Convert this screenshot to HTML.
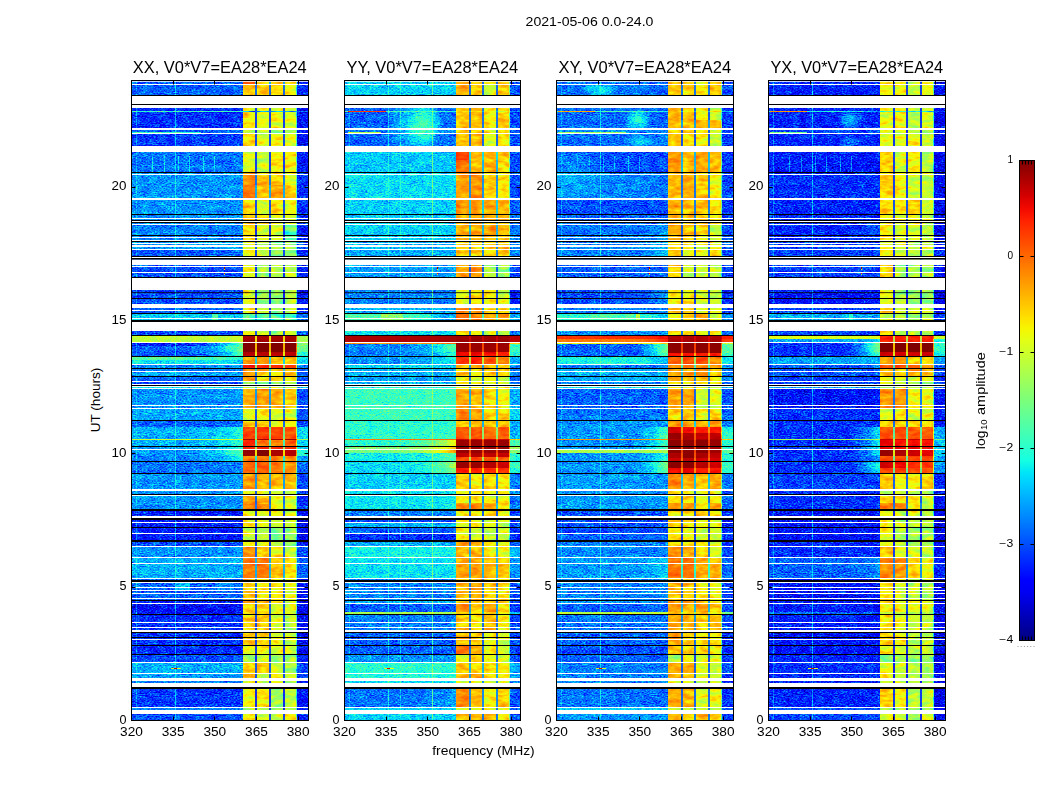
<!DOCTYPE html><html><head><meta charset="utf-8"><title>waterfall</title><style>html,body{margin:0;padding:0;background:#fff}svg{display:block}text{font-family:"Liberation Sans",sans-serif;fill:#000}</style></head><body><svg width="1050" height="800" viewBox="0 0 1050 800"><defs><mask id="mnear2" maskContentUnits="objectBoundingBox"><rect x="0" y="0" width="1" height="1" fill="url(#hg2)"/></mask><linearGradient id="hg2" x1="0" y1="0" x2="1" y2="0"><stop offset="0.72" stop-color="#000"/><stop offset="0.86" stop-color="#606060"/><stop offset="0.95" stop-color="#d0d0d0"/><stop offset="1" stop-color="#fff"/></linearGradient><mask id="mnear" maskContentUnits="objectBoundingBox"><rect x="0" y="0" width="1" height="1" fill="url(#hg)"/></mask><linearGradient id="hg" x1="0" y1="0" x2="1" y2="0"><stop offset="0.5" stop-color="#000"/><stop offset="0.75" stop-color="#404040"/><stop offset="0.9" stop-color="#a0a0a0"/><stop offset="1" stop-color="#fff"/></linearGradient><filter id="nz" x="0" y="0" width="1" height="1" color-interpolation-filters="sRGB"><feTurbulence type="fractalNoise" baseFrequency="0.5 0.9" numOctaves="2" seed="7"/><feColorMatrix type="matrix" values="1 0 0 0 0  1 0 0 0 0  1 0 0 0 0  0 0 0 0 1" result="n"/><feTurbulence type="fractalNoise" baseFrequency="0.12 0.2" numOctaves="2" seed="12"/><feColorMatrix type="matrix" values="1 0 0 0 0  1 0 0 0 0  1 0 0 0 0  0 0 0 0 1" result="m"/><feComposite in="n" in2="m" operator="arithmetic" k1="0" k2="0.72" k3="0.28" k4="0" result="n"/><feComposite in="SourceGraphic" in2="n" operator="arithmetic" k1="-0.620" k2="1.310" k3="0.620" k4="-0.3100"/><feComponentTransfer><feFuncR type="table" tableValues="0 0 0 0 0 0 0 0 0 0 0 0 0 0 0 0 0 0 0 0 0 0 0 0 0 0 0 0 0 0 0 0 0 0 0 0 0.031 0.063 0.098 0.129 0.161 0.192 0.227 0.259 0.29 0.322 0.353 0.388 0.42 0.451 0.482 0.518 0.549 0.58 0.612 0.647 0.678 0.71 0.741 0.773 0.808 0.839 0.871 0.902 0.937 0.969 1 1 1 1 1 1 1 1 1 1 1 1 1 1 1 1 1 1 1 1 1 1 1 1 0.953 0.91 0.863 0.82 0.773 0.725 0.682 0.635 0.592 0.545 0.502"/><feFuncG type="table" tableValues="0 0 0 0 0 0 0 0 0 0 0 0 0 0.02 0.059 0.098 0.141 0.18 0.22 0.259 0.302 0.341 0.38 0.42 0.459 0.502 0.541 0.58 0.62 0.659 0.698 0.741 0.78 0.82 0.859 0.898 0.941 0.98 1 1 1 1 1 1 1 1 1 1 1 1 1 1 1 1 1 1 1 1 1 1 1 1 1 1 1 0.965 0.925 0.89 0.851 0.816 0.776 0.741 0.702 0.667 0.631 0.592 0.557 0.518 0.482 0.443 0.408 0.369 0.333 0.298 0.259 0.224 0.184 0.149 0.11 0.075 0.035 0 0 0 0 0 0 0 0 0 0"/><feFuncB type="table" tableValues="0.502 0.545 0.592 0.635 0.682 0.725 0.773 0.82 0.863 0.91 0.953 1 1 1 1 1 1 1 1 1 1 1 1 1 1 1 1 1 1 1 1 1 1 1 1 0.969 0.937 0.902 0.871 0.839 0.808 0.773 0.741 0.71 0.678 0.647 0.612 0.58 0.549 0.518 0.482 0.451 0.42 0.388 0.353 0.322 0.29 0.259 0.227 0.192 0.161 0.129 0.098 0.063 0.031 0 0 0 0 0 0 0 0 0 0 0 0 0 0 0 0 0 0 0 0 0 0 0 0 0 0 0 0 0 0 0 0 0 0 0 0"/><feFuncA type="table" tableValues="1 1"/></feComponentTransfer></filter><filter id="nb" x="0" y="0" width="1" height="1" color-interpolation-filters="sRGB"><feTurbulence type="fractalNoise" baseFrequency="0.1 0.22" numOctaves="3" seed="11"/><feColorMatrix type="matrix" values="1 0 0 0 0  1 0 0 0 0  1 0 0 0 0  0 0 0 0 1" result="n"/><feComposite in="SourceGraphic" in2="n" operator="arithmetic" k1="-0.700" k2="1.350" k3="0.700" k4="-0.3500"/><feComponentTransfer><feFuncR type="table" tableValues="0 0 0 0 0 0 0 0 0 0 0 0 0 0 0 0 0 0 0 0 0 0 0 0 0 0 0 0 0 0 0 0 0 0 0 0 0.031 0.063 0.098 0.129 0.161 0.192 0.227 0.259 0.29 0.322 0.353 0.388 0.42 0.451 0.482 0.518 0.549 0.58 0.612 0.647 0.678 0.71 0.741 0.773 0.808 0.839 0.871 0.902 0.937 0.969 1 1 1 1 1 1 1 1 1 1 1 1 1 1 1 1 1 1 1 1 1 1 1 1 0.953 0.91 0.863 0.82 0.773 0.725 0.682 0.635 0.592 0.545 0.502"/><feFuncG type="table" tableValues="0 0 0 0 0 0 0 0 0 0 0 0 0 0.02 0.059 0.098 0.141 0.18 0.22 0.259 0.302 0.341 0.38 0.42 0.459 0.502 0.541 0.58 0.62 0.659 0.698 0.741 0.78 0.82 0.859 0.898 0.941 0.98 1 1 1 1 1 1 1 1 1 1 1 1 1 1 1 1 1 1 1 1 1 1 1 1 1 1 1 0.965 0.925 0.89 0.851 0.816 0.776 0.741 0.702 0.667 0.631 0.592 0.557 0.518 0.482 0.443 0.408 0.369 0.333 0.298 0.259 0.224 0.184 0.149 0.11 0.075 0.035 0 0 0 0 0 0 0 0 0 0"/><feFuncB type="table" tableValues="0.502 0.545 0.592 0.635 0.682 0.725 0.773 0.82 0.863 0.91 0.953 1 1 1 1 1 1 1 1 1 1 1 1 1 1 1 1 1 1 1 1 1 1 1 1 0.969 0.937 0.902 0.871 0.839 0.808 0.773 0.741 0.71 0.678 0.647 0.612 0.58 0.549 0.518 0.482 0.451 0.42 0.388 0.353 0.322 0.29 0.259 0.227 0.192 0.161 0.129 0.098 0.063 0.031 0 0 0 0 0 0 0 0 0 0 0 0 0 0 0 0 0 0 0 0 0 0 0 0 0 0 0 0 0 0 0 0 0 0 0 0"/><feFuncA type="table" tableValues="1 1"/></feComponentTransfer></filter><radialGradient id="bl5e"><stop offset="0" stop-color="#5e5e5e"/><stop offset=".5" stop-color="#5e5e5e" stop-opacity=".6"/><stop offset="1" stop-color="#5e5e5e" stop-opacity="0"/></radialGradient><radialGradient id="bl78"><stop offset="0" stop-color="#787878"/><stop offset=".5" stop-color="#787878" stop-opacity=".6"/><stop offset="1" stop-color="#787878" stop-opacity="0"/></radialGradient><radialGradient id="bl33"><stop offset="0" stop-color="#333333"/><stop offset=".5" stop-color="#333333" stop-opacity=".6"/><stop offset="1" stop-color="#333333" stop-opacity="0"/></radialGradient><radialGradient id="bl4f"><stop offset="0" stop-color="#4f4f4f"/><stop offset=".5" stop-color="#4f4f4f" stop-opacity=".6"/><stop offset="1" stop-color="#4f4f4f" stop-opacity="0"/></radialGradient><radialGradient id="bl6b"><stop offset="0" stop-color="#6b6b6b"/><stop offset=".5" stop-color="#6b6b6b" stop-opacity=".6"/><stop offset="1" stop-color="#6b6b6b" stop-opacity="0"/></radialGradient><radialGradient id="bl5c"><stop offset="0" stop-color="#5c5c5c"/><stop offset=".5" stop-color="#5c5c5c" stop-opacity=".6"/><stop offset="1" stop-color="#5c5c5c" stop-opacity="0"/></radialGradient><radialGradient id="bl61"><stop offset="0" stop-color="#616161"/><stop offset=".5" stop-color="#616161" stop-opacity=".6"/><stop offset="1" stop-color="#616161" stop-opacity="0"/></radialGradient><radialGradient id="bl52"><stop offset="0" stop-color="#525252"/><stop offset=".5" stop-color="#525252" stop-opacity=".6"/><stop offset="1" stop-color="#525252" stop-opacity="0"/></radialGradient><radialGradient id="bl47"><stop offset="0" stop-color="#474747"/><stop offset=".5" stop-color="#474747" stop-opacity=".6"/><stop offset="1" stop-color="#474747" stop-opacity="0"/></radialGradient><linearGradient id="p0L" x2="0" y2="1"><stop offset=".0008" stop-color="#383838"/><stop offset=".0242" stop-color="#383838"/><stop offset=".0242" stop-color="#2b2b2b"/><stop offset=".0477" stop-color="#2b2b2b"/><stop offset=".0477" stop-color="#4c4c4c"/><stop offset=".0492" stop-color="#4c4c4c"/><stop offset=".0492" stop-color="#2b2b2b"/><stop offset=".0773" stop-color="#2b2b2b"/><stop offset=".0773" stop-color="#383838"/><stop offset=".0836" stop-color="#383838"/><stop offset=".0836" stop-color="#2e2e2e"/><stop offset=".1023" stop-color="#2e2e2e"/><stop offset=".1023" stop-color="#3d3d3d"/><stop offset=".1445" stop-color="#3d3d3d"/><stop offset=".1445" stop-color="#454545"/><stop offset=".2258" stop-color="#454545"/><stop offset=".2258" stop-color="#404040"/><stop offset=".2523" stop-color="#404040"/><stop offset=".2523" stop-color="#474747"/><stop offset=".2648" stop-color="#474747"/><stop offset=".2648" stop-color="#363636"/><stop offset=".2773" stop-color="#363636"/><stop offset=".2773" stop-color="#333333"/><stop offset=".3508" stop-color="#333333"/><stop offset=".3508" stop-color="#383838"/><stop offset=".3648" stop-color="#383838"/><stop offset=".3648" stop-color="#545454"/><stop offset=".3758" stop-color="#545454"/><stop offset=".3758" stop-color="#333333"/><stop offset=".3992" stop-color="#333333"/><stop offset=".3992" stop-color="#949494"/><stop offset=".4102" stop-color="#949494"/><stop offset=".4102" stop-color="#262626"/><stop offset=".4148" stop-color="#262626"/><stop offset=".4148" stop-color="#383838"/><stop offset=".4242" stop-color="#383838"/><stop offset=".4242" stop-color="#333333"/><stop offset=".432" stop-color="#333333"/><stop offset=".432" stop-color="#737373"/><stop offset=".4367" stop-color="#737373"/><stop offset=".4367" stop-color="#5c5c5c"/><stop offset=".4445" stop-color="#5c5c5c"/><stop offset=".4445" stop-color="#404040"/><stop offset=".4555" stop-color="#404040"/><stop offset=".4555" stop-color="#4c4c4c"/><stop offset=".4633" stop-color="#4c4c4c"/><stop offset=".4633" stop-color="#383838"/><stop offset=".4711" stop-color="#383838"/><stop offset=".4711" stop-color="#333333"/><stop offset=".4773" stop-color="#333333"/><stop offset=".4773" stop-color="#595959"/><stop offset=".482" stop-color="#595959"/><stop offset=".482" stop-color="#454545"/><stop offset=".5133" stop-color="#454545"/><stop offset=".5133" stop-color="#4a4a4a"/><stop offset=".532" stop-color="#4a4a4a"/><stop offset=".532" stop-color="#383838"/><stop offset=".5414" stop-color="#383838"/><stop offset=".5414" stop-color="#4c4c4c"/><stop offset=".5602" stop-color="#4c4c4c"/><stop offset=".5602" stop-color="#999999"/><stop offset=".5617" stop-color="#999999"/><stop offset=".5617" stop-color="#4c4c4c"/><stop offset=".5727" stop-color="#4c4c4c"/><stop offset=".5727" stop-color="#474747"/><stop offset=".5773" stop-color="#474747"/><stop offset=".5773" stop-color="#454545"/><stop offset=".5867" stop-color="#454545"/><stop offset=".5867" stop-color="#404040"/><stop offset=".5961" stop-color="#404040"/><stop offset=".5961" stop-color="#3d3d3d"/><stop offset=".6148" stop-color="#3d3d3d"/><stop offset=".6148" stop-color="#454545"/><stop offset=".6414" stop-color="#454545"/><stop offset=".6414" stop-color="#474747"/><stop offset=".6492" stop-color="#474747"/><stop offset=".6492" stop-color="#454545"/><stop offset=".6711" stop-color="#454545"/><stop offset=".6711" stop-color="#262626"/><stop offset=".7195" stop-color="#262626"/><stop offset=".7195" stop-color="#333333"/><stop offset=".7289" stop-color="#333333"/><stop offset=".7289" stop-color="#454545"/><stop offset=".7461" stop-color="#454545"/><stop offset=".7461" stop-color="#4c4c4c"/><stop offset=".7789" stop-color="#4c4c4c"/><stop offset=".7789" stop-color="#383838"/><stop offset=".8117" stop-color="#383838"/><stop offset=".8117" stop-color="#262626"/><stop offset=".818" stop-color="#262626"/><stop offset=".818" stop-color="#212121"/><stop offset=".8352" stop-color="#212121"/><stop offset=".8352" stop-color="#2b2b2b"/><stop offset=".8836" stop-color="#2b2b2b"/><stop offset=".8836" stop-color="#292929"/><stop offset=".8977" stop-color="#292929"/><stop offset=".8977" stop-color="#333333"/><stop offset=".9102" stop-color="#333333"/><stop offset=".9102" stop-color="#4c4c4c"/><stop offset=".9273" stop-color="#4c4c4c"/><stop offset=".9273" stop-color="#474747"/><stop offset=".9383" stop-color="#474747"/><stop offset=".9383" stop-color="#404040"/><stop offset=".9508" stop-color="#404040"/><stop offset=".9508" stop-color="#2e2e2e"/><stop offset=".9805" stop-color="#2e2e2e"/><stop offset=".9805" stop-color="#404040"/><stop offset=".9898" stop-color="#404040"/><stop offset=".9898" stop-color="#333333"/><stop offset="1" stop-color="#333333"/></linearGradient><linearGradient id="p0b0" x2="0" y2="1"><stop offset=".0008" stop-color="#d1d1d1"/><stop offset=".0055" stop-color="#d1d1d1"/><stop offset=".0055" stop-color="#b3b3b3"/><stop offset=".0242" stop-color="#b3b3b3"/><stop offset=".0242" stop-color="#a3a3a3"/><stop offset=".0477" stop-color="#a3a3a3"/><stop offset=".0477" stop-color="#525252"/><stop offset=".0492" stop-color="#525252"/><stop offset=".0492" stop-color="#a8a8a8"/><stop offset=".0773" stop-color="#a8a8a8"/><stop offset=".0773" stop-color="#919191"/><stop offset=".0836" stop-color="#919191"/><stop offset=".0836" stop-color="#adadad"/><stop offset=".1023" stop-color="#adadad"/><stop offset=".1023" stop-color="#9e9e9e"/><stop offset=".1445" stop-color="#9e9e9e"/><stop offset=".1445" stop-color="#c2c2c2"/><stop offset=".1633" stop-color="#c2c2c2"/><stop offset=".1633" stop-color="#c7c7c7"/><stop offset=".1836" stop-color="#c7c7c7"/><stop offset=".1836" stop-color="#adadad"/><stop offset=".2102" stop-color="#adadad"/><stop offset=".2102" stop-color="#b3b3b3"/><stop offset=".2258" stop-color="#b3b3b3"/><stop offset=".2258" stop-color="#adadad"/><stop offset=".2523" stop-color="#adadad"/><stop offset=".2523" stop-color="#9e9e9e"/><stop offset=".2648" stop-color="#9e9e9e"/><stop offset=".2648" stop-color="#a3a3a3"/><stop offset=".3086" stop-color="#a3a3a3"/><stop offset=".3086" stop-color="#9e9e9e"/><stop offset=".3508" stop-color="#9e9e9e"/><stop offset=".3508" stop-color="#adadad"/><stop offset=".3648" stop-color="#adadad"/><stop offset=".3648" stop-color="#787878"/><stop offset=".3758" stop-color="#787878"/><stop offset=".3758" stop-color="#999999"/><stop offset=".3992" stop-color="#999999"/><stop offset=".3992" stop-color="#f7f7f7"/><stop offset=".4102" stop-color="#f7f7f7"/><stop offset=".4102" stop-color="#ffffff"/><stop offset=".4242" stop-color="#ffffff"/><stop offset=".4242" stop-color="#f2f2f2"/><stop offset=".432" stop-color="#f2f2f2"/><stop offset=".432" stop-color="#b8b8b8"/><stop offset=".4367" stop-color="#b8b8b8"/><stop offset=".4367" stop-color="#c2c2c2"/><stop offset=".4445" stop-color="#c2c2c2"/><stop offset=".4445" stop-color="#e0e0e0"/><stop offset=".4508" stop-color="#e0e0e0"/><stop offset=".4508" stop-color="#c4c4c4"/><stop offset=".4555" stop-color="#c4c4c4"/><stop offset=".4555" stop-color="#bdbdbd"/><stop offset=".4633" stop-color="#bdbdbd"/><stop offset=".4633" stop-color="#b8b8b8"/><stop offset=".4711" stop-color="#b8b8b8"/><stop offset=".4711" stop-color="#919191"/><stop offset=".482" stop-color="#919191"/><stop offset=".482" stop-color="#b8b8b8"/><stop offset=".5133" stop-color="#b8b8b8"/><stop offset=".5133" stop-color="#9e9e9e"/><stop offset=".532" stop-color="#9e9e9e"/><stop offset=".532" stop-color="#adadad"/><stop offset=".5414" stop-color="#adadad"/><stop offset=".5414" stop-color="#d6d6d6"/><stop offset=".5602" stop-color="#d6d6d6"/><stop offset=".5602" stop-color="#f7f7f7"/><stop offset=".5617" stop-color="#f7f7f7"/><stop offset=".5617" stop-color="#dedede"/><stop offset=".5727" stop-color="#dedede"/><stop offset=".5727" stop-color="#e0e0e0"/><stop offset=".5773" stop-color="#e0e0e0"/><stop offset=".5773" stop-color="#fafafa"/><stop offset=".5867" stop-color="#fafafa"/><stop offset=".5867" stop-color="#c7c7c7"/><stop offset=".5961" stop-color="#c7c7c7"/><stop offset=".5961" stop-color="#cccccc"/><stop offset=".6148" stop-color="#cccccc"/><stop offset=".6148" stop-color="#bdbdbd"/><stop offset=".6414" stop-color="#bdbdbd"/><stop offset=".6414" stop-color="#9e9e9e"/><stop offset=".6492" stop-color="#9e9e9e"/><stop offset=".6492" stop-color="#bdbdbd"/><stop offset=".6617" stop-color="#bdbdbd"/><stop offset=".6617" stop-color="#c7c7c7"/><stop offset=".6711" stop-color="#c7c7c7"/><stop offset=".6711" stop-color="#999999"/><stop offset=".6836" stop-color="#999999"/><stop offset=".6836" stop-color="#a8a8a8"/><stop offset=".6992" stop-color="#a8a8a8"/><stop offset=".6992" stop-color="#999999"/><stop offset=".7195" stop-color="#999999"/><stop offset=".7195" stop-color="#a3a3a3"/><stop offset=".7289" stop-color="#a3a3a3"/><stop offset=".7289" stop-color="#c2c2c2"/><stop offset=".7461" stop-color="#c2c2c2"/><stop offset=".7461" stop-color="#c7c7c7"/><stop offset=".7789" stop-color="#c7c7c7"/><stop offset=".7789" stop-color="#b3b3b3"/><stop offset=".8117" stop-color="#b3b3b3"/><stop offset=".8117" stop-color="#b8b8b8"/><stop offset=".818" stop-color="#b8b8b8"/><stop offset=".818" stop-color="#adadad"/><stop offset=".8617" stop-color="#adadad"/><stop offset=".8617" stop-color="#b3b3b3"/><stop offset=".8836" stop-color="#b3b3b3"/><stop offset=".8836" stop-color="#a3a3a3"/><stop offset=".8977" stop-color="#a3a3a3"/><stop offset=".8977" stop-color="#858585"/><stop offset=".9102" stop-color="#858585"/><stop offset=".9102" stop-color="#adadad"/><stop offset=".9273" stop-color="#adadad"/><stop offset=".9273" stop-color="#b8b8b8"/><stop offset=".9383" stop-color="#b8b8b8"/><stop offset=".9383" stop-color="#9e9e9e"/><stop offset=".9508" stop-color="#9e9e9e"/><stop offset=".9508" stop-color="#a3a3a3"/><stop offset=".9805" stop-color="#a3a3a3"/><stop offset=".9805" stop-color="#919191"/><stop offset=".9898" stop-color="#919191"/><stop offset=".9898" stop-color="#a8a8a8"/><stop offset="1" stop-color="#a8a8a8"/></linearGradient><linearGradient id="p0b1" x2="0" y2="1"><stop offset=".0008" stop-color="#b3b3b3"/><stop offset=".0055" stop-color="#b3b3b3"/><stop offset=".0055" stop-color="#adadad"/><stop offset=".0242" stop-color="#adadad"/><stop offset=".0242" stop-color="#a3a3a3"/><stop offset=".0477" stop-color="#a3a3a3"/><stop offset=".0477" stop-color="#525252"/><stop offset=".0492" stop-color="#525252"/><stop offset=".0492" stop-color="#9e9e9e"/><stop offset=".0773" stop-color="#9e9e9e"/><stop offset=".0773" stop-color="#919191"/><stop offset=".0836" stop-color="#919191"/><stop offset=".0836" stop-color="#9e9e9e"/><stop offset=".1023" stop-color="#9e9e9e"/><stop offset=".1023" stop-color="#949494"/><stop offset=".1445" stop-color="#949494"/><stop offset=".1445" stop-color="#b3b3b3"/><stop offset=".1836" stop-color="#b3b3b3"/><stop offset=".1836" stop-color="#9e9e9e"/><stop offset=".2102" stop-color="#9e9e9e"/><stop offset=".2102" stop-color="#adadad"/><stop offset=".2258" stop-color="#adadad"/><stop offset=".2258" stop-color="#9e9e9e"/><stop offset=".2523" stop-color="#9e9e9e"/><stop offset=".2523" stop-color="#949494"/><stop offset=".2648" stop-color="#949494"/><stop offset=".2648" stop-color="#9e9e9e"/><stop offset=".2773" stop-color="#9e9e9e"/><stop offset=".2773" stop-color="#858585"/><stop offset=".3508" stop-color="#858585"/><stop offset=".3508" stop-color="#949494"/><stop offset=".3648" stop-color="#949494"/><stop offset=".3648" stop-color="#707070"/><stop offset=".3758" stop-color="#707070"/><stop offset=".3758" stop-color="#919191"/><stop offset=".3992" stop-color="#919191"/><stop offset=".3992" stop-color="#f7f7f7"/><stop offset=".4102" stop-color="#f7f7f7"/><stop offset=".4102" stop-color="#ffffff"/><stop offset=".4242" stop-color="#ffffff"/><stop offset=".4242" stop-color="#f2f2f2"/><stop offset=".432" stop-color="#f2f2f2"/><stop offset=".432" stop-color="#bdbdbd"/><stop offset=".4445" stop-color="#bdbdbd"/><stop offset=".4445" stop-color="#e0e0e0"/><stop offset=".4508" stop-color="#e0e0e0"/><stop offset=".4508" stop-color="#c4c4c4"/><stop offset=".4555" stop-color="#c4c4c4"/><stop offset=".4555" stop-color="#adadad"/><stop offset=".4633" stop-color="#adadad"/><stop offset=".4633" stop-color="#9e9e9e"/><stop offset=".4711" stop-color="#9e9e9e"/><stop offset=".4711" stop-color="#858585"/><stop offset=".4773" stop-color="#858585"/><stop offset=".4773" stop-color="#919191"/><stop offset=".482" stop-color="#919191"/><stop offset=".482" stop-color="#bdbdbd"/><stop offset=".5133" stop-color="#bdbdbd"/><stop offset=".5133" stop-color="#a3a3a3"/><stop offset=".532" stop-color="#a3a3a3"/><stop offset=".532" stop-color="#adadad"/><stop offset=".5414" stop-color="#adadad"/><stop offset=".5414" stop-color="#d9d9d9"/><stop offset=".5602" stop-color="#d9d9d9"/><stop offset=".5602" stop-color="#f7f7f7"/><stop offset=".5617" stop-color="#f7f7f7"/><stop offset=".5617" stop-color="#c4c4c4"/><stop offset=".5727" stop-color="#c4c4c4"/><stop offset=".5727" stop-color="#e0e0e0"/><stop offset=".5773" stop-color="#e0e0e0"/><stop offset=".5773" stop-color="#ffffff"/><stop offset=".5867" stop-color="#ffffff"/><stop offset=".5867" stop-color="#c7c7c7"/><stop offset=".5961" stop-color="#c7c7c7"/><stop offset=".5961" stop-color="#d1d1d1"/><stop offset=".6148" stop-color="#d1d1d1"/><stop offset=".6148" stop-color="#b8b8b8"/><stop offset=".6414" stop-color="#b8b8b8"/><stop offset=".6414" stop-color="#9e9e9e"/><stop offset=".6492" stop-color="#9e9e9e"/><stop offset=".6492" stop-color="#b8b8b8"/><stop offset=".6617" stop-color="#b8b8b8"/><stop offset=".6617" stop-color="#c7c7c7"/><stop offset=".6711" stop-color="#c7c7c7"/><stop offset=".6711" stop-color="#a3a3a3"/><stop offset=".6836" stop-color="#a3a3a3"/><stop offset=".6836" stop-color="#9e9e9e"/><stop offset=".6992" stop-color="#9e9e9e"/><stop offset=".6992" stop-color="#919191"/><stop offset=".7195" stop-color="#919191"/><stop offset=".7195" stop-color="#999999"/><stop offset=".7289" stop-color="#999999"/><stop offset=".7289" stop-color="#adadad"/><stop offset=".7461" stop-color="#adadad"/><stop offset=".7461" stop-color="#c7c7c7"/><stop offset=".7789" stop-color="#c7c7c7"/><stop offset=".7789" stop-color="#a8a8a8"/><stop offset=".8117" stop-color="#a8a8a8"/><stop offset=".8117" stop-color="#b3b3b3"/><stop offset=".818" stop-color="#b3b3b3"/><stop offset=".818" stop-color="#adadad"/><stop offset=".8352" stop-color="#adadad"/><stop offset=".8352" stop-color="#b3b3b3"/><stop offset=".8617" stop-color="#b3b3b3"/><stop offset=".8617" stop-color="#adadad"/><stop offset=".8836" stop-color="#adadad"/><stop offset=".8836" stop-color="#a3a3a3"/><stop offset=".8977" stop-color="#a3a3a3"/><stop offset=".8977" stop-color="#969696"/><stop offset=".9102" stop-color="#969696"/><stop offset=".9102" stop-color="#b3b3b3"/><stop offset=".9273" stop-color="#b3b3b3"/><stop offset=".9273" stop-color="#9e9e9e"/><stop offset=".9508" stop-color="#9e9e9e"/><stop offset=".9508" stop-color="#a8a8a8"/><stop offset=".9805" stop-color="#a8a8a8"/><stop offset=".9805" stop-color="#919191"/><stop offset=".9898" stop-color="#919191"/><stop offset=".9898" stop-color="#9e9e9e"/><stop offset="1" stop-color="#9e9e9e"/></linearGradient><linearGradient id="p0b2" x2="0" y2="1"><stop offset=".0008" stop-color="#b3b3b3"/><stop offset=".0055" stop-color="#b3b3b3"/><stop offset=".0055" stop-color="#adadad"/><stop offset=".0242" stop-color="#adadad"/><stop offset=".0242" stop-color="#9e9e9e"/><stop offset=".0477" stop-color="#9e9e9e"/><stop offset=".0477" stop-color="#4d4d4d"/><stop offset=".0492" stop-color="#4d4d4d"/><stop offset=".0492" stop-color="#9e9e9e"/><stop offset=".0773" stop-color="#9e9e9e"/><stop offset=".0773" stop-color="#8a8a8a"/><stop offset=".0836" stop-color="#8a8a8a"/><stop offset=".0836" stop-color="#a3a3a3"/><stop offset=".1023" stop-color="#a3a3a3"/><stop offset=".1023" stop-color="#a8a8a8"/><stop offset=".1445" stop-color="#a8a8a8"/><stop offset=".1445" stop-color="#adadad"/><stop offset=".1633" stop-color="#adadad"/><stop offset=".1633" stop-color="#bdbdbd"/><stop offset=".1836" stop-color="#bdbdbd"/><stop offset=".1836" stop-color="#a8a8a8"/><stop offset=".2102" stop-color="#a8a8a8"/><stop offset=".2102" stop-color="#9e9e9e"/><stop offset=".2258" stop-color="#9e9e9e"/><stop offset=".2258" stop-color="#999999"/><stop offset=".2523" stop-color="#999999"/><stop offset=".2523" stop-color="#858585"/><stop offset=".2773" stop-color="#858585"/><stop offset=".2773" stop-color="#919191"/><stop offset=".3086" stop-color="#919191"/><stop offset=".3086" stop-color="#858585"/><stop offset=".3508" stop-color="#858585"/><stop offset=".3508" stop-color="#8a8a8a"/><stop offset=".3648" stop-color="#8a8a8a"/><stop offset=".3648" stop-color="#707070"/><stop offset=".3758" stop-color="#707070"/><stop offset=".3758" stop-color="#858585"/><stop offset=".3992" stop-color="#858585"/><stop offset=".3992" stop-color="#f7f7f7"/><stop offset=".4102" stop-color="#f7f7f7"/><stop offset=".4102" stop-color="#ffffff"/><stop offset=".4242" stop-color="#ffffff"/><stop offset=".4242" stop-color="#f2f2f2"/><stop offset=".432" stop-color="#f2f2f2"/><stop offset=".432" stop-color="#b8b8b8"/><stop offset=".4367" stop-color="#b8b8b8"/><stop offset=".4367" stop-color="#b3b3b3"/><stop offset=".4445" stop-color="#b3b3b3"/><stop offset=".4445" stop-color="#dedede"/><stop offset=".4508" stop-color="#dedede"/><stop offset=".4508" stop-color="#bdbdbd"/><stop offset=".4555" stop-color="#bdbdbd"/><stop offset=".4555" stop-color="#a8a8a8"/><stop offset=".4633" stop-color="#a8a8a8"/><stop offset=".4633" stop-color="#adadad"/><stop offset=".4711" stop-color="#adadad"/><stop offset=".4711" stop-color="#858585"/><stop offset=".4773" stop-color="#858585"/><stop offset=".4773" stop-color="#919191"/><stop offset=".482" stop-color="#919191"/><stop offset=".482" stop-color="#b8b8b8"/><stop offset=".5133" stop-color="#b8b8b8"/><stop offset=".5133" stop-color="#9e9e9e"/><stop offset=".532" stop-color="#9e9e9e"/><stop offset=".532" stop-color="#a8a8a8"/><stop offset=".5414" stop-color="#a8a8a8"/><stop offset=".5414" stop-color="#d6d6d6"/><stop offset=".5602" stop-color="#d6d6d6"/><stop offset=".5602" stop-color="#f7f7f7"/><stop offset=".5617" stop-color="#f7f7f7"/><stop offset=".5617" stop-color="#c4c4c4"/><stop offset=".5727" stop-color="#c4c4c4"/><stop offset=".5727" stop-color="#dedede"/><stop offset=".5773" stop-color="#dedede"/><stop offset=".5773" stop-color="#f5f5f5"/><stop offset=".5867" stop-color="#f5f5f5"/><stop offset=".5867" stop-color="#c2c2c2"/><stop offset=".5961" stop-color="#c2c2c2"/><stop offset=".5961" stop-color="#c7c7c7"/><stop offset=".6148" stop-color="#c7c7c7"/><stop offset=".6148" stop-color="#b3b3b3"/><stop offset=".6414" stop-color="#b3b3b3"/><stop offset=".6414" stop-color="#999999"/><stop offset=".6492" stop-color="#999999"/><stop offset=".6492" stop-color="#9e9e9e"/><stop offset=".6711" stop-color="#9e9e9e"/><stop offset=".6711" stop-color="#a3a3a3"/><stop offset=".6836" stop-color="#a3a3a3"/><stop offset=".6836" stop-color="#999999"/><stop offset=".6992" stop-color="#999999"/><stop offset=".6992" stop-color="#858585"/><stop offset=".7195" stop-color="#858585"/><stop offset=".7195" stop-color="#919191"/><stop offset=".7289" stop-color="#919191"/><stop offset=".7289" stop-color="#a8a8a8"/><stop offset=".7461" stop-color="#a8a8a8"/><stop offset=".7461" stop-color="#b3b3b3"/><stop offset=".7789" stop-color="#b3b3b3"/><stop offset=".7789" stop-color="#a8a8a8"/><stop offset=".818" stop-color="#a8a8a8"/><stop offset=".818" stop-color="#a3a3a3"/><stop offset=".8352" stop-color="#a3a3a3"/><stop offset=".8352" stop-color="#9e9e9e"/><stop offset=".8977" stop-color="#9e9e9e"/><stop offset=".8977" stop-color="#919191"/><stop offset=".9102" stop-color="#919191"/><stop offset=".9102" stop-color="#969696"/><stop offset=".9273" stop-color="#969696"/><stop offset=".9273" stop-color="#a3a3a3"/><stop offset=".9383" stop-color="#a3a3a3"/><stop offset=".9383" stop-color="#999999"/><stop offset=".9508" stop-color="#999999"/><stop offset=".9508" stop-color="#8a8a8a"/><stop offset=".9898" stop-color="#8a8a8a"/><stop offset=".9898" stop-color="#999999"/><stop offset="1" stop-color="#999999"/></linearGradient><linearGradient id="p0b3" x2="0" y2="1"><stop offset=".0008" stop-color="#adadad"/><stop offset=".0055" stop-color="#adadad"/><stop offset=".0055" stop-color="#a3a3a3"/><stop offset=".0242" stop-color="#a3a3a3"/><stop offset=".0242" stop-color="#9e9e9e"/><stop offset=".0477" stop-color="#9e9e9e"/><stop offset=".0477" stop-color="#4d4d4d"/><stop offset=".0492" stop-color="#4d4d4d"/><stop offset=".0492" stop-color="#9e9e9e"/><stop offset=".0773" stop-color="#9e9e9e"/><stop offset=".0773" stop-color="#8a8a8a"/><stop offset=".0836" stop-color="#8a8a8a"/><stop offset=".0836" stop-color="#9e9e9e"/><stop offset=".1023" stop-color="#9e9e9e"/><stop offset=".1023" stop-color="#a8a8a8"/><stop offset=".1445" stop-color="#a8a8a8"/><stop offset=".1445" stop-color="#9e9e9e"/><stop offset=".1633" stop-color="#9e9e9e"/><stop offset=".1633" stop-color="#b3b3b3"/><stop offset=".1836" stop-color="#b3b3b3"/><stop offset=".1836" stop-color="#a3a3a3"/><stop offset=".2102" stop-color="#a3a3a3"/><stop offset=".2102" stop-color="#9e9e9e"/><stop offset=".2258" stop-color="#9e9e9e"/><stop offset=".2258" stop-color="#757575"/><stop offset=".2523" stop-color="#757575"/><stop offset=".2523" stop-color="#8a8a8a"/><stop offset=".2773" stop-color="#8a8a8a"/><stop offset=".2773" stop-color="#969696"/><stop offset=".3086" stop-color="#969696"/><stop offset=".3086" stop-color="#919191"/><stop offset=".3648" stop-color="#919191"/><stop offset=".3648" stop-color="#787878"/><stop offset=".3758" stop-color="#787878"/><stop offset=".3758" stop-color="#999999"/><stop offset=".3992" stop-color="#999999"/><stop offset=".3992" stop-color="#f7f7f7"/><stop offset=".4102" stop-color="#f7f7f7"/><stop offset=".4102" stop-color="#ffffff"/><stop offset=".4242" stop-color="#ffffff"/><stop offset=".4242" stop-color="#f2f2f2"/><stop offset=".432" stop-color="#f2f2f2"/><stop offset=".432" stop-color="#b3b3b3"/><stop offset=".4445" stop-color="#b3b3b3"/><stop offset=".4445" stop-color="#d6d6d6"/><stop offset=".4508" stop-color="#d6d6d6"/><stop offset=".4508" stop-color="#bdbdbd"/><stop offset=".4555" stop-color="#bdbdbd"/><stop offset=".4555" stop-color="#b3b3b3"/><stop offset=".4633" stop-color="#b3b3b3"/><stop offset=".4633" stop-color="#adadad"/><stop offset=".4711" stop-color="#adadad"/><stop offset=".4711" stop-color="#858585"/><stop offset=".4773" stop-color="#858585"/><stop offset=".4773" stop-color="#919191"/><stop offset=".482" stop-color="#919191"/><stop offset=".482" stop-color="#b3b3b3"/><stop offset=".5133" stop-color="#b3b3b3"/><stop offset=".5133" stop-color="#9e9e9e"/><stop offset=".532" stop-color="#9e9e9e"/><stop offset=".532" stop-color="#a8a8a8"/><stop offset=".5414" stop-color="#a8a8a8"/><stop offset=".5414" stop-color="#d1d1d1"/><stop offset=".5602" stop-color="#d1d1d1"/><stop offset=".5602" stop-color="#f7f7f7"/><stop offset=".5617" stop-color="#f7f7f7"/><stop offset=".5617" stop-color="#cccccc"/><stop offset=".5727" stop-color="#cccccc"/><stop offset=".5727" stop-color="#dedede"/><stop offset=".5773" stop-color="#dedede"/><stop offset=".5773" stop-color="#f2f2f2"/><stop offset=".5867" stop-color="#f2f2f2"/><stop offset=".5867" stop-color="#c2c2c2"/><stop offset=".6148" stop-color="#c2c2c2"/><stop offset=".6148" stop-color="#b8b8b8"/><stop offset=".6414" stop-color="#b8b8b8"/><stop offset=".6414" stop-color="#999999"/><stop offset=".6492" stop-color="#999999"/><stop offset=".6492" stop-color="#9e9e9e"/><stop offset=".6711" stop-color="#9e9e9e"/><stop offset=".6711" stop-color="#999999"/><stop offset=".6836" stop-color="#999999"/><stop offset=".6836" stop-color="#969696"/><stop offset=".6992" stop-color="#969696"/><stop offset=".6992" stop-color="#858585"/><stop offset=".7289" stop-color="#858585"/><stop offset=".7289" stop-color="#969696"/><stop offset=".7461" stop-color="#969696"/><stop offset=".7461" stop-color="#adadad"/><stop offset=".7789" stop-color="#adadad"/><stop offset=".7789" stop-color="#9e9e9e"/><stop offset=".8352" stop-color="#9e9e9e"/><stop offset=".8352" stop-color="#919191"/><stop offset=".8617" stop-color="#919191"/><stop offset=".8617" stop-color="#999999"/><stop offset=".8977" stop-color="#999999"/><stop offset=".8977" stop-color="#8a8a8a"/><stop offset=".9102" stop-color="#8a8a8a"/><stop offset=".9102" stop-color="#919191"/><stop offset=".9273" stop-color="#919191"/><stop offset=".9273" stop-color="#999999"/><stop offset=".9383" stop-color="#999999"/><stop offset=".9383" stop-color="#919191"/><stop offset=".9508" stop-color="#919191"/><stop offset=".9508" stop-color="#969696"/><stop offset=".9805" stop-color="#969696"/><stop offset=".9805" stop-color="#8a8a8a"/><stop offset=".9898" stop-color="#8a8a8a"/><stop offset=".9898" stop-color="#a8a8a8"/><stop offset="1" stop-color="#a8a8a8"/></linearGradient><linearGradient id="p0s" x2="0" y2="1"><stop offset=".0008" stop-color="#00a1ff"/><stop offset=".0055" stop-color="#00a1ff"/><stop offset=".0055" stop-color="#005cff"/><stop offset=".0242" stop-color="#005cff"/><stop offset=".0242" stop-color="#002eff"/><stop offset=".0477" stop-color="#002eff"/><stop offset=".0477" stop-color="#0080ff"/><stop offset=".0492" stop-color="#0080ff"/><stop offset=".0492" stop-color="#002eff"/><stop offset=".0773" stop-color="#002eff"/><stop offset=".0773" stop-color="#0019ff"/><stop offset=".0836" stop-color="#0019ff"/><stop offset=".0836" stop-color="#0038ff"/><stop offset=".1023" stop-color="#0038ff"/><stop offset=".1023" stop-color="#002eff"/><stop offset=".1445" stop-color="#002eff"/><stop offset=".1445" stop-color="#006bff"/><stop offset=".1633" stop-color="#006bff"/><stop offset=".1633" stop-color="#00a9ff"/><stop offset=".1836" stop-color="#00a9ff"/><stop offset=".1836" stop-color="#0042ff"/><stop offset=".2102" stop-color="#0042ff"/><stop offset=".2102" stop-color="#0047ff"/><stop offset=".2258" stop-color="#0047ff"/><stop offset=".2258" stop-color="#0019ff"/><stop offset=".2523" stop-color="#0019ff"/><stop offset=".2523" stop-color="#004dff"/><stop offset=".2648" stop-color="#004dff"/><stop offset=".2648" stop-color="#0038ff"/><stop offset=".2773" stop-color="#0038ff"/><stop offset=".2773" stop-color="#0019ff"/><stop offset=".3086" stop-color="#0019ff"/><stop offset=".3086" stop-color="#0005ff"/><stop offset=".3508" stop-color="#0005ff"/><stop offset=".3508" stop-color="#0019ff"/><stop offset=".3648" stop-color="#0019ff"/><stop offset=".3648" stop-color="#0080ff"/><stop offset=".3758" stop-color="#0080ff"/><stop offset=".3758" stop-color="#004dff"/><stop offset=".3992" stop-color="#004dff"/><stop offset=".3992" stop-color="#f7f600"/><stop offset=".4102" stop-color="#f7f600"/><stop offset=".4102" stop-color="#ffc600"/><stop offset=".4242" stop-color="#ffc600"/><stop offset=".4242" stop-color="#e6ff10"/><stop offset=".432" stop-color="#e6ff10"/><stop offset=".432" stop-color="#00e5f7"/><stop offset=".4367" stop-color="#00e5f7"/><stop offset=".4367" stop-color="#00d1ff"/><stop offset=".4445" stop-color="#00d1ff"/><stop offset=".4445" stop-color="#90ff67"/><stop offset=".4508" stop-color="#90ff67"/><stop offset=".4508" stop-color="#00d5ff"/><stop offset=".4555" stop-color="#00d5ff"/><stop offset=".4555" stop-color="#0070ff"/><stop offset=".4633" stop-color="#0070ff"/><stop offset=".4633" stop-color="#005cff"/><stop offset=".4711" stop-color="#005cff"/><stop offset=".4711" stop-color="#004dff"/><stop offset=".4773" stop-color="#004dff"/><stop offset=".4773" stop-color="#00b2ff"/><stop offset=".482" stop-color="#00b2ff"/><stop offset=".482" stop-color="#0098ff"/><stop offset=".5133" stop-color="#0098ff"/><stop offset=".5133" stop-color="#004dff"/><stop offset=".532" stop-color="#004dff"/><stop offset=".532" stop-color="#0057ff"/><stop offset=".5414" stop-color="#0057ff"/><stop offset=".5414" stop-color="#66ff91"/><stop offset=".5602" stop-color="#66ff91"/><stop offset=".5602" stop-color="#f7f600"/><stop offset=".5617" stop-color="#f7f600"/><stop offset=".5617" stop-color="#35ffc2"/><stop offset=".5727" stop-color="#35ffc2"/><stop offset=".5727" stop-color="#9aff5d"/><stop offset=".5773" stop-color="#9aff5d"/><stop offset=".5773" stop-color="#f9f300"/><stop offset=".5867" stop-color="#f9f300"/><stop offset=".5867" stop-color="#07efef"/><stop offset=".5961" stop-color="#07efef"/><stop offset=".5961" stop-color="#23ffd3"/><stop offset=".6148" stop-color="#23ffd3"/><stop offset=".6148" stop-color="#0098ff"/><stop offset=".6414" stop-color="#0098ff"/><stop offset=".6414" stop-color="#004dff"/><stop offset=".6492" stop-color="#004dff"/><stop offset=".6492" stop-color="#005cff"/><stop offset=".6617" stop-color="#005cff"/><stop offset=".6617" stop-color="#0075ff"/><stop offset=".6711" stop-color="#0075ff"/><stop offset=".6711" stop-color="#0024ff"/><stop offset=".6836" stop-color="#0024ff"/><stop offset=".6836" stop-color="#0021ff"/><stop offset=".6992" stop-color="#0021ff"/><stop offset=".6992" stop-color="#0000ff"/><stop offset=".7195" stop-color="#0000ff"/><stop offset=".7195" stop-color="#0019ff"/><stop offset=".7289" stop-color="#0019ff"/><stop offset=".7289" stop-color="#0059ff"/><stop offset=".7461" stop-color="#0059ff"/><stop offset=".7461" stop-color="#00b2ff"/><stop offset=".7789" stop-color="#00b2ff"/><stop offset=".7789" stop-color="#004dff"/><stop offset=".8117" stop-color="#004dff"/><stop offset=".8117" stop-color="#005cff"/><stop offset=".818" stop-color="#005cff"/><stop offset=".818" stop-color="#0047ff"/><stop offset=".8352" stop-color="#0047ff"/><stop offset=".8352" stop-color="#003bff"/><stop offset=".8617" stop-color="#003bff"/><stop offset=".8617" stop-color="#0042ff"/><stop offset=".8836" stop-color="#0042ff"/><stop offset=".8836" stop-color="#0029ff"/><stop offset=".8977" stop-color="#0029ff"/><stop offset=".8977" stop-color="#0019ff"/><stop offset=".9102" stop-color="#0019ff"/><stop offset=".9102" stop-color="#004dff"/><stop offset=".9273" stop-color="#004dff"/><stop offset=".9273" stop-color="#003dff"/><stop offset=".9383" stop-color="#003dff"/><stop offset=".9383" stop-color="#0019ff"/><stop offset=".9508" stop-color="#0019ff"/><stop offset=".9508" stop-color="#0017ff"/><stop offset=".9805" stop-color="#0017ff"/><stop offset=".9805" stop-color="#0019ff"/><stop offset=".9898" stop-color="#0019ff"/><stop offset=".9898" stop-color="#0033ff"/><stop offset="1" stop-color="#0033ff"/></linearGradient><linearGradient id="p0R" x2="0" y2="1"><stop offset=".0008" stop-color="#2e2e2e"/><stop offset=".0055" stop-color="#2e2e2e"/><stop offset=".0055" stop-color="#262626"/><stop offset=".0242" stop-color="#262626"/><stop offset=".0242" stop-color="#1f1f1f"/><stop offset=".0477" stop-color="#1f1f1f"/><stop offset=".0477" stop-color="#404040"/><stop offset=".0492" stop-color="#404040"/><stop offset=".0492" stop-color="#1f1f1f"/><stop offset=".0773" stop-color="#1f1f1f"/><stop offset=".0773" stop-color="#262626"/><stop offset=".0836" stop-color="#262626"/><stop offset=".0836" stop-color="#1f1f1f"/><stop offset=".1023" stop-color="#1f1f1f"/><stop offset=".1023" stop-color="#262626"/><stop offset=".1445" stop-color="#262626"/><stop offset=".1445" stop-color="#2b2b2b"/><stop offset=".2258" stop-color="#2b2b2b"/><stop offset=".2258" stop-color="#262626"/><stop offset=".2523" stop-color="#262626"/><stop offset=".2523" stop-color="#333333"/><stop offset=".2648" stop-color="#333333"/><stop offset=".2648" stop-color="#2e2e2e"/><stop offset=".2773" stop-color="#2e2e2e"/><stop offset=".2773" stop-color="#262626"/><stop offset=".3086" stop-color="#262626"/><stop offset=".3086" stop-color="#212121"/><stop offset=".3508" stop-color="#212121"/><stop offset=".3508" stop-color="#262626"/><stop offset=".3648" stop-color="#262626"/><stop offset=".3648" stop-color="#404040"/><stop offset=".3758" stop-color="#404040"/><stop offset=".3758" stop-color="#333333"/><stop offset=".3992" stop-color="#333333"/><stop offset=".3992" stop-color="#8c8c8c"/><stop offset=".4102" stop-color="#8c8c8c"/><stop offset=".4102" stop-color="#808080"/><stop offset=".4148" stop-color="#808080"/><stop offset=".4148" stop-color="#7a7a7a"/><stop offset=".4242" stop-color="#7a7a7a"/><stop offset=".4242" stop-color="#666666"/><stop offset=".432" stop-color="#666666"/><stop offset=".432" stop-color="#595959"/><stop offset=".4367" stop-color="#595959"/><stop offset=".4367" stop-color="#545454"/><stop offset=".4445" stop-color="#545454"/><stop offset=".4445" stop-color="#404040"/><stop offset=".4508" stop-color="#404040"/><stop offset=".4508" stop-color="#383838"/><stop offset=".4633" stop-color="#383838"/><stop offset=".4633" stop-color="#333333"/><stop offset=".4773" stop-color="#333333"/><stop offset=".4773" stop-color="#4c4c4c"/><stop offset=".482" stop-color="#4c4c4c"/><stop offset=".482" stop-color="#333333"/><stop offset=".5414" stop-color="#333333"/><stop offset=".5414" stop-color="#545454"/><stop offset=".5602" stop-color="#545454"/><stop offset=".5602" stop-color="#8c8c8c"/><stop offset=".5617" stop-color="#8c8c8c"/><stop offset=".5617" stop-color="#595959"/><stop offset=".5773" stop-color="#595959"/><stop offset=".5773" stop-color="#666666"/><stop offset=".5867" stop-color="#666666"/><stop offset=".5867" stop-color="#4c4c4c"/><stop offset=".5961" stop-color="#4c4c4c"/><stop offset=".5961" stop-color="#383838"/><stop offset=".6148" stop-color="#383838"/><stop offset=".6148" stop-color="#333333"/><stop offset=".6492" stop-color="#333333"/><stop offset=".6492" stop-color="#2b2b2b"/><stop offset=".6711" stop-color="#2b2b2b"/><stop offset=".6711" stop-color="#212121"/><stop offset=".6836" stop-color="#212121"/><stop offset=".6836" stop-color="#1a1a1a"/><stop offset=".6992" stop-color="#1a1a1a"/><stop offset=".6992" stop-color="#1f1f1f"/><stop offset=".7195" stop-color="#1f1f1f"/><stop offset=".7195" stop-color="#262626"/><stop offset=".7289" stop-color="#262626"/><stop offset=".7289" stop-color="#333333"/><stop offset=".7461" stop-color="#333333"/><stop offset=".7461" stop-color="#383838"/><stop offset=".7789" stop-color="#383838"/><stop offset=".7789" stop-color="#212121"/><stop offset=".8117" stop-color="#212121"/><stop offset=".8117" stop-color="#1f1f1f"/><stop offset=".818" stop-color="#1f1f1f"/><stop offset=".818" stop-color="#1a1a1a"/><stop offset=".8352" stop-color="#1a1a1a"/><stop offset=".8352" stop-color="#1f1f1f"/><stop offset=".8977" stop-color="#1f1f1f"/><stop offset=".8977" stop-color="#262626"/><stop offset=".9102" stop-color="#262626"/><stop offset=".9102" stop-color="#333333"/><stop offset=".9273" stop-color="#333333"/><stop offset=".9273" stop-color="#2e2e2e"/><stop offset=".9383" stop-color="#2e2e2e"/><stop offset=".9383" stop-color="#262626"/><stop offset=".9508" stop-color="#262626"/><stop offset=".9508" stop-color="#212121"/><stop offset=".9805" stop-color="#212121"/><stop offset=".9805" stop-color="#262626"/><stop offset="1" stop-color="#262626"/></linearGradient><linearGradient id="p0e" x2="0" y2="1"><stop offset=".0008" stop-color="#7a7a7a"/><stop offset=".0055" stop-color="#7a7a7a"/><stop offset=".0055" stop-color="#717171"/><stop offset=".0242" stop-color="#717171"/><stop offset=".0242" stop-color="#6b6b6b"/><stop offset=".0477" stop-color="#6b6b6b"/><stop offset=".0477" stop-color="#474747"/><stop offset=".0492" stop-color="#474747"/><stop offset=".0492" stop-color="#6b6b6b"/><stop offset=".0773" stop-color="#6b6b6b"/><stop offset=".0773" stop-color="#626262"/><stop offset=".0836" stop-color="#626262"/><stop offset=".0836" stop-color="#6b6b6b"/><stop offset=".1023" stop-color="#6b6b6b"/><stop offset=".1023" stop-color="#747474"/><stop offset=".1445" stop-color="#747474"/><stop offset=".1445" stop-color="#707070"/><stop offset=".1633" stop-color="#707070"/><stop offset=".1633" stop-color="#7c7c7c"/><stop offset=".1836" stop-color="#7c7c7c"/><stop offset=".1836" stop-color="#737373"/><stop offset=".2102" stop-color="#737373"/><stop offset=".2102" stop-color="#707070"/><stop offset=".2258" stop-color="#707070"/><stop offset=".2258" stop-color="#565656"/><stop offset=".2523" stop-color="#565656"/><stop offset=".2523" stop-color="#676767"/><stop offset=".2648" stop-color="#676767"/><stop offset=".2648" stop-color="#656565"/><stop offset=".2773" stop-color="#656565"/><stop offset=".2773" stop-color="#6a6a6a"/><stop offset=".3086" stop-color="#6a6a6a"/><stop offset=".3086" stop-color="#646464"/><stop offset=".3508" stop-color="#646464"/><stop offset=".3508" stop-color="#676767"/><stop offset=".3648" stop-color="#676767"/><stop offset=".3648" stop-color="#616161"/><stop offset=".3758" stop-color="#616161"/><stop offset=".3758" stop-color="#707070"/><stop offset=".3992" stop-color="#707070"/><stop offset=".3992" stop-color="#cdcdcd"/><stop offset=".4102" stop-color="#cdcdcd"/><stop offset=".4102" stop-color="#cfcfcf"/><stop offset=".4148" stop-color="#cfcfcf"/><stop offset=".4148" stop-color="#cdcdcd"/><stop offset=".4242" stop-color="#cdcdcd"/><stop offset=".4242" stop-color="#bababa"/><stop offset=".432" stop-color="#bababa"/><stop offset=".432" stop-color="#8f8f8f"/><stop offset=".4367" stop-color="#8f8f8f"/><stop offset=".4367" stop-color="#8d8d8d"/><stop offset=".4445" stop-color="#8d8d8d"/><stop offset=".4445" stop-color="#9a9a9a"/><stop offset=".4508" stop-color="#9a9a9a"/><stop offset=".4508" stop-color="#888888"/><stop offset=".4555" stop-color="#888888"/><stop offset=".4555" stop-color="#828282"/><stop offset=".4633" stop-color="#828282"/><stop offset=".4633" stop-color="#7c7c7c"/><stop offset=".4711" stop-color="#7c7c7c"/><stop offset=".4711" stop-color="#646464"/><stop offset=".4773" stop-color="#646464"/><stop offset=".4773" stop-color="#767676"/><stop offset=".482" stop-color="#767676"/><stop offset=".482" stop-color="#808080"/><stop offset=".5133" stop-color="#808080"/><stop offset=".5133" stop-color="#737373"/><stop offset=".532" stop-color="#737373"/><stop offset=".532" stop-color="#797979"/><stop offset=".5414" stop-color="#797979"/><stop offset=".5414" stop-color="#9f9f9f"/><stop offset=".5602" stop-color="#9f9f9f"/><stop offset=".5602" stop-color="#cdcdcd"/><stop offset=".5617" stop-color="#cdcdcd"/><stop offset=".5617" stop-color="#9e9e9e"/><stop offset=".5727" stop-color="#9e9e9e"/><stop offset=".5727" stop-color="#a9a9a9"/><stop offset=".5773" stop-color="#a9a9a9"/><stop offset=".5773" stop-color="#bababa"/><stop offset=".5867" stop-color="#bababa"/><stop offset=".5867" stop-color="#939393"/><stop offset=".5961" stop-color="#939393"/><stop offset=".5961" stop-color="#8b8b8b"/><stop offset=".6148" stop-color="#8b8b8b"/><stop offset=".6148" stop-color="#838383"/><stop offset=".6414" stop-color="#838383"/><stop offset=".6414" stop-color="#707070"/><stop offset=".6711" stop-color="#707070"/><stop offset=".6711" stop-color="#696969"/><stop offset=".6836" stop-color="#696969"/><stop offset=".6836" stop-color="#646464"/><stop offset=".6992" stop-color="#646464"/><stop offset=".6992" stop-color="#5c5c5c"/><stop offset=".7195" stop-color="#5c5c5c"/><stop offset=".7195" stop-color="#5f5f5f"/><stop offset=".7289" stop-color="#5f5f5f"/><stop offset=".7289" stop-color="#6f6f6f"/><stop offset=".7461" stop-color="#6f6f6f"/><stop offset=".7461" stop-color="#7e7e7e"/><stop offset=".7789" stop-color="#7e7e7e"/><stop offset=".7789" stop-color="#6c6c6c"/><stop offset=".8117" stop-color="#6c6c6c"/><stop offset=".8117" stop-color="#6b6b6b"/><stop offset=".818" stop-color="#6b6b6b"/><stop offset=".818" stop-color="#696969"/><stop offset=".8352" stop-color="#696969"/><stop offset=".8352" stop-color="#636363"/><stop offset=".8617" stop-color="#636363"/><stop offset=".8617" stop-color="#686868"/><stop offset=".8977" stop-color="#686868"/><stop offset=".8977" stop-color="#626262"/><stop offset=".9102" stop-color="#626262"/><stop offset=".9102" stop-color="#6c6c6c"/><stop offset=".9273" stop-color="#6c6c6c"/><stop offset=".9273" stop-color="#6e6e6e"/><stop offset=".9383" stop-color="#6e6e6e"/><stop offset=".9383" stop-color="#676767"/><stop offset=".9508" stop-color="#676767"/><stop offset=".9508" stop-color="#686868"/><stop offset=".9805" stop-color="#686868"/><stop offset=".9805" stop-color="#626262"/><stop offset=".9898" stop-color="#626262"/><stop offset=".9898" stop-color="#747474"/><stop offset="1" stop-color="#747474"/></linearGradient><clipPath id="cp0"><rect x="131.5" y="80.5" width="177" height="640"/></clipPath><linearGradient id="p1L" x2="0" y2="1"><stop offset=".0008" stop-color="#545454"/><stop offset=".0242" stop-color="#545454"/><stop offset=".0242" stop-color="#383838"/><stop offset=".0477" stop-color="#383838"/><stop offset=".0477" stop-color="#737373"/><stop offset=".0492" stop-color="#737373"/><stop offset=".0492" stop-color="#383838"/><stop offset=".0773" stop-color="#383838"/><stop offset=".0773" stop-color="#404040"/><stop offset=".0836" stop-color="#404040"/><stop offset=".0836" stop-color="#383838"/><stop offset=".1023" stop-color="#383838"/><stop offset=".1023" stop-color="#525252"/><stop offset=".1445" stop-color="#525252"/><stop offset=".1445" stop-color="#575757"/><stop offset=".1836" stop-color="#575757"/><stop offset=".1836" stop-color="#545454"/><stop offset=".2523" stop-color="#545454"/><stop offset=".2523" stop-color="#4c4c4c"/><stop offset=".2773" stop-color="#4c4c4c"/><stop offset=".2773" stop-color="#474747"/><stop offset=".3086" stop-color="#474747"/><stop offset=".3086" stop-color="#404040"/><stop offset=".3508" stop-color="#404040"/><stop offset=".3508" stop-color="#4c4c4c"/><stop offset=".3648" stop-color="#4c4c4c"/><stop offset=".3648" stop-color="#707070"/><stop offset=".3758" stop-color="#707070"/><stop offset=".3758" stop-color="#595959"/><stop offset=".3992" stop-color="#595959"/><stop offset=".3992" stop-color="#f5f5f5"/><stop offset=".4086" stop-color="#f5f5f5"/><stop offset=".4086" stop-color="#bfbfbf"/><stop offset=".4117" stop-color="#bfbfbf"/><stop offset=".4117" stop-color="#404040"/><stop offset=".432" stop-color="#404040"/><stop offset=".432" stop-color="#454545"/><stop offset=".4445" stop-color="#454545"/><stop offset=".4445" stop-color="#545454"/><stop offset=".4508" stop-color="#545454"/><stop offset=".4508" stop-color="#4c4c4c"/><stop offset=".4633" stop-color="#4c4c4c"/><stop offset=".4633" stop-color="#474747"/><stop offset=".4711" stop-color="#474747"/><stop offset=".4711" stop-color="#4c4c4c"/><stop offset=".4773" stop-color="#4c4c4c"/><stop offset=".4773" stop-color="#616161"/><stop offset=".482" stop-color="#616161"/><stop offset=".482" stop-color="#6b6b6b"/><stop offset=".532" stop-color="#6b6b6b"/><stop offset=".532" stop-color="#666666"/><stop offset=".5602" stop-color="#666666"/><stop offset=".5602" stop-color="#c7c7c7"/><stop offset=".5617" stop-color="#c7c7c7"/><stop offset=".5617" stop-color="#666666"/><stop offset=".5727" stop-color="#666666"/><stop offset=".5727" stop-color="#808080"/><stop offset=".582" stop-color="#808080"/><stop offset=".582" stop-color="#5c5c5c"/><stop offset=".5961" stop-color="#5c5c5c"/><stop offset=".5961" stop-color="#575757"/><stop offset=".6148" stop-color="#575757"/><stop offset=".6148" stop-color="#545454"/><stop offset=".6414" stop-color="#545454"/><stop offset=".6414" stop-color="#595959"/><stop offset=".6711" stop-color="#595959"/><stop offset=".6711" stop-color="#404040"/><stop offset=".6836" stop-color="#404040"/><stop offset=".6836" stop-color="#333333"/><stop offset=".6914" stop-color="#333333"/><stop offset=".6914" stop-color="#4c4c4c"/><stop offset=".6992" stop-color="#4c4c4c"/><stop offset=".6992" stop-color="#383838"/><stop offset=".7086" stop-color="#383838"/><stop offset=".7086" stop-color="#2b2b2b"/><stop offset=".7195" stop-color="#2b2b2b"/><stop offset=".7195" stop-color="#4c4c4c"/><stop offset=".7289" stop-color="#4c4c4c"/><stop offset=".7289" stop-color="#5e5e5e"/><stop offset=".7461" stop-color="#5e5e5e"/><stop offset=".7461" stop-color="#595959"/><stop offset=".7789" stop-color="#595959"/><stop offset=".7789" stop-color="#404040"/><stop offset=".8117" stop-color="#404040"/><stop offset=".8117" stop-color="#4c4c4c"/><stop offset=".818" stop-color="#4c4c4c"/><stop offset=".818" stop-color="#383838"/><stop offset=".8305" stop-color="#383838"/><stop offset=".8305" stop-color="#8c8c8c"/><stop offset=".8336" stop-color="#8c8c8c"/><stop offset=".8336" stop-color="#404040"/><stop offset=".8617" stop-color="#404040"/><stop offset=".8617" stop-color="#383838"/><stop offset=".8977" stop-color="#383838"/><stop offset=".8977" stop-color="#454545"/><stop offset=".9102" stop-color="#454545"/><stop offset=".9102" stop-color="#666666"/><stop offset=".9273" stop-color="#666666"/><stop offset=".9273" stop-color="#616161"/><stop offset=".9383" stop-color="#616161"/><stop offset=".9383" stop-color="#595959"/><stop offset=".9508" stop-color="#595959"/><stop offset=".9508" stop-color="#3d3d3d"/><stop offset=".9805" stop-color="#3d3d3d"/><stop offset=".9805" stop-color="#545454"/><stop offset="1" stop-color="#545454"/></linearGradient><linearGradient id="p1b0" x2="0" y2="1"><stop offset=".0008" stop-color="#b6b6b6"/><stop offset=".0242" stop-color="#b6b6b6"/><stop offset=".0242" stop-color="#b1b1b1"/><stop offset=".0477" stop-color="#b1b1b1"/><stop offset=".0477" stop-color="#acacac"/><stop offset=".0492" stop-color="#acacac"/><stop offset=".0492" stop-color="#b1b1b1"/><stop offset=".0773" stop-color="#b1b1b1"/><stop offset=".0773" stop-color="#acacac"/><stop offset=".0836" stop-color="#acacac"/><stop offset=".0836" stop-color="#b1b1b1"/><stop offset=".1023" stop-color="#b1b1b1"/><stop offset=".1023" stop-color="#d7d7d7"/><stop offset=".1242" stop-color="#d7d7d7"/><stop offset=".1242" stop-color="#cbcbcb"/><stop offset=".1445" stop-color="#cbcbcb"/><stop offset=".1445" stop-color="#bbbbbb"/><stop offset=".1836" stop-color="#bbbbbb"/><stop offset=".1836" stop-color="#c1c1c1"/><stop offset=".2102" stop-color="#c1c1c1"/><stop offset=".2102" stop-color="#bbbbbb"/><stop offset=".2258" stop-color="#bbbbbb"/><stop offset=".2258" stop-color="#b6b6b6"/><stop offset=".2523" stop-color="#b6b6b6"/><stop offset=".2523" stop-color="#b1b1b1"/><stop offset=".2773" stop-color="#b1b1b1"/><stop offset=".2773" stop-color="#bbbbbb"/><stop offset=".3086" stop-color="#bbbbbb"/><stop offset=".3086" stop-color="#9d9d9d"/><stop offset=".3508" stop-color="#9d9d9d"/><stop offset=".3508" stop-color="#c1c1c1"/><stop offset=".3648" stop-color="#c1c1c1"/><stop offset=".3648" stop-color="#cbcbcb"/><stop offset=".3758" stop-color="#cbcbcb"/><stop offset=".3758" stop-color="#b1b1b1"/><stop offset=".3992" stop-color="#b1b1b1"/><stop offset=".3992" stop-color="#f9f9f9"/><stop offset=".4242" stop-color="#f9f9f9"/><stop offset=".4242" stop-color="#e7e7e7"/><stop offset=".432" stop-color="#e7e7e7"/><stop offset=".432" stop-color="#dadada"/><stop offset=".4445" stop-color="#dadada"/><stop offset=".4445" stop-color="#b9b9b9"/><stop offset=".4508" stop-color="#b9b9b9"/><stop offset=".4508" stop-color="#b1b1b1"/><stop offset=".4633" stop-color="#b1b1b1"/><stop offset=".4633" stop-color="#a2a2a2"/><stop offset=".4711" stop-color="#a2a2a2"/><stop offset=".4711" stop-color="#acacac"/><stop offset=".4773" stop-color="#acacac"/><stop offset=".4773" stop-color="#a2a2a2"/><stop offset=".482" stop-color="#a2a2a2"/><stop offset=".482" stop-color="#bbbbbb"/><stop offset=".5133" stop-color="#bbbbbb"/><stop offset=".5133" stop-color="#c6c6c6"/><stop offset=".532" stop-color="#c6c6c6"/><stop offset=".532" stop-color="#b1b1b1"/><stop offset=".5414" stop-color="#b1b1b1"/><stop offset=".5414" stop-color="#d0d0d0"/><stop offset=".5602" stop-color="#d0d0d0"/><stop offset=".5602" stop-color="#ececec"/><stop offset=".5617" stop-color="#ececec"/><stop offset=".5617" stop-color="#f9f9f9"/><stop offset=".582" stop-color="#f9f9f9"/><stop offset=".582" stop-color="#f1f1f1"/><stop offset=".5883" stop-color="#f1f1f1"/><stop offset=".5883" stop-color="#d5d5d5"/><stop offset=".5961" stop-color="#d5d5d5"/><stop offset=".5961" stop-color="#f9f9f9"/><stop offset=".6055" stop-color="#f9f9f9"/><stop offset=".6055" stop-color="#dfdfdf"/><stop offset=".6148" stop-color="#dfdfdf"/><stop offset=".6148" stop-color="#b1b1b1"/><stop offset=".6414" stop-color="#b1b1b1"/><stop offset=".6414" stop-color="#a7a7a7"/><stop offset=".6602" stop-color="#a7a7a7"/><stop offset=".6602" stop-color="#c1c1c1"/><stop offset=".6711" stop-color="#c1c1c1"/><stop offset=".6711" stop-color="#a2a2a2"/><stop offset=".6992" stop-color="#a2a2a2"/><stop offset=".6992" stop-color="#a7a7a7"/><stop offset=".7195" stop-color="#a7a7a7"/><stop offset=".7195" stop-color="#bbbbbb"/><stop offset=".7289" stop-color="#bbbbbb"/><stop offset=".7289" stop-color="#b6b6b6"/><stop offset=".7461" stop-color="#b6b6b6"/><stop offset=".7461" stop-color="#bbbbbb"/><stop offset=".7789" stop-color="#bbbbbb"/><stop offset=".7789" stop-color="#b6b6b6"/><stop offset=".8117" stop-color="#b6b6b6"/><stop offset=".8117" stop-color="#b1b1b1"/><stop offset=".818" stop-color="#b1b1b1"/><stop offset=".818" stop-color="#c1c1c1"/><stop offset=".8305" stop-color="#c1c1c1"/><stop offset=".8305" stop-color="#b1b1b1"/><stop offset=".8617" stop-color="#b1b1b1"/><stop offset=".8617" stop-color="#b6b6b6"/><stop offset=".8836" stop-color="#b6b6b6"/><stop offset=".8836" stop-color="#c6c6c6"/><stop offset=".8977" stop-color="#c6c6c6"/><stop offset=".8977" stop-color="#a7a7a7"/><stop offset=".9102" stop-color="#a7a7a7"/><stop offset=".9102" stop-color="#b1b1b1"/><stop offset=".9273" stop-color="#b1b1b1"/><stop offset=".9273" stop-color="#b6b6b6"/><stop offset=".9383" stop-color="#b6b6b6"/><stop offset=".9383" stop-color="#9d9d9d"/><stop offset=".9508" stop-color="#9d9d9d"/><stop offset=".9508" stop-color="#c1c1c1"/><stop offset=".9805" stop-color="#c1c1c1"/><stop offset=".9805" stop-color="#a2a2a2"/><stop offset=".9898" stop-color="#a2a2a2"/><stop offset=".9898" stop-color="#b1b1b1"/><stop offset="1" stop-color="#b1b1b1"/></linearGradient><linearGradient id="p1b1" x2="0" y2="1"><stop offset=".0008" stop-color="#b1b1b1"/><stop offset=".0242" stop-color="#b1b1b1"/><stop offset=".0242" stop-color="#b6b6b6"/><stop offset=".0477" stop-color="#b6b6b6"/><stop offset=".0477" stop-color="#acacac"/><stop offset=".0492" stop-color="#acacac"/><stop offset=".0492" stop-color="#b6b6b6"/><stop offset=".0773" stop-color="#b6b6b6"/><stop offset=".0773" stop-color="#b1b1b1"/><stop offset=".0836" stop-color="#b1b1b1"/><stop offset=".0836" stop-color="#b9b9b9"/><stop offset=".1023" stop-color="#b9b9b9"/><stop offset=".1023" stop-color="#b6b6b6"/><stop offset=".1445" stop-color="#b6b6b6"/><stop offset=".1445" stop-color="#c1c1c1"/><stop offset=".1836" stop-color="#c1c1c1"/><stop offset=".1836" stop-color="#bbbbbb"/><stop offset=".2523" stop-color="#bbbbbb"/><stop offset=".2523" stop-color="#acacac"/><stop offset=".2773" stop-color="#acacac"/><stop offset=".2773" stop-color="#bbbbbb"/><stop offset=".3086" stop-color="#bbbbbb"/><stop offset=".3086" stop-color="#acacac"/><stop offset=".3508" stop-color="#acacac"/><stop offset=".3508" stop-color="#c1c1c1"/><stop offset=".3648" stop-color="#c1c1c1"/><stop offset=".3648" stop-color="#c6c6c6"/><stop offset=".3758" stop-color="#c6c6c6"/><stop offset=".3758" stop-color="#a2a2a2"/><stop offset=".3992" stop-color="#a2a2a2"/><stop offset=".3992" stop-color="#f9f9f9"/><stop offset=".4242" stop-color="#f9f9f9"/><stop offset=".4242" stop-color="#e7e7e7"/><stop offset=".432" stop-color="#e7e7e7"/><stop offset=".432" stop-color="#dfdfdf"/><stop offset=".4445" stop-color="#dfdfdf"/><stop offset=".4445" stop-color="#b9b9b9"/><stop offset=".4508" stop-color="#b9b9b9"/><stop offset=".4508" stop-color="#acacac"/><stop offset=".4633" stop-color="#acacac"/><stop offset=".4633" stop-color="#989898"/><stop offset=".4711" stop-color="#989898"/><stop offset=".4711" stop-color="#acacac"/><stop offset=".4773" stop-color="#acacac"/><stop offset=".4773" stop-color="#a2a2a2"/><stop offset=".482" stop-color="#a2a2a2"/><stop offset=".482" stop-color="#b6b6b6"/><stop offset=".5133" stop-color="#b6b6b6"/><stop offset=".5133" stop-color="#bbbbbb"/><stop offset=".532" stop-color="#bbbbbb"/><stop offset=".532" stop-color="#b6b6b6"/><stop offset=".5414" stop-color="#b6b6b6"/><stop offset=".5414" stop-color="#d0d0d0"/><stop offset=".5602" stop-color="#d0d0d0"/><stop offset=".5602" stop-color="#ececec"/><stop offset=".5617" stop-color="#ececec"/><stop offset=".5617" stop-color="#f9f9f9"/><stop offset=".582" stop-color="#f9f9f9"/><stop offset=".582" stop-color="#f4f4f4"/><stop offset=".5883" stop-color="#f4f4f4"/><stop offset=".5883" stop-color="#d5d5d5"/><stop offset=".5961" stop-color="#d5d5d5"/><stop offset=".5961" stop-color="#f9f9f9"/><stop offset=".6055" stop-color="#f9f9f9"/><stop offset=".6055" stop-color="#dfdfdf"/><stop offset=".6148" stop-color="#dfdfdf"/><stop offset=".6148" stop-color="#a7a7a7"/><stop offset=".6602" stop-color="#a7a7a7"/><stop offset=".6602" stop-color="#c1c1c1"/><stop offset=".6711" stop-color="#c1c1c1"/><stop offset=".6711" stop-color="#a2a2a2"/><stop offset=".6992" stop-color="#a2a2a2"/><stop offset=".6992" stop-color="#989898"/><stop offset=".7195" stop-color="#989898"/><stop offset=".7195" stop-color="#b6b6b6"/><stop offset=".7461" stop-color="#b6b6b6"/><stop offset=".7461" stop-color="#bbbbbb"/><stop offset=".8117" stop-color="#bbbbbb"/><stop offset=".8117" stop-color="#b1b1b1"/><stop offset=".8305" stop-color="#b1b1b1"/><stop offset=".8305" stop-color="#acacac"/><stop offset=".8336" stop-color="#acacac"/><stop offset=".8336" stop-color="#a7a7a7"/><stop offset=".8617" stop-color="#a7a7a7"/><stop offset=".8617" stop-color="#b1b1b1"/><stop offset=".8836" stop-color="#b1b1b1"/><stop offset=".8836" stop-color="#b6b6b6"/><stop offset=".8977" stop-color="#b6b6b6"/><stop offset=".8977" stop-color="#acacac"/><stop offset=".9273" stop-color="#acacac"/><stop offset=".9273" stop-color="#c1c1c1"/><stop offset=".9383" stop-color="#c1c1c1"/><stop offset=".9383" stop-color="#9d9d9d"/><stop offset=".9508" stop-color="#9d9d9d"/><stop offset=".9508" stop-color="#b6b6b6"/><stop offset=".9805" stop-color="#b6b6b6"/><stop offset=".9805" stop-color="#a2a2a2"/><stop offset=".9898" stop-color="#a2a2a2"/><stop offset=".9898" stop-color="#b6b6b6"/><stop offset="1" stop-color="#b6b6b6"/></linearGradient><linearGradient id="p1b2" x2="0" y2="1"><stop offset=".0008" stop-color="#989898"/><stop offset=".0242" stop-color="#989898"/><stop offset=".0242" stop-color="#a7a7a7"/><stop offset=".0477" stop-color="#a7a7a7"/><stop offset=".0477" stop-color="#a2a2a2"/><stop offset=".0492" stop-color="#a2a2a2"/><stop offset=".0492" stop-color="#a7a7a7"/><stop offset=".0773" stop-color="#a7a7a7"/><stop offset=".0773" stop-color="#a2a2a2"/><stop offset=".0836" stop-color="#a2a2a2"/><stop offset=".0836" stop-color="#9d9d9d"/><stop offset=".1023" stop-color="#9d9d9d"/><stop offset=".1023" stop-color="#b6b6b6"/><stop offset=".1445" stop-color="#b6b6b6"/><stop offset=".1445" stop-color="#b1b1b1"/><stop offset=".1836" stop-color="#b1b1b1"/><stop offset=".1836" stop-color="#bbbbbb"/><stop offset=".2102" stop-color="#bbbbbb"/><stop offset=".2102" stop-color="#b6b6b6"/><stop offset=".2258" stop-color="#b6b6b6"/><stop offset=".2258" stop-color="#bbbbbb"/><stop offset=".2523" stop-color="#bbbbbb"/><stop offset=".2523" stop-color="#acacac"/><stop offset=".2773" stop-color="#acacac"/><stop offset=".2773" stop-color="#939393"/><stop offset=".3086" stop-color="#939393"/><stop offset=".3086" stop-color="#a7a7a7"/><stop offset=".3508" stop-color="#a7a7a7"/><stop offset=".3508" stop-color="#acacac"/><stop offset=".3648" stop-color="#acacac"/><stop offset=".3648" stop-color="#bbbbbb"/><stop offset=".3758" stop-color="#bbbbbb"/><stop offset=".3758" stop-color="#989898"/><stop offset=".3992" stop-color="#989898"/><stop offset=".3992" stop-color="#f9f9f9"/><stop offset=".4242" stop-color="#f9f9f9"/><stop offset=".4242" stop-color="#e4e4e4"/><stop offset=".432" stop-color="#e4e4e4"/><stop offset=".432" stop-color="#d2d2d2"/><stop offset=".4445" stop-color="#d2d2d2"/><stop offset=".4445" stop-color="#b6b6b6"/><stop offset=".4508" stop-color="#b6b6b6"/><stop offset=".4508" stop-color="#b1b1b1"/><stop offset=".4633" stop-color="#b1b1b1"/><stop offset=".4633" stop-color="#a2a2a2"/><stop offset=".4711" stop-color="#a2a2a2"/><stop offset=".4711" stop-color="#a7a7a7"/><stop offset=".4773" stop-color="#a7a7a7"/><stop offset=".4773" stop-color="#9d9d9d"/><stop offset=".482" stop-color="#9d9d9d"/><stop offset=".482" stop-color="#acacac"/><stop offset=".532" stop-color="#acacac"/><stop offset=".532" stop-color="#b1b1b1"/><stop offset=".5414" stop-color="#b1b1b1"/><stop offset=".5414" stop-color="#cbcbcb"/><stop offset=".5602" stop-color="#cbcbcb"/><stop offset=".5602" stop-color="#ececec"/><stop offset=".5617" stop-color="#ececec"/><stop offset=".5617" stop-color="#f9f9f9"/><stop offset=".582" stop-color="#f9f9f9"/><stop offset=".582" stop-color="#f1f1f1"/><stop offset=".5883" stop-color="#f1f1f1"/><stop offset=".5883" stop-color="#d2d2d2"/><stop offset=".5961" stop-color="#d2d2d2"/><stop offset=".5961" stop-color="#f4f4f4"/><stop offset=".6055" stop-color="#f4f4f4"/><stop offset=".6055" stop-color="#dadada"/><stop offset=".6148" stop-color="#dadada"/><stop offset=".6148" stop-color="#acacac"/><stop offset=".6414" stop-color="#acacac"/><stop offset=".6414" stop-color="#a2a2a2"/><stop offset=".6492" stop-color="#a2a2a2"/><stop offset=".6492" stop-color="#a7a7a7"/><stop offset=".6602" stop-color="#a7a7a7"/><stop offset=".6602" stop-color="#bbbbbb"/><stop offset=".6711" stop-color="#bbbbbb"/><stop offset=".6711" stop-color="#acacac"/><stop offset=".6836" stop-color="#acacac"/><stop offset=".6836" stop-color="#9d9d9d"/><stop offset=".6992" stop-color="#9d9d9d"/><stop offset=".6992" stop-color="#939393"/><stop offset=".7195" stop-color="#939393"/><stop offset=".7195" stop-color="#a7a7a7"/><stop offset=".7461" stop-color="#a7a7a7"/><stop offset=".7461" stop-color="#b6b6b6"/><stop offset=".7789" stop-color="#b6b6b6"/><stop offset=".7789" stop-color="#acacac"/><stop offset=".818" stop-color="#acacac"/><stop offset=".818" stop-color="#bbbbbb"/><stop offset=".8305" stop-color="#bbbbbb"/><stop offset=".8305" stop-color="#acacac"/><stop offset=".8336" stop-color="#acacac"/><stop offset=".8336" stop-color="#b6b6b6"/><stop offset=".8617" stop-color="#b6b6b6"/><stop offset=".8617" stop-color="#a2a2a2"/><stop offset=".9102" stop-color="#a2a2a2"/><stop offset=".9102" stop-color="#a7a7a7"/><stop offset=".9273" stop-color="#a7a7a7"/><stop offset=".9273" stop-color="#acacac"/><stop offset=".9383" stop-color="#acacac"/><stop offset=".9383" stop-color="#989898"/><stop offset=".9508" stop-color="#989898"/><stop offset=".9508" stop-color="#a7a7a7"/><stop offset=".9805" stop-color="#a7a7a7"/><stop offset=".9805" stop-color="#9d9d9d"/><stop offset=".9898" stop-color="#9d9d9d"/><stop offset=".9898" stop-color="#b6b6b6"/><stop offset="1" stop-color="#b6b6b6"/></linearGradient><linearGradient id="p1b3" x2="0" y2="1"><stop offset=".0008" stop-color="#b1b1b1"/><stop offset=".0477" stop-color="#b1b1b1"/><stop offset=".0477" stop-color="#a2a2a2"/><stop offset=".0492" stop-color="#a2a2a2"/><stop offset=".0492" stop-color="#b1b1b1"/><stop offset=".0773" stop-color="#b1b1b1"/><stop offset=".0773" stop-color="#acacac"/><stop offset=".1023" stop-color="#acacac"/><stop offset=".1023" stop-color="#b1b1b1"/><stop offset=".1242" stop-color="#b1b1b1"/><stop offset=".1242" stop-color="#acacac"/><stop offset=".1445" stop-color="#acacac"/><stop offset=".1445" stop-color="#a7a7a7"/><stop offset=".1836" stop-color="#a7a7a7"/><stop offset=".1836" stop-color="#b6b6b6"/><stop offset=".2523" stop-color="#b6b6b6"/><stop offset=".2523" stop-color="#b1b1b1"/><stop offset=".2773" stop-color="#b1b1b1"/><stop offset=".2773" stop-color="#868686"/><stop offset=".3086" stop-color="#868686"/><stop offset=".3086" stop-color="#989898"/><stop offset=".3508" stop-color="#989898"/><stop offset=".3508" stop-color="#acacac"/><stop offset=".3648" stop-color="#acacac"/><stop offset=".3648" stop-color="#bbbbbb"/><stop offset=".3758" stop-color="#bbbbbb"/><stop offset=".3758" stop-color="#989898"/><stop offset=".3992" stop-color="#989898"/><stop offset=".3992" stop-color="#f9f9f9"/><stop offset=".4242" stop-color="#f9f9f9"/><stop offset=".4242" stop-color="#dfdfdf"/><stop offset=".432" stop-color="#dfdfdf"/><stop offset=".432" stop-color="#c6c6c6"/><stop offset=".4445" stop-color="#c6c6c6"/><stop offset=".4445" stop-color="#b1b1b1"/><stop offset=".4633" stop-color="#b1b1b1"/><stop offset=".4633" stop-color="#939393"/><stop offset=".4711" stop-color="#939393"/><stop offset=".4711" stop-color="#a2a2a2"/><stop offset=".4773" stop-color="#a2a2a2"/><stop offset=".4773" stop-color="#9d9d9d"/><stop offset=".482" stop-color="#9d9d9d"/><stop offset=".482" stop-color="#a7a7a7"/><stop offset=".5133" stop-color="#a7a7a7"/><stop offset=".5133" stop-color="#b1b1b1"/><stop offset=".5414" stop-color="#b1b1b1"/><stop offset=".5414" stop-color="#cbcbcb"/><stop offset=".5602" stop-color="#cbcbcb"/><stop offset=".5602" stop-color="#ececec"/><stop offset=".5617" stop-color="#ececec"/><stop offset=".5617" stop-color="#f9f9f9"/><stop offset=".582" stop-color="#f9f9f9"/><stop offset=".582" stop-color="#eeeeee"/><stop offset=".5883" stop-color="#eeeeee"/><stop offset=".5883" stop-color="#d0d0d0"/><stop offset=".5961" stop-color="#d0d0d0"/><stop offset=".5961" stop-color="#eeeeee"/><stop offset=".6055" stop-color="#eeeeee"/><stop offset=".6055" stop-color="#dadada"/><stop offset=".6148" stop-color="#dadada"/><stop offset=".6148" stop-color="#a7a7a7"/><stop offset=".6414" stop-color="#a7a7a7"/><stop offset=".6414" stop-color="#a2a2a2"/><stop offset=".6602" stop-color="#a2a2a2"/><stop offset=".6602" stop-color="#acacac"/><stop offset=".6711" stop-color="#acacac"/><stop offset=".6711" stop-color="#a2a2a2"/><stop offset=".6836" stop-color="#a2a2a2"/><stop offset=".6836" stop-color="#9d9d9d"/><stop offset=".6992" stop-color="#9d9d9d"/><stop offset=".6992" stop-color="#989898"/><stop offset=".7086" stop-color="#989898"/><stop offset=".7086" stop-color="#939393"/><stop offset=".7195" stop-color="#939393"/><stop offset=".7195" stop-color="#a2a2a2"/><stop offset=".7461" stop-color="#a2a2a2"/><stop offset=".7461" stop-color="#b6b6b6"/><stop offset=".7789" stop-color="#b6b6b6"/><stop offset=".7789" stop-color="#acacac"/><stop offset=".8305" stop-color="#acacac"/><stop offset=".8305" stop-color="#a7a7a7"/><stop offset=".8617" stop-color="#a7a7a7"/><stop offset=".8617" stop-color="#9d9d9d"/><stop offset=".9102" stop-color="#9d9d9d"/><stop offset=".9102" stop-color="#acacac"/><stop offset=".9273" stop-color="#acacac"/><stop offset=".9273" stop-color="#a7a7a7"/><stop offset=".9383" stop-color="#a7a7a7"/><stop offset=".9383" stop-color="#989898"/><stop offset=".9508" stop-color="#989898"/><stop offset=".9508" stop-color="#b1b1b1"/><stop offset=".9805" stop-color="#b1b1b1"/><stop offset=".9805" stop-color="#9d9d9d"/><stop offset=".9898" stop-color="#9d9d9d"/><stop offset=".9898" stop-color="#a7a7a7"/><stop offset="1" stop-color="#a7a7a7"/></linearGradient><linearGradient id="p1s" x2="0" y2="1"><stop offset=".0008" stop-color="#005cff"/><stop offset=".0242" stop-color="#005cff"/><stop offset=".0242" stop-color="#006bff"/><stop offset=".0477" stop-color="#006bff"/><stop offset=".0477" stop-color="#00b2ff"/><stop offset=".0492" stop-color="#00b2ff"/><stop offset=".0492" stop-color="#006bff"/><stop offset=".0773" stop-color="#006bff"/><stop offset=".0773" stop-color="#0061ff"/><stop offset=".0836" stop-color="#0061ff"/><stop offset=".0836" stop-color="#005eff"/><stop offset=".1023" stop-color="#005eff"/><stop offset=".1023" stop-color="#00e4f8"/><stop offset=".1242" stop-color="#00e4f8"/><stop offset=".1242" stop-color="#00b6ff"/><stop offset=".1445" stop-color="#00b6ff"/><stop offset=".1445" stop-color="#008fff"/><stop offset=".1836" stop-color="#008fff"/><stop offset=".1836" stop-color="#00d0ff"/><stop offset=".2102" stop-color="#00d0ff"/><stop offset=".2102" stop-color="#00b6ff"/><stop offset=".2523" stop-color="#00b6ff"/><stop offset=".2523" stop-color="#0080ff"/><stop offset=".2773" stop-color="#0080ff"/><stop offset=".2773" stop-color="#004dff"/><stop offset=".3086" stop-color="#004dff"/><stop offset=".3086" stop-color="#0033ff"/><stop offset=".3508" stop-color="#0033ff"/><stop offset=".3508" stop-color="#009cff"/><stop offset=".3648" stop-color="#009cff"/><stop offset=".3648" stop-color="#23ffd3"/><stop offset=".3758" stop-color="#23ffd3"/><stop offset=".3758" stop-color="#0080ff"/><stop offset=".3992" stop-color="#0080ff"/><stop offset=".3992" stop-color="#cb0000"/><stop offset=".4086" stop-color="#cb0000"/><stop offset=".4086" stop-color="#ff5000"/><stop offset=".4242" stop-color="#ff5000"/><stop offset=".4242" stop-color="#ffa300"/><stop offset=".432" stop-color="#ffa300"/><stop offset=".432" stop-color="#bbff3b"/><stop offset=".4445" stop-color="#bbff3b"/><stop offset=".4445" stop-color="#009eff"/><stop offset=".4508" stop-color="#009eff"/><stop offset=".4508" stop-color="#0080ff"/><stop offset=".4633" stop-color="#0080ff"/><stop offset=".4633" stop-color="#0061ff"/><stop offset=".4711" stop-color="#0061ff"/><stop offset=".4711" stop-color="#0080ff"/><stop offset=".4773" stop-color="#0080ff"/><stop offset=".4773" stop-color="#00b2ff"/><stop offset=".5133" stop-color="#00b2ff"/><stop offset=".5133" stop-color="#00d1ff"/><stop offset=".532" stop-color="#00d1ff"/><stop offset=".532" stop-color="#00b2ff"/><stop offset=".5414" stop-color="#00b2ff"/><stop offset=".5414" stop-color="#82ff75"/><stop offset=".5602" stop-color="#82ff75"/><stop offset=".5602" stop-color="#ff8000"/><stop offset=".5617" stop-color="#ff8000"/><stop offset=".5617" stop-color="#ff5000"/><stop offset=".582" stop-color="#ff5000"/><stop offset=".582" stop-color="#ff6d00"/><stop offset=".5883" stop-color="#ff6d00"/><stop offset=".5883" stop-color="#b1ff46"/><stop offset=".5961" stop-color="#b1ff46"/><stop offset=".5961" stop-color="#ff5e00"/><stop offset=".6055" stop-color="#ff5e00"/><stop offset=".6055" stop-color="#ffeb00"/><stop offset=".6148" stop-color="#ffeb00"/><stop offset=".6148" stop-color="#0080ff"/><stop offset=".6602" stop-color="#0080ff"/><stop offset=".6602" stop-color="#00c3ff"/><stop offset=".6711" stop-color="#00c3ff"/><stop offset=".6711" stop-color="#004dff"/><stop offset=".6992" stop-color="#004dff"/><stop offset=".6992" stop-color="#002eff"/><stop offset=".7086" stop-color="#002eff"/><stop offset=".7086" stop-color="#0019ff"/><stop offset=".7195" stop-color="#0019ff"/><stop offset=".7195" stop-color="#0066ff"/><stop offset=".7289" stop-color="#0066ff"/><stop offset=".7289" stop-color="#00b2ff"/><stop offset=".7461" stop-color="#00b2ff"/><stop offset=".7461" stop-color="#00b6ff"/><stop offset=".7789" stop-color="#00b6ff"/><stop offset=".7789" stop-color="#0075ff"/><stop offset=".8117" stop-color="#0075ff"/><stop offset=".8117" stop-color="#0066ff"/><stop offset=".818" stop-color="#0066ff"/><stop offset=".818" stop-color="#009cff"/><stop offset=".8305" stop-color="#009cff"/><stop offset=".8305" stop-color="#00b2ff"/><stop offset=".8336" stop-color="#00b2ff"/><stop offset=".8336" stop-color="#0061ff"/><stop offset=".8617" stop-color="#0061ff"/><stop offset=".8617" stop-color="#0052ff"/><stop offset=".8836" stop-color="#0052ff"/><stop offset=".8836" stop-color="#0066ff"/><stop offset=".8977" stop-color="#0066ff"/><stop offset=".8977" stop-color="#004dff"/><stop offset=".9102" stop-color="#004dff"/><stop offset=".9102" stop-color="#00b2ff"/><stop offset=".9273" stop-color="#00b2ff"/><stop offset=".9273" stop-color="#009eff"/><stop offset=".9383" stop-color="#009eff"/><stop offset=".9383" stop-color="#0080ff"/><stop offset=".9508" stop-color="#0080ff"/><stop offset=".9508" stop-color="#0082ff"/><stop offset=".9805" stop-color="#0082ff"/><stop offset=".9805" stop-color="#0061ff"/><stop offset=".9898" stop-color="#0061ff"/><stop offset=".9898" stop-color="#0070ff"/><stop offset="1" stop-color="#0070ff"/></linearGradient><linearGradient id="p1R" x2="0" y2="1"><stop offset=".0008" stop-color="#333333"/><stop offset=".0477" stop-color="#333333"/><stop offset=".0477" stop-color="#4c4c4c"/><stop offset=".0492" stop-color="#4c4c4c"/><stop offset=".0492" stop-color="#333333"/><stop offset=".0773" stop-color="#333333"/><stop offset=".0773" stop-color="#383838"/><stop offset=".0836" stop-color="#383838"/><stop offset=".0836" stop-color="#333333"/><stop offset=".1836" stop-color="#333333"/><stop offset=".1836" stop-color="#383838"/><stop offset=".2258" stop-color="#383838"/><stop offset=".2258" stop-color="#404040"/><stop offset=".2773" stop-color="#404040"/><stop offset=".2773" stop-color="#333333"/><stop offset=".3086" stop-color="#333333"/><stop offset=".3086" stop-color="#262626"/><stop offset=".3508" stop-color="#262626"/><stop offset=".3508" stop-color="#404040"/><stop offset=".3648" stop-color="#404040"/><stop offset=".3648" stop-color="#4c4c4c"/><stop offset=".3758" stop-color="#4c4c4c"/><stop offset=".3758" stop-color="#404040"/><stop offset=".3992" stop-color="#404040"/><stop offset=".3992" stop-color="#f2f2f2"/><stop offset=".4086" stop-color="#f2f2f2"/><stop offset=".4086" stop-color="#b2b2b2"/><stop offset=".4117" stop-color="#b2b2b2"/><stop offset=".4117" stop-color="#6b6b6b"/><stop offset=".4242" stop-color="#6b6b6b"/><stop offset=".4242" stop-color="#616161"/><stop offset=".432" stop-color="#616161"/><stop offset=".432" stop-color="#4c4c4c"/><stop offset=".4445" stop-color="#4c4c4c"/><stop offset=".4445" stop-color="#474747"/><stop offset=".4508" stop-color="#474747"/><stop offset=".4508" stop-color="#404040"/><stop offset=".4633" stop-color="#404040"/><stop offset=".4633" stop-color="#383838"/><stop offset=".4711" stop-color="#383838"/><stop offset=".4711" stop-color="#404040"/><stop offset=".4773" stop-color="#404040"/><stop offset=".4773" stop-color="#4c4c4c"/><stop offset=".5133" stop-color="#4c4c4c"/><stop offset=".5133" stop-color="#545454"/><stop offset=".532" stop-color="#545454"/><stop offset=".532" stop-color="#4c4c4c"/><stop offset=".5602" stop-color="#4c4c4c"/><stop offset=".5602" stop-color="#b2b2b2"/><stop offset=".5617" stop-color="#b2b2b2"/><stop offset=".5617" stop-color="#737373"/><stop offset=".5727" stop-color="#737373"/><stop offset=".5727" stop-color="#8c8c8c"/><stop offset=".5758" stop-color="#8c8c8c"/><stop offset=".5758" stop-color="#808080"/><stop offset=".582" stop-color="#808080"/><stop offset=".582" stop-color="#666666"/><stop offset=".5883" stop-color="#666666"/><stop offset=".5883" stop-color="#616161"/><stop offset=".5961" stop-color="#616161"/><stop offset=".5961" stop-color="#6b6b6b"/><stop offset=".6055" stop-color="#6b6b6b"/><stop offset=".6055" stop-color="#616161"/><stop offset=".6148" stop-color="#616161"/><stop offset=".6148" stop-color="#404040"/><stop offset=".6711" stop-color="#404040"/><stop offset=".6711" stop-color="#333333"/><stop offset=".6992" stop-color="#333333"/><stop offset=".6992" stop-color="#2b2b2b"/><stop offset=".7086" stop-color="#2b2b2b"/><stop offset=".7086" stop-color="#262626"/><stop offset=".7195" stop-color="#262626"/><stop offset=".7195" stop-color="#383838"/><stop offset=".7289" stop-color="#383838"/><stop offset=".7289" stop-color="#4c4c4c"/><stop offset=".7461" stop-color="#4c4c4c"/><stop offset=".7461" stop-color="#474747"/><stop offset=".7789" stop-color="#474747"/><stop offset=".7789" stop-color="#333333"/><stop offset=".818" stop-color="#333333"/><stop offset=".818" stop-color="#2b2b2b"/><stop offset=".8305" stop-color="#2b2b2b"/><stop offset=".8305" stop-color="#4c4c4c"/><stop offset=".8336" stop-color="#4c4c4c"/><stop offset=".8336" stop-color="#333333"/><stop offset=".8836" stop-color="#333333"/><stop offset=".8836" stop-color="#2e2e2e"/><stop offset=".8977" stop-color="#2e2e2e"/><stop offset=".8977" stop-color="#333333"/><stop offset=".9102" stop-color="#333333"/><stop offset=".9102" stop-color="#4c4c4c"/><stop offset=".9273" stop-color="#4c4c4c"/><stop offset=".9273" stop-color="#474747"/><stop offset=".9383" stop-color="#474747"/><stop offset=".9383" stop-color="#404040"/><stop offset=".9508" stop-color="#404040"/><stop offset=".9508" stop-color="#333333"/><stop offset=".9805" stop-color="#333333"/><stop offset=".9805" stop-color="#383838"/><stop offset=".9898" stop-color="#383838"/><stop offset=".9898" stop-color="#333333"/><stop offset="1" stop-color="#333333"/></linearGradient><linearGradient id="p1e" x2="0" y2="1"><stop offset=".0008" stop-color="#7f7f7f"/><stop offset=".0477" stop-color="#7f7f7f"/><stop offset=".0477" stop-color="#808080"/><stop offset=".0492" stop-color="#808080"/><stop offset=".0492" stop-color="#7f7f7f"/><stop offset=".0773" stop-color="#7f7f7f"/><stop offset=".0773" stop-color="#7e7e7e"/><stop offset=".0836" stop-color="#7e7e7e"/><stop offset=".0836" stop-color="#7c7c7c"/><stop offset=".1023" stop-color="#7c7c7c"/><stop offset=".1023" stop-color="#7f7f7f"/><stop offset=".1242" stop-color="#7f7f7f"/><stop offset=".1242" stop-color="#7c7c7c"/><stop offset=".1445" stop-color="#7c7c7c"/><stop offset=".1445" stop-color="#797979"/><stop offset=".1836" stop-color="#797979"/><stop offset=".1836" stop-color="#848484"/><stop offset=".2258" stop-color="#848484"/><stop offset=".2258" stop-color="#878787"/><stop offset=".2523" stop-color="#878787"/><stop offset=".2523" stop-color="#848484"/><stop offset=".2773" stop-color="#848484"/><stop offset=".2773" stop-color="#656565"/><stop offset=".3086" stop-color="#656565"/><stop offset=".3086" stop-color="#6a6a6a"/><stop offset=".3508" stop-color="#6a6a6a"/><stop offset=".3508" stop-color="#818181"/><stop offset=".3648" stop-color="#818181"/><stop offset=".3648" stop-color="#8f8f8f"/><stop offset=".3758" stop-color="#8f8f8f"/><stop offset=".3758" stop-color="#757575"/><stop offset=".3992" stop-color="#757575"/><stop offset=".3992" stop-color="#f6f6f6"/><stop offset=".4086" stop-color="#f6f6f6"/><stop offset=".4086" stop-color="#dddddd"/><stop offset=".4117" stop-color="#dddddd"/><stop offset=".4117" stop-color="#c0c0c0"/><stop offset=".4242" stop-color="#c0c0c0"/><stop offset=".4242" stop-color="#adadad"/><stop offset=".432" stop-color="#adadad"/><stop offset=".432" stop-color="#959595"/><stop offset=".4445" stop-color="#959595"/><stop offset=".4445" stop-color="#878787"/><stop offset=".4508" stop-color="#878787"/><stop offset=".4508" stop-color="#848484"/><stop offset=".4633" stop-color="#848484"/><stop offset=".4633" stop-color="#6e6e6e"/><stop offset=".4711" stop-color="#6e6e6e"/><stop offset=".4711" stop-color="#7b7b7b"/><stop offset=".4773" stop-color="#7b7b7b"/><stop offset=".4773" stop-color="#7d7d7d"/><stop offset=".482" stop-color="#7d7d7d"/><stop offset=".482" stop-color="#838383"/><stop offset=".5133" stop-color="#838383"/><stop offset=".5133" stop-color="#8c8c8c"/><stop offset=".532" stop-color="#8c8c8c"/><stop offset=".532" stop-color="#898989"/><stop offset=".5414" stop-color="#898989"/><stop offset=".5414" stop-color="#989898"/><stop offset=".5602" stop-color="#989898"/><stop offset=".5602" stop-color="#d5d5d5"/><stop offset=".5617" stop-color="#d5d5d5"/><stop offset=".5617" stop-color="#c3c3c3"/><stop offset=".5727" stop-color="#c3c3c3"/><stop offset=".5727" stop-color="#cdcdcd"/><stop offset=".5758" stop-color="#cdcdcd"/><stop offset=".5758" stop-color="#c8c8c8"/><stop offset=".582" stop-color="#c8c8c8"/><stop offset=".582" stop-color="#b8b8b8"/><stop offset=".5883" stop-color="#b8b8b8"/><stop offset=".5883" stop-color="#a3a3a3"/><stop offset=".5961" stop-color="#a3a3a3"/><stop offset=".5961" stop-color="#bababa"/><stop offset=".6055" stop-color="#bababa"/><stop offset=".6055" stop-color="#aaaaaa"/><stop offset=".6148" stop-color="#aaaaaa"/><stop offset=".6148" stop-color="#7e7e7e"/><stop offset=".6414" stop-color="#7e7e7e"/><stop offset=".6414" stop-color="#7b7b7b"/><stop offset=".6602" stop-color="#7b7b7b"/><stop offset=".6602" stop-color="#818181"/><stop offset=".6711" stop-color="#818181"/><stop offset=".6711" stop-color="#767676"/><stop offset=".6836" stop-color="#767676"/><stop offset=".6836" stop-color="#727272"/><stop offset=".6992" stop-color="#727272"/><stop offset=".6992" stop-color="#6c6c6c"/><stop offset=".7086" stop-color="#6c6c6c"/><stop offset=".7086" stop-color="#676767"/><stop offset=".7195" stop-color="#676767"/><stop offset=".7195" stop-color="#787878"/><stop offset=".7289" stop-color="#787878"/><stop offset=".7289" stop-color="#808080"/><stop offset=".7461" stop-color="#808080"/><stop offset=".7461" stop-color="#8a8a8a"/><stop offset=".7789" stop-color="#8a8a8a"/><stop offset=".7789" stop-color="#7c7c7c"/><stop offset=".818" stop-color="#7c7c7c"/><stop offset=".818" stop-color="#797979"/><stop offset=".8305" stop-color="#797979"/><stop offset=".8305" stop-color="#838383"/><stop offset=".8336" stop-color="#838383"/><stop offset=".8336" stop-color="#797979"/><stop offset=".8617" stop-color="#797979"/><stop offset=".8617" stop-color="#727272"/><stop offset=".8836" stop-color="#727272"/><stop offset=".8836" stop-color="#707070"/><stop offset=".8977" stop-color="#707070"/><stop offset=".8977" stop-color="#727272"/><stop offset=".9102" stop-color="#727272"/><stop offset=".9102" stop-color="#868686"/><stop offset=".9273" stop-color="#868686"/><stop offset=".9273" stop-color="#818181"/><stop offset=".9383" stop-color="#818181"/><stop offset=".9383" stop-color="#757575"/><stop offset=".9508" stop-color="#757575"/><stop offset=".9508" stop-color="#7f7f7f"/><stop offset=".9805" stop-color="#7f7f7f"/><stop offset=".9805" stop-color="#757575"/><stop offset=".9898" stop-color="#757575"/><stop offset=".9898" stop-color="#797979"/><stop offset="1" stop-color="#797979"/></linearGradient><clipPath id="cp1"><rect x="344.5" y="80.5" width="176" height="640"/></clipPath><linearGradient id="p2L" x2="0" y2="1"><stop offset=".0008" stop-color="#3d3d3d"/><stop offset=".0242" stop-color="#3d3d3d"/><stop offset=".0242" stop-color="#3b3b3b"/><stop offset=".0477" stop-color="#3b3b3b"/><stop offset=".0477" stop-color="#737373"/><stop offset=".0492" stop-color="#737373"/><stop offset=".0492" stop-color="#3b3b3b"/><stop offset=".0773" stop-color="#3b3b3b"/><stop offset=".0773" stop-color="#454545"/><stop offset=".0836" stop-color="#454545"/><stop offset=".0836" stop-color="#3b3b3b"/><stop offset=".1023" stop-color="#3b3b3b"/><stop offset=".1023" stop-color="#333333"/><stop offset=".1445" stop-color="#333333"/><stop offset=".1445" stop-color="#424242"/><stop offset=".1836" stop-color="#424242"/><stop offset=".1836" stop-color="#333333"/><stop offset=".2102" stop-color="#333333"/><stop offset=".2102" stop-color="#383838"/><stop offset=".2258" stop-color="#383838"/><stop offset=".2258" stop-color="#3d3d3d"/><stop offset=".2523" stop-color="#3d3d3d"/><stop offset=".2523" stop-color="#404040"/><stop offset=".2773" stop-color="#404040"/><stop offset=".2773" stop-color="#383838"/><stop offset=".3086" stop-color="#383838"/><stop offset=".3086" stop-color="#333333"/><stop offset=".3508" stop-color="#333333"/><stop offset=".3508" stop-color="#404040"/><stop offset=".3648" stop-color="#404040"/><stop offset=".3648" stop-color="#666666"/><stop offset=".3758" stop-color="#666666"/><stop offset=".3758" stop-color="#454545"/><stop offset=".3992" stop-color="#454545"/><stop offset=".3992" stop-color="#dbdbdb"/><stop offset=".4039" stop-color="#dbdbdb"/><stop offset=".4039" stop-color="#c7c7c7"/><stop offset=".4086" stop-color="#c7c7c7"/><stop offset=".4086" stop-color="#a6a6a6"/><stop offset=".4117" stop-color="#a6a6a6"/><stop offset=".4117" stop-color="#383838"/><stop offset=".432" stop-color="#383838"/><stop offset=".432" stop-color="#616161"/><stop offset=".4445" stop-color="#616161"/><stop offset=".4445" stop-color="#404040"/><stop offset=".4508" stop-color="#404040"/><stop offset=".4508" stop-color="#4c4c4c"/><stop offset=".4711" stop-color="#4c4c4c"/><stop offset=".4711" stop-color="#404040"/><stop offset=".4773" stop-color="#404040"/><stop offset=".4773" stop-color="#595959"/><stop offset=".482" stop-color="#595959"/><stop offset=".482" stop-color="#383838"/><stop offset=".5133" stop-color="#383838"/><stop offset=".5133" stop-color="#3d3d3d"/><stop offset=".532" stop-color="#3d3d3d"/><stop offset=".532" stop-color="#454545"/><stop offset=".5602" stop-color="#454545"/><stop offset=".5602" stop-color="#bfbfbf"/><stop offset=".5617" stop-color="#bfbfbf"/><stop offset=".5617" stop-color="#454545"/><stop offset=".5773" stop-color="#454545"/><stop offset=".5773" stop-color="#8f8f8f"/><stop offset=".582" stop-color="#8f8f8f"/><stop offset=".582" stop-color="#454545"/><stop offset=".6148" stop-color="#454545"/><stop offset=".6148" stop-color="#474747"/><stop offset=".6414" stop-color="#474747"/><stop offset=".6414" stop-color="#454545"/><stop offset=".6492" stop-color="#454545"/><stop offset=".6492" stop-color="#474747"/><stop offset=".6711" stop-color="#474747"/><stop offset=".6711" stop-color="#333333"/><stop offset=".7086" stop-color="#333333"/><stop offset=".7086" stop-color="#383838"/><stop offset=".7195" stop-color="#383838"/><stop offset=".7195" stop-color="#404040"/><stop offset=".7289" stop-color="#404040"/><stop offset=".7289" stop-color="#424242"/><stop offset=".7461" stop-color="#424242"/><stop offset=".7461" stop-color="#474747"/><stop offset=".7789" stop-color="#474747"/><stop offset=".7789" stop-color="#404040"/><stop offset=".8117" stop-color="#404040"/><stop offset=".8117" stop-color="#454545"/><stop offset=".818" stop-color="#454545"/><stop offset=".818" stop-color="#383838"/><stop offset=".8305" stop-color="#383838"/><stop offset=".8305" stop-color="#949494"/><stop offset=".8336" stop-color="#949494"/><stop offset=".8336" stop-color="#3d3d3d"/><stop offset=".8617" stop-color="#3d3d3d"/><stop offset=".8617" stop-color="#383838"/><stop offset=".8836" stop-color="#383838"/><stop offset=".8836" stop-color="#333333"/><stop offset=".8977" stop-color="#333333"/><stop offset=".8977" stop-color="#383838"/><stop offset=".9102" stop-color="#383838"/><stop offset=".9102" stop-color="#404040"/><stop offset=".9508" stop-color="#404040"/><stop offset=".9508" stop-color="#3d3d3d"/><stop offset=".9805" stop-color="#3d3d3d"/><stop offset=".9805" stop-color="#545454"/><stop offset=".9898" stop-color="#545454"/><stop offset=".9898" stop-color="#454545"/><stop offset="1" stop-color="#454545"/></linearGradient><linearGradient id="p2b0" x2="0" y2="1"><stop offset=".0008" stop-color="#b5b5b5"/><stop offset=".0477" stop-color="#b5b5b5"/><stop offset=".0477" stop-color="#b0b0b0"/><stop offset=".0492" stop-color="#b0b0b0"/><stop offset=".0492" stop-color="#b5b5b5"/><stop offset=".0773" stop-color="#b5b5b5"/><stop offset=".0773" stop-color="#b0b0b0"/><stop offset=".0836" stop-color="#b0b0b0"/><stop offset=".0836" stop-color="#b5b5b5"/><stop offset=".1023" stop-color="#b5b5b5"/><stop offset=".1023" stop-color="#bfbfbf"/><stop offset=".1445" stop-color="#bfbfbf"/><stop offset=".1445" stop-color="#b5b5b5"/><stop offset=".2258" stop-color="#b5b5b5"/><stop offset=".2258" stop-color="#bababa"/><stop offset=".2523" stop-color="#bababa"/><stop offset=".2523" stop-color="#b0b0b0"/><stop offset=".3086" stop-color="#b0b0b0"/><stop offset=".3086" stop-color="#a6a6a6"/><stop offset=".3508" stop-color="#a6a6a6"/><stop offset=".3508" stop-color="#b5b5b5"/><stop offset=".3648" stop-color="#b5b5b5"/><stop offset=".3648" stop-color="#a6a6a6"/><stop offset=".3758" stop-color="#a6a6a6"/><stop offset=".3758" stop-color="#b0b0b0"/><stop offset=".3992" stop-color="#b0b0b0"/><stop offset=".3992" stop-color="#f5f5f5"/><stop offset=".4086" stop-color="#f5f5f5"/><stop offset=".4086" stop-color="#fcfcfc"/><stop offset=".4258" stop-color="#fcfcfc"/><stop offset=".4258" stop-color="#e3e3e3"/><stop offset=".432" stop-color="#e3e3e3"/><stop offset=".432" stop-color="#cfcfcf"/><stop offset=".4445" stop-color="#cfcfcf"/><stop offset=".4445" stop-color="#c4c4c4"/><stop offset=".4508" stop-color="#c4c4c4"/><stop offset=".4508" stop-color="#bfbfbf"/><stop offset=".4633" stop-color="#bfbfbf"/><stop offset=".4633" stop-color="#bababa"/><stop offset=".4711" stop-color="#bababa"/><stop offset=".4711" stop-color="#ababab"/><stop offset=".4773" stop-color="#ababab"/><stop offset=".4773" stop-color="#a6a6a6"/><stop offset=".482" stop-color="#a6a6a6"/><stop offset=".482" stop-color="#bababa"/><stop offset=".5133" stop-color="#bababa"/><stop offset=".5133" stop-color="#ababab"/><stop offset=".532" stop-color="#ababab"/><stop offset=".532" stop-color="#bfbfbf"/><stop offset=".5414" stop-color="#bfbfbf"/><stop offset=".5414" stop-color="#ebebeb"/><stop offset=".5508" stop-color="#ebebeb"/><stop offset=".5508" stop-color="#fafafa"/><stop offset=".5602" stop-color="#fafafa"/><stop offset=".5602" stop-color="#f5f5f5"/><stop offset=".5617" stop-color="#f5f5f5"/><stop offset=".5617" stop-color="#fcfcfc"/><stop offset=".582" stop-color="#fcfcfc"/><stop offset=".582" stop-color="#f5f5f5"/><stop offset=".5898" stop-color="#f5f5f5"/><stop offset=".5898" stop-color="#ededed"/><stop offset=".5961" stop-color="#ededed"/><stop offset=".5961" stop-color="#fcfcfc"/><stop offset=".6055" stop-color="#fcfcfc"/><stop offset=".6055" stop-color="#e6e6e6"/><stop offset=".6148" stop-color="#e6e6e6"/><stop offset=".6148" stop-color="#c4c4c4"/><stop offset=".6414" stop-color="#c4c4c4"/><stop offset=".6414" stop-color="#a6a6a6"/><stop offset=".6492" stop-color="#a6a6a6"/><stop offset=".6492" stop-color="#ababab"/><stop offset=".6602" stop-color="#ababab"/><stop offset=".6602" stop-color="#bfbfbf"/><stop offset=".6711" stop-color="#bfbfbf"/><stop offset=".6711" stop-color="#a6a6a6"/><stop offset=".6836" stop-color="#a6a6a6"/><stop offset=".6836" stop-color="#b0b0b0"/><stop offset=".6992" stop-color="#b0b0b0"/><stop offset=".6992" stop-color="#a6a6a6"/><stop offset=".7086" stop-color="#a6a6a6"/><stop offset=".7086" stop-color="#ababab"/><stop offset=".7195" stop-color="#ababab"/><stop offset=".7195" stop-color="#b0b0b0"/><stop offset=".7289" stop-color="#b0b0b0"/><stop offset=".7289" stop-color="#bfbfbf"/><stop offset=".7461" stop-color="#bfbfbf"/><stop offset=".7461" stop-color="#c9c9c9"/><stop offset=".7789" stop-color="#c9c9c9"/><stop offset=".7789" stop-color="#b5b5b5"/><stop offset=".8117" stop-color="#b5b5b5"/><stop offset=".8117" stop-color="#bababa"/><stop offset=".818" stop-color="#bababa"/><stop offset=".818" stop-color="#bfbfbf"/><stop offset=".8305" stop-color="#bfbfbf"/><stop offset=".8305" stop-color="#b5b5b5"/><stop offset=".8336" stop-color="#b5b5b5"/><stop offset=".8336" stop-color="#bababa"/><stop offset=".8836" stop-color="#bababa"/><stop offset=".8836" stop-color="#b5b5b5"/><stop offset=".8977" stop-color="#b5b5b5"/><stop offset=".8977" stop-color="#8a8a8a"/><stop offset=".9102" stop-color="#8a8a8a"/><stop offset=".9102" stop-color="#bababa"/><stop offset=".9383" stop-color="#bababa"/><stop offset=".9383" stop-color="#9c9c9c"/><stop offset=".9508" stop-color="#9c9c9c"/><stop offset=".9508" stop-color="#bababa"/><stop offset=".9805" stop-color="#bababa"/><stop offset=".9805" stop-color="#969696"/><stop offset=".9898" stop-color="#969696"/><stop offset=".9898" stop-color="#b5b5b5"/><stop offset="1" stop-color="#b5b5b5"/></linearGradient><linearGradient id="p2b1" x2="0" y2="1"><stop offset=".0008" stop-color="#b0b0b0"/><stop offset=".0242" stop-color="#b0b0b0"/><stop offset=".0242" stop-color="#b5b5b5"/><stop offset=".0477" stop-color="#b5b5b5"/><stop offset=".0477" stop-color="#b0b0b0"/><stop offset=".0492" stop-color="#b0b0b0"/><stop offset=".0492" stop-color="#b5b5b5"/><stop offset=".0773" stop-color="#b5b5b5"/><stop offset=".0773" stop-color="#b0b0b0"/><stop offset=".0836" stop-color="#b0b0b0"/><stop offset=".0836" stop-color="#ababab"/><stop offset=".1023" stop-color="#ababab"/><stop offset=".1023" stop-color="#b5b5b5"/><stop offset=".1445" stop-color="#b5b5b5"/><stop offset=".1445" stop-color="#bababa"/><stop offset=".1836" stop-color="#bababa"/><stop offset=".1836" stop-color="#b5b5b5"/><stop offset=".2258" stop-color="#b5b5b5"/><stop offset=".2258" stop-color="#b0b0b0"/><stop offset=".2523" stop-color="#b0b0b0"/><stop offset=".2523" stop-color="#a1a1a1"/><stop offset=".2773" stop-color="#a1a1a1"/><stop offset=".2773" stop-color="#969696"/><stop offset=".3086" stop-color="#969696"/><stop offset=".3086" stop-color="#a6a6a6"/><stop offset=".3508" stop-color="#a6a6a6"/><stop offset=".3508" stop-color="#b0b0b0"/><stop offset=".3648" stop-color="#b0b0b0"/><stop offset=".3648" stop-color="#ababab"/><stop offset=".3758" stop-color="#ababab"/><stop offset=".3758" stop-color="#a6a6a6"/><stop offset=".3992" stop-color="#a6a6a6"/><stop offset=".3992" stop-color="#f5f5f5"/><stop offset=".4086" stop-color="#f5f5f5"/><stop offset=".4086" stop-color="#fcfcfc"/><stop offset=".4258" stop-color="#fcfcfc"/><stop offset=".4258" stop-color="#e3e3e3"/><stop offset=".432" stop-color="#e3e3e3"/><stop offset=".432" stop-color="#d4d4d4"/><stop offset=".4445" stop-color="#d4d4d4"/><stop offset=".4445" stop-color="#c4c4c4"/><stop offset=".4508" stop-color="#c4c4c4"/><stop offset=".4508" stop-color="#bababa"/><stop offset=".4633" stop-color="#bababa"/><stop offset=".4633" stop-color="#b5b5b5"/><stop offset=".4711" stop-color="#b5b5b5"/><stop offset=".4711" stop-color="#ababab"/><stop offset=".4773" stop-color="#ababab"/><stop offset=".4773" stop-color="#a6a6a6"/><stop offset=".482" stop-color="#a6a6a6"/><stop offset=".482" stop-color="#bababa"/><stop offset=".5133" stop-color="#bababa"/><stop offset=".5133" stop-color="#b0b0b0"/><stop offset=".532" stop-color="#b0b0b0"/><stop offset=".532" stop-color="#b5b5b5"/><stop offset=".5414" stop-color="#b5b5b5"/><stop offset=".5414" stop-color="#e6e6e6"/><stop offset=".5508" stop-color="#e6e6e6"/><stop offset=".5508" stop-color="#f5f5f5"/><stop offset=".5617" stop-color="#f5f5f5"/><stop offset=".5617" stop-color="#fcfcfc"/><stop offset=".5898" stop-color="#fcfcfc"/><stop offset=".5898" stop-color="#f2f2f2"/><stop offset=".5961" stop-color="#f2f2f2"/><stop offset=".5961" stop-color="#fcfcfc"/><stop offset=".6055" stop-color="#fcfcfc"/><stop offset=".6055" stop-color="#e8e8e8"/><stop offset=".6148" stop-color="#e8e8e8"/><stop offset=".6148" stop-color="#bababa"/><stop offset=".6414" stop-color="#bababa"/><stop offset=".6414" stop-color="#a6a6a6"/><stop offset=".6492" stop-color="#a6a6a6"/><stop offset=".6492" stop-color="#ababab"/><stop offset=".6602" stop-color="#ababab"/><stop offset=".6602" stop-color="#bfbfbf"/><stop offset=".6711" stop-color="#bfbfbf"/><stop offset=".6711" stop-color="#ababab"/><stop offset=".6836" stop-color="#ababab"/><stop offset=".6836" stop-color="#a6a6a6"/><stop offset=".6992" stop-color="#a6a6a6"/><stop offset=".6992" stop-color="#a1a1a1"/><stop offset=".7086" stop-color="#a1a1a1"/><stop offset=".7086" stop-color="#9c9c9c"/><stop offset=".7195" stop-color="#9c9c9c"/><stop offset=".7195" stop-color="#b0b0b0"/><stop offset=".7289" stop-color="#b0b0b0"/><stop offset=".7289" stop-color="#bababa"/><stop offset=".7461" stop-color="#bababa"/><stop offset=".7461" stop-color="#c9c9c9"/><stop offset=".7789" stop-color="#c9c9c9"/><stop offset=".7789" stop-color="#b0b0b0"/><stop offset=".8117" stop-color="#b0b0b0"/><stop offset=".8117" stop-color="#bababa"/><stop offset=".818" stop-color="#bababa"/><stop offset=".818" stop-color="#b5b5b5"/><stop offset=".8305" stop-color="#b5b5b5"/><stop offset=".8305" stop-color="#b0b0b0"/><stop offset=".8336" stop-color="#b0b0b0"/><stop offset=".8336" stop-color="#b5b5b5"/><stop offset=".8617" stop-color="#b5b5b5"/><stop offset=".8617" stop-color="#b0b0b0"/><stop offset=".8977" stop-color="#b0b0b0"/><stop offset=".8977" stop-color="#a6a6a6"/><stop offset=".9102" stop-color="#a6a6a6"/><stop offset=".9102" stop-color="#bababa"/><stop offset=".9273" stop-color="#bababa"/><stop offset=".9273" stop-color="#b5b5b5"/><stop offset=".9383" stop-color="#b5b5b5"/><stop offset=".9383" stop-color="#9c9c9c"/><stop offset=".9508" stop-color="#9c9c9c"/><stop offset=".9508" stop-color="#b5b5b5"/><stop offset=".9805" stop-color="#b5b5b5"/><stop offset=".9805" stop-color="#969696"/><stop offset=".9898" stop-color="#969696"/><stop offset=".9898" stop-color="#b0b0b0"/><stop offset="1" stop-color="#b0b0b0"/></linearGradient><linearGradient id="p2b2" x2="0" y2="1"><stop offset=".0008" stop-color="#a6a6a6"/><stop offset=".0617" stop-color="#a6a6a6"/><stop offset=".0617" stop-color="#bababa"/><stop offset=".0773" stop-color="#bababa"/><stop offset=".0773" stop-color="#a6a6a6"/><stop offset=".1023" stop-color="#a6a6a6"/><stop offset=".1023" stop-color="#bababa"/><stop offset=".1445" stop-color="#bababa"/><stop offset=".1445" stop-color="#b0b0b0"/><stop offset=".1836" stop-color="#b0b0b0"/><stop offset=".1836" stop-color="#b5b5b5"/><stop offset=".2102" stop-color="#b5b5b5"/><stop offset=".2102" stop-color="#b0b0b0"/><stop offset=".2258" stop-color="#b0b0b0"/><stop offset=".2258" stop-color="#ababab"/><stop offset=".2523" stop-color="#ababab"/><stop offset=".2523" stop-color="#a1a1a1"/><stop offset=".2773" stop-color="#a1a1a1"/><stop offset=".2773" stop-color="#9c9c9c"/><stop offset=".3508" stop-color="#9c9c9c"/><stop offset=".3508" stop-color="#a1a1a1"/><stop offset=".3648" stop-color="#a1a1a1"/><stop offset=".3648" stop-color="#b5b5b5"/><stop offset=".3758" stop-color="#b5b5b5"/><stop offset=".3758" stop-color="#a1a1a1"/><stop offset=".3992" stop-color="#a1a1a1"/><stop offset=".3992" stop-color="#f5f5f5"/><stop offset=".4086" stop-color="#f5f5f5"/><stop offset=".4086" stop-color="#fcfcfc"/><stop offset=".4258" stop-color="#fcfcfc"/><stop offset=".4258" stop-color="#e3e3e3"/><stop offset=".432" stop-color="#e3e3e3"/><stop offset=".432" stop-color="#d4d4d4"/><stop offset=".4445" stop-color="#d4d4d4"/><stop offset=".4445" stop-color="#c4c4c4"/><stop offset=".4508" stop-color="#c4c4c4"/><stop offset=".4508" stop-color="#bfbfbf"/><stop offset=".4633" stop-color="#bfbfbf"/><stop offset=".4633" stop-color="#b5b5b5"/><stop offset=".4711" stop-color="#b5b5b5"/><stop offset=".4711" stop-color="#a6a6a6"/><stop offset=".4773" stop-color="#a6a6a6"/><stop offset=".4773" stop-color="#a1a1a1"/><stop offset=".482" stop-color="#a1a1a1"/><stop offset=".482" stop-color="#9c9c9c"/><stop offset=".5133" stop-color="#9c9c9c"/><stop offset=".5133" stop-color="#a6a6a6"/><stop offset=".532" stop-color="#a6a6a6"/><stop offset=".532" stop-color="#bababa"/><stop offset=".5414" stop-color="#bababa"/><stop offset=".5414" stop-color="#e0e0e0"/><stop offset=".5508" stop-color="#e0e0e0"/><stop offset=".5508" stop-color="#f0f0f0"/><stop offset=".5602" stop-color="#f0f0f0"/><stop offset=".5602" stop-color="#f5f5f5"/><stop offset=".5617" stop-color="#f5f5f5"/><stop offset=".5617" stop-color="#fcfcfc"/><stop offset=".582" stop-color="#fcfcfc"/><stop offset=".582" stop-color="#f5f5f5"/><stop offset=".5898" stop-color="#f5f5f5"/><stop offset=".5898" stop-color="#ededed"/><stop offset=".5961" stop-color="#ededed"/><stop offset=".5961" stop-color="#f2f2f2"/><stop offset=".6055" stop-color="#f2f2f2"/><stop offset=".6055" stop-color="#e3e3e3"/><stop offset=".6148" stop-color="#e3e3e3"/><stop offset=".6148" stop-color="#b0b0b0"/><stop offset=".6414" stop-color="#b0b0b0"/><stop offset=".6414" stop-color="#a1a1a1"/><stop offset=".6602" stop-color="#a1a1a1"/><stop offset=".6602" stop-color="#ababab"/><stop offset=".6711" stop-color="#ababab"/><stop offset=".6711" stop-color="#b0b0b0"/><stop offset=".6836" stop-color="#b0b0b0"/><stop offset=".6836" stop-color="#a6a6a6"/><stop offset=".6992" stop-color="#a6a6a6"/><stop offset=".6992" stop-color="#969696"/><stop offset=".7086" stop-color="#969696"/><stop offset=".7086" stop-color="#9c9c9c"/><stop offset=".7195" stop-color="#9c9c9c"/><stop offset=".7195" stop-color="#a6a6a6"/><stop offset=".7289" stop-color="#a6a6a6"/><stop offset=".7289" stop-color="#ababab"/><stop offset=".7461" stop-color="#ababab"/><stop offset=".7461" stop-color="#bababa"/><stop offset=".7789" stop-color="#bababa"/><stop offset=".7789" stop-color="#ababab"/><stop offset=".8117" stop-color="#ababab"/><stop offset=".8117" stop-color="#b5b5b5"/><stop offset=".818" stop-color="#b5b5b5"/><stop offset=".818" stop-color="#bfbfbf"/><stop offset=".8305" stop-color="#bfbfbf"/><stop offset=".8305" stop-color="#b0b0b0"/><stop offset=".8617" stop-color="#b0b0b0"/><stop offset=".8617" stop-color="#a6a6a6"/><stop offset=".8977" stop-color="#a6a6a6"/><stop offset=".8977" stop-color="#9c9c9c"/><stop offset=".9273" stop-color="#9c9c9c"/><stop offset=".9273" stop-color="#a1a1a1"/><stop offset=".9383" stop-color="#a1a1a1"/><stop offset=".9383" stop-color="#969696"/><stop offset=".9508" stop-color="#969696"/><stop offset=".9508" stop-color="#9c9c9c"/><stop offset=".9805" stop-color="#9c9c9c"/><stop offset=".9805" stop-color="#919191"/><stop offset=".9898" stop-color="#919191"/><stop offset=".9898" stop-color="#b5b5b5"/><stop offset="1" stop-color="#b5b5b5"/></linearGradient><linearGradient id="p2b3" x2="0" y2="1"><stop offset=".0008" stop-color="#b5b5b5"/><stop offset=".0242" stop-color="#b5b5b5"/><stop offset=".0242" stop-color="#8c8c8c"/><stop offset=".0477" stop-color="#8c8c8c"/><stop offset=".0477" stop-color="#a6a6a6"/><stop offset=".0492" stop-color="#a6a6a6"/><stop offset=".0492" stop-color="#919191"/><stop offset=".0617" stop-color="#919191"/><stop offset=".0617" stop-color="#b5b5b5"/><stop offset=".0773" stop-color="#b5b5b5"/><stop offset=".0773" stop-color="#9c9c9c"/><stop offset=".0836" stop-color="#9c9c9c"/><stop offset=".0836" stop-color="#969696"/><stop offset=".1023" stop-color="#969696"/><stop offset=".1023" stop-color="#b5b5b5"/><stop offset=".1445" stop-color="#b5b5b5"/><stop offset=".1445" stop-color="#a1a1a1"/><stop offset=".1836" stop-color="#a1a1a1"/><stop offset=".1836" stop-color="#ababab"/><stop offset=".2258" stop-color="#ababab"/><stop offset=".2258" stop-color="#969696"/><stop offset=".2523" stop-color="#969696"/><stop offset=".2523" stop-color="#a6a6a6"/><stop offset=".2773" stop-color="#a6a6a6"/><stop offset=".2773" stop-color="#919191"/><stop offset=".3086" stop-color="#919191"/><stop offset=".3086" stop-color="#969696"/><stop offset=".3508" stop-color="#969696"/><stop offset=".3508" stop-color="#a1a1a1"/><stop offset=".3758" stop-color="#a1a1a1"/><stop offset=".3758" stop-color="#ababab"/><stop offset=".3992" stop-color="#ababab"/><stop offset=".3992" stop-color="#f5f5f5"/><stop offset=".4086" stop-color="#f5f5f5"/><stop offset=".4086" stop-color="#fcfcfc"/><stop offset=".4258" stop-color="#fcfcfc"/><stop offset=".4258" stop-color="#dedede"/><stop offset=".432" stop-color="#dedede"/><stop offset=".432" stop-color="#c4c4c4"/><stop offset=".4445" stop-color="#c4c4c4"/><stop offset=".4445" stop-color="#bfbfbf"/><stop offset=".4508" stop-color="#bfbfbf"/><stop offset=".4508" stop-color="#b5b5b5"/><stop offset=".4633" stop-color="#b5b5b5"/><stop offset=".4633" stop-color="#ababab"/><stop offset=".4711" stop-color="#ababab"/><stop offset=".4711" stop-color="#a6a6a6"/><stop offset=".4773" stop-color="#a6a6a6"/><stop offset=".4773" stop-color="#a1a1a1"/><stop offset=".482" stop-color="#a1a1a1"/><stop offset=".482" stop-color="#9c9c9c"/><stop offset=".5133" stop-color="#9c9c9c"/><stop offset=".5133" stop-color="#ababab"/><stop offset=".532" stop-color="#ababab"/><stop offset=".532" stop-color="#bfbfbf"/><stop offset=".5414" stop-color="#bfbfbf"/><stop offset=".5414" stop-color="#e0e0e0"/><stop offset=".5508" stop-color="#e0e0e0"/><stop offset=".5508" stop-color="#f0f0f0"/><stop offset=".5602" stop-color="#f0f0f0"/><stop offset=".5602" stop-color="#f5f5f5"/><stop offset=".5617" stop-color="#f5f5f5"/><stop offset=".5617" stop-color="#fafafa"/><stop offset=".5727" stop-color="#fafafa"/><stop offset=".5727" stop-color="#f7f7f7"/><stop offset=".582" stop-color="#f7f7f7"/><stop offset=".582" stop-color="#f2f2f2"/><stop offset=".5898" stop-color="#f2f2f2"/><stop offset=".5898" stop-color="#ebebeb"/><stop offset=".5961" stop-color="#ebebeb"/><stop offset=".5961" stop-color="#ededed"/><stop offset=".6055" stop-color="#ededed"/><stop offset=".6055" stop-color="#e3e3e3"/><stop offset=".6148" stop-color="#e3e3e3"/><stop offset=".6148" stop-color="#bababa"/><stop offset=".6414" stop-color="#bababa"/><stop offset=".6414" stop-color="#a1a1a1"/><stop offset=".6492" stop-color="#a1a1a1"/><stop offset=".6492" stop-color="#a6a6a6"/><stop offset=".6602" stop-color="#a6a6a6"/><stop offset=".6602" stop-color="#bababa"/><stop offset=".6711" stop-color="#bababa"/><stop offset=".6711" stop-color="#a6a6a6"/><stop offset=".6836" stop-color="#a6a6a6"/><stop offset=".6836" stop-color="#a1a1a1"/><stop offset=".6992" stop-color="#a1a1a1"/><stop offset=".6992" stop-color="#9c9c9c"/><stop offset=".7195" stop-color="#9c9c9c"/><stop offset=".7195" stop-color="#a1a1a1"/><stop offset=".7289" stop-color="#a1a1a1"/><stop offset=".7289" stop-color="#9c9c9c"/><stop offset=".7461" stop-color="#9c9c9c"/><stop offset=".7461" stop-color="#b5b5b5"/><stop offset=".7789" stop-color="#b5b5b5"/><stop offset=".7789" stop-color="#a1a1a1"/><stop offset=".8117" stop-color="#a1a1a1"/><stop offset=".8117" stop-color="#b0b0b0"/><stop offset=".8305" stop-color="#b0b0b0"/><stop offset=".8305" stop-color="#ababab"/><stop offset=".8336" stop-color="#ababab"/><stop offset=".8336" stop-color="#b5b5b5"/><stop offset=".8617" stop-color="#b5b5b5"/><stop offset=".8617" stop-color="#ababab"/><stop offset=".8836" stop-color="#ababab"/><stop offset=".8836" stop-color="#a6a6a6"/><stop offset=".8977" stop-color="#a6a6a6"/><stop offset=".8977" stop-color="#969696"/><stop offset=".9102" stop-color="#969696"/><stop offset=".9102" stop-color="#9c9c9c"/><stop offset=".9383" stop-color="#9c9c9c"/><stop offset=".9383" stop-color="#969696"/><stop offset=".9508" stop-color="#969696"/><stop offset=".9508" stop-color="#a6a6a6"/><stop offset=".9805" stop-color="#a6a6a6"/><stop offset=".9805" stop-color="#919191"/><stop offset=".9898" stop-color="#919191"/><stop offset=".9898" stop-color="#ababab"/><stop offset="1" stop-color="#ababab"/></linearGradient><linearGradient id="p2s" x2="0" y2="1"><stop offset=".0008" stop-color="#006bff"/><stop offset=".0242" stop-color="#006bff"/><stop offset=".0242" stop-color="#0047ff"/><stop offset=".0477" stop-color="#0047ff"/><stop offset=".0477" stop-color="#00b2ff"/><stop offset=".0492" stop-color="#00b2ff"/><stop offset=".0492" stop-color="#004dff"/><stop offset=".0617" stop-color="#004dff"/><stop offset=".0617" stop-color="#009cff"/><stop offset=".0773" stop-color="#009cff"/><stop offset=".0773" stop-color="#004dff"/><stop offset=".0836" stop-color="#004dff"/><stop offset=".0836" stop-color="#0047ff"/><stop offset=".1023" stop-color="#0047ff"/><stop offset=".1023" stop-color="#00b6ff"/><stop offset=".1445" stop-color="#00b6ff"/><stop offset=".1445" stop-color="#006bff"/><stop offset=".1836" stop-color="#006bff"/><stop offset=".1836" stop-color="#0075ff"/><stop offset=".2102" stop-color="#0075ff"/><stop offset=".2102" stop-color="#0070ff"/><stop offset=".2258" stop-color="#0070ff"/><stop offset=".2258" stop-color="#0057ff"/><stop offset=".2523" stop-color="#0057ff"/><stop offset=".2523" stop-color="#004dff"/><stop offset=".2773" stop-color="#004dff"/><stop offset=".2773" stop-color="#0038ff"/><stop offset=".3086" stop-color="#0038ff"/><stop offset=".3086" stop-color="#002eff"/><stop offset=".3508" stop-color="#002eff"/><stop offset=".3508" stop-color="#0052ff"/><stop offset=".3648" stop-color="#0052ff"/><stop offset=".3648" stop-color="#0080ff"/><stop offset=".3758" stop-color="#0080ff"/><stop offset=".3758" stop-color="#0061ff"/><stop offset=".3992" stop-color="#0061ff"/><stop offset=".3992" stop-color="#dc0000"/><stop offset=".4086" stop-color="#dc0000"/><stop offset=".4086" stop-color="#ff4200"/><stop offset=".4258" stop-color="#ff4200"/><stop offset=".4258" stop-color="#ffbb00"/><stop offset=".432" stop-color="#ffbb00"/><stop offset=".432" stop-color="#8cff6b"/><stop offset=".4445" stop-color="#8cff6b"/><stop offset=".4445" stop-color="#2effc9"/><stop offset=".4508" stop-color="#2effc9"/><stop offset=".4508" stop-color="#00d0ff"/><stop offset=".4633" stop-color="#00d0ff"/><stop offset=".4633" stop-color="#0082ff"/><stop offset=".4711" stop-color="#0082ff"/><stop offset=".4711" stop-color="#0061ff"/><stop offset=".4773" stop-color="#0061ff"/><stop offset=".4773" stop-color="#009eff"/><stop offset=".482" stop-color="#009eff"/><stop offset=".482" stop-color="#0057ff"/><stop offset=".5133" stop-color="#0057ff"/><stop offset=".5133" stop-color="#0061ff"/><stop offset=".532" stop-color="#0061ff"/><stop offset=".532" stop-color="#00d0ff"/><stop offset=".5414" stop-color="#00d0ff"/><stop offset=".5414" stop-color="#ffa300"/><stop offset=".5508" stop-color="#ffa300"/><stop offset=".5508" stop-color="#ff6300"/><stop offset=".5602" stop-color="#ff6300"/><stop offset=".5602" stop-color="#ff5e00"/><stop offset=".5617" stop-color="#ff5e00"/><stop offset=".5617" stop-color="#ff4400"/><stop offset=".5727" stop-color="#ff4400"/><stop offset=".5727" stop-color="#ff4700"/><stop offset=".582" stop-color="#ff4700"/><stop offset=".582" stop-color="#ff5a00"/><stop offset=".5898" stop-color="#ff5a00"/><stop offset=".5898" stop-color="#ff7800"/><stop offset=".5961" stop-color="#ff7800"/><stop offset=".5961" stop-color="#ff5a00"/><stop offset=".6055" stop-color="#ff5a00"/><stop offset=".6055" stop-color="#ff9d00"/><stop offset=".6148" stop-color="#ff9d00"/><stop offset=".6148" stop-color="#00c3ff"/><stop offset=".6414" stop-color="#00c3ff"/><stop offset=".6414" stop-color="#0061ff"/><stop offset=".6602" stop-color="#0061ff"/><stop offset=".6602" stop-color="#00b6ff"/><stop offset=".6711" stop-color="#00b6ff"/><stop offset=".6711" stop-color="#0052ff"/><stop offset=".6836" stop-color="#0052ff"/><stop offset=".6836" stop-color="#0047ff"/><stop offset=".6992" stop-color="#0047ff"/><stop offset=".6992" stop-color="#0024ff"/><stop offset=".7086" stop-color="#0024ff"/><stop offset=".7086" stop-color="#002eff"/><stop offset=".7195" stop-color="#002eff"/><stop offset=".7195" stop-color="#0052ff"/><stop offset=".7289" stop-color="#0052ff"/><stop offset=".7289" stop-color="#006bff"/><stop offset=".7461" stop-color="#006bff"/><stop offset=".7461" stop-color="#19ffde"/><stop offset=".7789" stop-color="#19ffde"/><stop offset=".7789" stop-color="#005cff"/><stop offset=".8117" stop-color="#005cff"/><stop offset=".8117" stop-color="#009cff"/><stop offset=".818" stop-color="#009cff"/><stop offset=".818" stop-color="#00b6ff"/><stop offset=".8305" stop-color="#00b6ff"/><stop offset=".8305" stop-color="#7bff7b"/><stop offset=".8336" stop-color="#7bff7b"/><stop offset=".8336" stop-color="#008fff"/><stop offset=".8617" stop-color="#008fff"/><stop offset=".8617" stop-color="#0066ff"/><stop offset=".8836" stop-color="#0066ff"/><stop offset=".8836" stop-color="#005cff"/><stop offset=".8977" stop-color="#005cff"/><stop offset=".8977" stop-color="#002eff"/><stop offset=".9102" stop-color="#002eff"/><stop offset=".9102" stop-color="#0057ff"/><stop offset=".9383" stop-color="#0057ff"/><stop offset=".9383" stop-color="#002eff"/><stop offset=".9508" stop-color="#002eff"/><stop offset=".9508" stop-color="#005cff"/><stop offset=".9805" stop-color="#005cff"/><stop offset=".9805" stop-color="#0061ff"/><stop offset=".9898" stop-color="#0061ff"/><stop offset=".9898" stop-color="#0070ff"/><stop offset="1" stop-color="#0070ff"/></linearGradient><linearGradient id="p2R" x2="0" y2="1"><stop offset=".0008" stop-color="#333333"/><stop offset=".0242" stop-color="#333333"/><stop offset=".0242" stop-color="#2e2e2e"/><stop offset=".0477" stop-color="#2e2e2e"/><stop offset=".0477" stop-color="#4c4c4c"/><stop offset=".0492" stop-color="#4c4c4c"/><stop offset=".0492" stop-color="#2e2e2e"/><stop offset=".0773" stop-color="#2e2e2e"/><stop offset=".0773" stop-color="#333333"/><stop offset=".0836" stop-color="#333333"/><stop offset=".0836" stop-color="#2e2e2e"/><stop offset=".1023" stop-color="#2e2e2e"/><stop offset=".1023" stop-color="#2b2b2b"/><stop offset=".1445" stop-color="#2b2b2b"/><stop offset=".1445" stop-color="#333333"/><stop offset=".1836" stop-color="#333333"/><stop offset=".1836" stop-color="#2b2b2b"/><stop offset=".2258" stop-color="#2b2b2b"/><stop offset=".2258" stop-color="#333333"/><stop offset=".2773" stop-color="#333333"/><stop offset=".2773" stop-color="#2e2e2e"/><stop offset=".3086" stop-color="#2e2e2e"/><stop offset=".3086" stop-color="#2b2b2b"/><stop offset=".3508" stop-color="#2b2b2b"/><stop offset=".3508" stop-color="#333333"/><stop offset=".3648" stop-color="#333333"/><stop offset=".3648" stop-color="#404040"/><stop offset=".3758" stop-color="#404040"/><stop offset=".3758" stop-color="#383838"/><stop offset=".3992" stop-color="#383838"/><stop offset=".3992" stop-color="#e0e0e0"/><stop offset=".4039" stop-color="#e0e0e0"/><stop offset=".4039" stop-color="#d9d9d9"/><stop offset=".4086" stop-color="#d9d9d9"/><stop offset=".4086" stop-color="#999999"/><stop offset=".4117" stop-color="#999999"/><stop offset=".4117" stop-color="#737373"/><stop offset=".4258" stop-color="#737373"/><stop offset=".4258" stop-color="#666666"/><stop offset=".432" stop-color="#666666"/><stop offset=".432" stop-color="#595959"/><stop offset=".4445" stop-color="#595959"/><stop offset=".4445" stop-color="#474747"/><stop offset=".4508" stop-color="#474747"/><stop offset=".4508" stop-color="#404040"/><stop offset=".4711" stop-color="#404040"/><stop offset=".4711" stop-color="#383838"/><stop offset=".4773" stop-color="#383838"/><stop offset=".4773" stop-color="#474747"/><stop offset=".482" stop-color="#474747"/><stop offset=".482" stop-color="#333333"/><stop offset=".5133" stop-color="#333333"/><stop offset=".5133" stop-color="#383838"/><stop offset=".532" stop-color="#383838"/><stop offset=".532" stop-color="#404040"/><stop offset=".5414" stop-color="#404040"/><stop offset=".5414" stop-color="#616161"/><stop offset=".5508" stop-color="#616161"/><stop offset=".5508" stop-color="#666666"/><stop offset=".5602" stop-color="#666666"/><stop offset=".5602" stop-color="#b2b2b2"/><stop offset=".5617" stop-color="#b2b2b2"/><stop offset=".5617" stop-color="#666666"/><stop offset=".5727" stop-color="#666666"/><stop offset=".5727" stop-color="#6b6b6b"/><stop offset=".5773" stop-color="#6b6b6b"/><stop offset=".5773" stop-color="#737373"/><stop offset=".582" stop-color="#737373"/><stop offset=".582" stop-color="#616161"/><stop offset=".5961" stop-color="#616161"/><stop offset=".5961" stop-color="#6b6b6b"/><stop offset=".6055" stop-color="#6b6b6b"/><stop offset=".6055" stop-color="#666666"/><stop offset=".6148" stop-color="#666666"/><stop offset=".6148" stop-color="#404040"/><stop offset=".6414" stop-color="#404040"/><stop offset=".6414" stop-color="#383838"/><stop offset=".6711" stop-color="#383838"/><stop offset=".6711" stop-color="#2b2b2b"/><stop offset=".6836" stop-color="#2b2b2b"/><stop offset=".6836" stop-color="#262626"/><stop offset=".7086" stop-color="#262626"/><stop offset=".7086" stop-color="#2b2b2b"/><stop offset=".7195" stop-color="#2b2b2b"/><stop offset=".7195" stop-color="#2e2e2e"/><stop offset=".7289" stop-color="#2e2e2e"/><stop offset=".7289" stop-color="#333333"/><stop offset=".7461" stop-color="#333333"/><stop offset=".7461" stop-color="#383838"/><stop offset=".7789" stop-color="#383838"/><stop offset=".7789" stop-color="#333333"/><stop offset=".8305" stop-color="#333333"/><stop offset=".8305" stop-color="#808080"/><stop offset=".8336" stop-color="#808080"/><stop offset=".8336" stop-color="#333333"/><stop offset=".8617" stop-color="#333333"/><stop offset=".8617" stop-color="#2b2b2b"/><stop offset=".9102" stop-color="#2b2b2b"/><stop offset=".9102" stop-color="#333333"/><stop offset=".9273" stop-color="#333333"/><stop offset=".9273" stop-color="#2e2e2e"/><stop offset=".9383" stop-color="#2e2e2e"/><stop offset=".9383" stop-color="#2b2b2b"/><stop offset=".9805" stop-color="#2b2b2b"/><stop offset=".9805" stop-color="#383838"/><stop offset=".9898" stop-color="#383838"/><stop offset=".9898" stop-color="#2b2b2b"/><stop offset="1" stop-color="#2b2b2b"/></linearGradient><linearGradient id="p2e" x2="0" y2="1"><stop offset=".0008" stop-color="#818181"/><stop offset=".0242" stop-color="#818181"/><stop offset=".0242" stop-color="#676767"/><stop offset=".0477" stop-color="#676767"/><stop offset=".0477" stop-color="#828282"/><stop offset=".0492" stop-color="#828282"/><stop offset=".0492" stop-color="#6a6a6a"/><stop offset=".0617" stop-color="#6a6a6a"/><stop offset=".0617" stop-color="#7f7f7f"/><stop offset=".0773" stop-color="#7f7f7f"/><stop offset=".0773" stop-color="#727272"/><stop offset=".0836" stop-color="#727272"/><stop offset=".0836" stop-color="#6d6d6d"/><stop offset=".1023" stop-color="#6d6d6d"/><stop offset=".1023" stop-color="#7e7e7e"/><stop offset=".1445" stop-color="#7e7e7e"/><stop offset=".1445" stop-color="#757575"/><stop offset=".1836" stop-color="#757575"/><stop offset=".1836" stop-color="#787878"/><stop offset=".2258" stop-color="#787878"/><stop offset=".2258" stop-color="#6f6f6f"/><stop offset=".2523" stop-color="#6f6f6f"/><stop offset=".2523" stop-color="#787878"/><stop offset=".2773" stop-color="#787878"/><stop offset=".2773" stop-color="#6a6a6a"/><stop offset=".3086" stop-color="#6a6a6a"/><stop offset=".3086" stop-color="#6c6c6c"/><stop offset=".3508" stop-color="#6c6c6c"/><stop offset=".3508" stop-color="#757575"/><stop offset=".3648" stop-color="#757575"/><stop offset=".3648" stop-color="#7a7a7a"/><stop offset=".3758" stop-color="#7a7a7a"/><stop offset=".3758" stop-color="#7d7d7d"/><stop offset=".3992" stop-color="#7d7d7d"/><stop offset=".3992" stop-color="#ededed"/><stop offset=".4039" stop-color="#ededed"/><stop offset=".4039" stop-color="#eaeaea"/><stop offset=".4086" stop-color="#eaeaea"/><stop offset=".4086" stop-color="#d5d5d5"/><stop offset=".4117" stop-color="#d5d5d5"/><stop offset=".4117" stop-color="#c5c5c5"/><stop offset=".4258" stop-color="#c5c5c5"/><stop offset=".4258" stop-color="#aeaeae"/><stop offset=".432" stop-color="#aeaeae"/><stop offset=".432" stop-color="#9a9a9a"/><stop offset=".4445" stop-color="#9a9a9a"/><stop offset=".4445" stop-color="#8f8f8f"/><stop offset=".4508" stop-color="#8f8f8f"/><stop offset=".4508" stop-color="#868686"/><stop offset=".4633" stop-color="#868686"/><stop offset=".4633" stop-color="#808080"/><stop offset=".4711" stop-color="#808080"/><stop offset=".4711" stop-color="#7a7a7a"/><stop offset=".4773" stop-color="#7a7a7a"/><stop offset=".4773" stop-color="#7d7d7d"/><stop offset=".482" stop-color="#7d7d7d"/><stop offset=".482" stop-color="#727272"/><stop offset=".5133" stop-color="#727272"/><stop offset=".5133" stop-color="#7d7d7d"/><stop offset=".532" stop-color="#7d7d7d"/><stop offset=".532" stop-color="#8c8c8c"/><stop offset=".5414" stop-color="#8c8c8c"/><stop offset=".5414" stop-color="#adadad"/><stop offset=".5508" stop-color="#adadad"/><stop offset=".5508" stop-color="#b9b9b9"/><stop offset=".5602" stop-color="#b9b9b9"/><stop offset=".5602" stop-color="#dadada"/><stop offset=".5617" stop-color="#dadada"/><stop offset=".5617" stop-color="#bfbfbf"/><stop offset=".5773" stop-color="#bfbfbf"/><stop offset=".5773" stop-color="#c2c2c2"/><stop offset=".582" stop-color="#c2c2c2"/><stop offset=".582" stop-color="#b8b8b8"/><stop offset=".5898" stop-color="#b8b8b8"/><stop offset=".5898" stop-color="#b4b4b4"/><stop offset=".5961" stop-color="#b4b4b4"/><stop offset=".5961" stop-color="#b9b9b9"/><stop offset=".6055" stop-color="#b9b9b9"/><stop offset=".6055" stop-color="#b1b1b1"/><stop offset=".6148" stop-color="#b1b1b1"/><stop offset=".6148" stop-color="#898989"/><stop offset=".6414" stop-color="#898989"/><stop offset=".6414" stop-color="#777777"/><stop offset=".6492" stop-color="#777777"/><stop offset=".6492" stop-color="#7a7a7a"/><stop offset=".6602" stop-color="#7a7a7a"/><stop offset=".6602" stop-color="#868686"/><stop offset=".6711" stop-color="#868686"/><stop offset=".6711" stop-color="#757575"/><stop offset=".6836" stop-color="#757575"/><stop offset=".6836" stop-color="#707070"/><stop offset=".6992" stop-color="#707070"/><stop offset=".6992" stop-color="#6d6d6d"/><stop offset=".7086" stop-color="#6d6d6d"/><stop offset=".7086" stop-color="#6f6f6f"/><stop offset=".7195" stop-color="#6f6f6f"/><stop offset=".7195" stop-color="#737373"/><stop offset=".7289" stop-color="#737373"/><stop offset=".7289" stop-color="#727272"/><stop offset=".7461" stop-color="#727272"/><stop offset=".7461" stop-color="#838383"/><stop offset=".7789" stop-color="#838383"/><stop offset=".7789" stop-color="#757575"/><stop offset=".8117" stop-color="#757575"/><stop offset=".8117" stop-color="#7e7e7e"/><stop offset=".8305" stop-color="#7e7e7e"/><stop offset=".8305" stop-color="#9a9a9a"/><stop offset=".8336" stop-color="#9a9a9a"/><stop offset=".8336" stop-color="#818181"/><stop offset=".8617" stop-color="#818181"/><stop offset=".8617" stop-color="#787878"/><stop offset=".8836" stop-color="#787878"/><stop offset=".8836" stop-color="#757575"/><stop offset=".8977" stop-color="#757575"/><stop offset=".8977" stop-color="#6c6c6c"/><stop offset=".9102" stop-color="#6c6c6c"/><stop offset=".9102" stop-color="#727272"/><stop offset=".9273" stop-color="#727272"/><stop offset=".9273" stop-color="#707070"/><stop offset=".9383" stop-color="#707070"/><stop offset=".9383" stop-color="#6c6c6c"/><stop offset=".9508" stop-color="#6c6c6c"/><stop offset=".9508" stop-color="#757575"/><stop offset=".9805" stop-color="#757575"/><stop offset=".9805" stop-color="#6e6e6e"/><stop offset=".9898" stop-color="#6e6e6e"/><stop offset=".9898" stop-color="#787878"/><stop offset="1" stop-color="#787878"/></linearGradient><clipPath id="cp2"><rect x="556.5" y="80.5" width="177" height="640"/></clipPath><linearGradient id="p3L" x2="0" y2="1"><stop offset=".0008" stop-color="#282828"/><stop offset=".0477" stop-color="#282828"/><stop offset=".0477" stop-color="#636363"/><stop offset=".0492" stop-color="#636363"/><stop offset=".0492" stop-color="#282828"/><stop offset=".0773" stop-color="#282828"/><stop offset=".0773" stop-color="#303030"/><stop offset=".0836" stop-color="#303030"/><stop offset=".0836" stop-color="#282828"/><stop offset=".1023" stop-color="#282828"/><stop offset=".1023" stop-color="#262626"/><stop offset=".1445" stop-color="#262626"/><stop offset=".1445" stop-color="#2b2b2b"/><stop offset=".1836" stop-color="#2b2b2b"/><stop offset=".1836" stop-color="#282828"/><stop offset=".2523" stop-color="#282828"/><stop offset=".2523" stop-color="#303030"/><stop offset=".3086" stop-color="#303030"/><stop offset=".3086" stop-color="#232323"/><stop offset=".3508" stop-color="#232323"/><stop offset=".3508" stop-color="#303030"/><stop offset=".3648" stop-color="#303030"/><stop offset=".3648" stop-color="#4c4c4c"/><stop offset=".3758" stop-color="#4c4c4c"/><stop offset=".3758" stop-color="#303030"/><stop offset=".3992" stop-color="#303030"/><stop offset=".3992" stop-color="#9e9e9e"/><stop offset=".4039" stop-color="#9e9e9e"/><stop offset=".4039" stop-color="#494949"/><stop offset=".4086" stop-color="#494949"/><stop offset=".4086" stop-color="#2b2b2b"/><stop offset=".432" stop-color="#2b2b2b"/><stop offset=".432" stop-color="#494949"/><stop offset=".4445" stop-color="#494949"/><stop offset=".4445" stop-color="#353535"/><stop offset=".4633" stop-color="#353535"/><stop offset=".4633" stop-color="#303030"/><stop offset=".4773" stop-color="#303030"/><stop offset=".4773" stop-color="#494949"/><stop offset=".482" stop-color="#494949"/><stop offset=".482" stop-color="#232323"/><stop offset=".5133" stop-color="#232323"/><stop offset=".5133" stop-color="#2b2b2b"/><stop offset=".5602" stop-color="#2b2b2b"/><stop offset=".5602" stop-color="#8c8c8c"/><stop offset=".5617" stop-color="#8c8c8c"/><stop offset=".5617" stop-color="#2b2b2b"/><stop offset=".6148" stop-color="#2b2b2b"/><stop offset=".6148" stop-color="#303030"/><stop offset=".6414" stop-color="#303030"/><stop offset=".6414" stop-color="#2b2b2b"/><stop offset=".6711" stop-color="#2b2b2b"/><stop offset=".6711" stop-color="#232323"/><stop offset=".7195" stop-color="#232323"/><stop offset=".7195" stop-color="#282828"/><stop offset=".7289" stop-color="#282828"/><stop offset=".7289" stop-color="#2b2b2b"/><stop offset=".7461" stop-color="#2b2b2b"/><stop offset=".7461" stop-color="#383838"/><stop offset=".7789" stop-color="#383838"/><stop offset=".7789" stop-color="#232323"/><stop offset=".818" stop-color="#232323"/><stop offset=".818" stop-color="#262626"/><stop offset=".8305" stop-color="#262626"/><stop offset=".8305" stop-color="#3d3d3d"/><stop offset=".8336" stop-color="#3d3d3d"/><stop offset=".8336" stop-color="#262626"/><stop offset=".8617" stop-color="#262626"/><stop offset=".8617" stop-color="#232323"/><stop offset=".8977" stop-color="#232323"/><stop offset=".8977" stop-color="#282828"/><stop offset=".9102" stop-color="#282828"/><stop offset=".9102" stop-color="#2b2b2b"/><stop offset=".9273" stop-color="#2b2b2b"/><stop offset=".9273" stop-color="#282828"/><stop offset=".9805" stop-color="#282828"/><stop offset=".9805" stop-color="#353535"/><stop offset=".9898" stop-color="#353535"/><stop offset=".9898" stop-color="#303030"/><stop offset="1" stop-color="#303030"/></linearGradient><linearGradient id="p3b0" x2="0" y2="1"><stop offset=".0008" stop-color="#a6a6a6"/><stop offset=".0242" stop-color="#a6a6a6"/><stop offset=".0242" stop-color="#a1a1a1"/><stop offset=".0477" stop-color="#a1a1a1"/><stop offset=".0477" stop-color="#616161"/><stop offset=".0492" stop-color="#616161"/><stop offset=".0492" stop-color="#a1a1a1"/><stop offset=".0773" stop-color="#a1a1a1"/><stop offset=".0773" stop-color="#9c9c9c"/><stop offset=".0836" stop-color="#9c9c9c"/><stop offset=".0836" stop-color="#a1a1a1"/><stop offset=".1023" stop-color="#a1a1a1"/><stop offset=".1023" stop-color="#b0b0b0"/><stop offset=".1836" stop-color="#b0b0b0"/><stop offset=".1836" stop-color="#ababab"/><stop offset=".2102" stop-color="#ababab"/><stop offset=".2102" stop-color="#a6a6a6"/><stop offset=".2773" stop-color="#a6a6a6"/><stop offset=".2773" stop-color="#b0b0b0"/><stop offset=".3086" stop-color="#b0b0b0"/><stop offset=".3086" stop-color="#a1a1a1"/><stop offset=".3508" stop-color="#a1a1a1"/><stop offset=".3508" stop-color="#b0b0b0"/><stop offset=".3648" stop-color="#b0b0b0"/><stop offset=".3648" stop-color="#999999"/><stop offset=".3758" stop-color="#999999"/><stop offset=".3758" stop-color="#b0b0b0"/><stop offset=".3992" stop-color="#b0b0b0"/><stop offset=".3992" stop-color="#e0e0e0"/><stop offset=".4086" stop-color="#e0e0e0"/><stop offset=".4086" stop-color="#ffffff"/><stop offset=".4242" stop-color="#ffffff"/><stop offset=".4242" stop-color="#ededed"/><stop offset=".432" stop-color="#ededed"/><stop offset=".432" stop-color="#bfbfbf"/><stop offset=".4445" stop-color="#bfbfbf"/><stop offset=".4445" stop-color="#d4d4d4"/><stop offset=".4508" stop-color="#d4d4d4"/><stop offset=".4508" stop-color="#b5b5b5"/><stop offset=".4633" stop-color="#b5b5b5"/><stop offset=".4633" stop-color="#a6a6a6"/><stop offset=".4711" stop-color="#a6a6a6"/><stop offset=".4711" stop-color="#949494"/><stop offset=".482" stop-color="#949494"/><stop offset=".482" stop-color="#bfbfbf"/><stop offset=".5133" stop-color="#bfbfbf"/><stop offset=".5133" stop-color="#a1a1a1"/><stop offset=".532" stop-color="#a1a1a1"/><stop offset=".532" stop-color="#b0b0b0"/><stop offset=".5414" stop-color="#b0b0b0"/><stop offset=".5414" stop-color="#d4d4d4"/><stop offset=".5602" stop-color="#d4d4d4"/><stop offset=".5602" stop-color="#ededed"/><stop offset=".5617" stop-color="#ededed"/><stop offset=".5617" stop-color="#e8e8e8"/><stop offset=".5773" stop-color="#e8e8e8"/><stop offset=".5773" stop-color="#fafafa"/><stop offset=".5867" stop-color="#fafafa"/><stop offset=".5867" stop-color="#d4d4d4"/><stop offset=".5961" stop-color="#d4d4d4"/><stop offset=".5961" stop-color="#ededed"/><stop offset=".6055" stop-color="#ededed"/><stop offset=".6055" stop-color="#d4d4d4"/><stop offset=".6148" stop-color="#d4d4d4"/><stop offset=".6148" stop-color="#b0b0b0"/><stop offset=".6414" stop-color="#b0b0b0"/><stop offset=".6414" stop-color="#949494"/><stop offset=".6492" stop-color="#949494"/><stop offset=".6492" stop-color="#b0b0b0"/><stop offset=".6602" stop-color="#b0b0b0"/><stop offset=".6602" stop-color="#c4c4c4"/><stop offset=".6711" stop-color="#c4c4c4"/><stop offset=".6711" stop-color="#a1a1a1"/><stop offset=".7289" stop-color="#a1a1a1"/><stop offset=".7289" stop-color="#b5b5b5"/><stop offset=".7461" stop-color="#b5b5b5"/><stop offset=".7461" stop-color="#c4c4c4"/><stop offset=".7789" stop-color="#c4c4c4"/><stop offset=".7789" stop-color="#ababab"/><stop offset=".8117" stop-color="#ababab"/><stop offset=".8117" stop-color="#a6a6a6"/><stop offset=".818" stop-color="#a6a6a6"/><stop offset=".818" stop-color="#ababab"/><stop offset=".8305" stop-color="#ababab"/><stop offset=".8305" stop-color="#949494"/><stop offset=".8336" stop-color="#949494"/><stop offset=".8336" stop-color="#ababab"/><stop offset=".8617" stop-color="#ababab"/><stop offset=".8617" stop-color="#b0b0b0"/><stop offset=".8836" stop-color="#b0b0b0"/><stop offset=".8836" stop-color="#a6a6a6"/><stop offset=".8977" stop-color="#a6a6a6"/><stop offset=".8977" stop-color="#878787"/><stop offset=".9102" stop-color="#878787"/><stop offset=".9102" stop-color="#a1a1a1"/><stop offset=".9273" stop-color="#a1a1a1"/><stop offset=".9273" stop-color="#a6a6a6"/><stop offset=".9383" stop-color="#a6a6a6"/><stop offset=".9383" stop-color="#949494"/><stop offset=".9508" stop-color="#949494"/><stop offset=".9508" stop-color="#b0b0b0"/><stop offset=".9805" stop-color="#b0b0b0"/><stop offset=".9805" stop-color="#8c8c8c"/><stop offset=".9898" stop-color="#8c8c8c"/><stop offset=".9898" stop-color="#a1a1a1"/><stop offset="1" stop-color="#a1a1a1"/></linearGradient><linearGradient id="p3b1" x2="0" y2="1"><stop offset=".0008" stop-color="#a6a6a6"/><stop offset=".0477" stop-color="#a6a6a6"/><stop offset=".0477" stop-color="#616161"/><stop offset=".0492" stop-color="#616161"/><stop offset=".0492" stop-color="#a6a6a6"/><stop offset=".0773" stop-color="#a6a6a6"/><stop offset=".0773" stop-color="#9c9c9c"/><stop offset=".1023" stop-color="#9c9c9c"/><stop offset=".1023" stop-color="#999999"/><stop offset=".1445" stop-color="#999999"/><stop offset=".1445" stop-color="#a6a6a6"/><stop offset=".2102" stop-color="#a6a6a6"/><stop offset=".2102" stop-color="#a1a1a1"/><stop offset=".2258" stop-color="#a1a1a1"/><stop offset=".2258" stop-color="#9c9c9c"/><stop offset=".2773" stop-color="#9c9c9c"/><stop offset=".2773" stop-color="#8c8c8c"/><stop offset=".3508" stop-color="#8c8c8c"/><stop offset=".3508" stop-color="#999999"/><stop offset=".3648" stop-color="#999999"/><stop offset=".3648" stop-color="#949494"/><stop offset=".3992" stop-color="#949494"/><stop offset=".3992" stop-color="#e0e0e0"/><stop offset=".4086" stop-color="#e0e0e0"/><stop offset=".4086" stop-color="#ffffff"/><stop offset=".4242" stop-color="#ffffff"/><stop offset=".4242" stop-color="#ededed"/><stop offset=".432" stop-color="#ededed"/><stop offset=".432" stop-color="#bfbfbf"/><stop offset=".4445" stop-color="#bfbfbf"/><stop offset=".4445" stop-color="#d4d4d4"/><stop offset=".4508" stop-color="#d4d4d4"/><stop offset=".4508" stop-color="#b0b0b0"/><stop offset=".4633" stop-color="#b0b0b0"/><stop offset=".4633" stop-color="#a1a1a1"/><stop offset=".4711" stop-color="#a1a1a1"/><stop offset=".4711" stop-color="#949494"/><stop offset=".482" stop-color="#949494"/><stop offset=".482" stop-color="#bfbfbf"/><stop offset=".5133" stop-color="#bfbfbf"/><stop offset=".5133" stop-color="#a6a6a6"/><stop offset=".532" stop-color="#a6a6a6"/><stop offset=".532" stop-color="#b0b0b0"/><stop offset=".5414" stop-color="#b0b0b0"/><stop offset=".5414" stop-color="#d4d4d4"/><stop offset=".5602" stop-color="#d4d4d4"/><stop offset=".5602" stop-color="#ededed"/><stop offset=".5617" stop-color="#ededed"/><stop offset=".5617" stop-color="#e3e3e3"/><stop offset=".5727" stop-color="#e3e3e3"/><stop offset=".5727" stop-color="#e8e8e8"/><stop offset=".5773" stop-color="#e8e8e8"/><stop offset=".5773" stop-color="#f5f5f5"/><stop offset=".5867" stop-color="#f5f5f5"/><stop offset=".5867" stop-color="#d4d4d4"/><stop offset=".5961" stop-color="#d4d4d4"/><stop offset=".5961" stop-color="#e8e8e8"/><stop offset=".6055" stop-color="#e8e8e8"/><stop offset=".6055" stop-color="#d4d4d4"/><stop offset=".6148" stop-color="#d4d4d4"/><stop offset=".6148" stop-color="#a6a6a6"/><stop offset=".6414" stop-color="#a6a6a6"/><stop offset=".6414" stop-color="#949494"/><stop offset=".6492" stop-color="#949494"/><stop offset=".6492" stop-color="#ababab"/><stop offset=".6602" stop-color="#ababab"/><stop offset=".6602" stop-color="#c4c4c4"/><stop offset=".6711" stop-color="#c4c4c4"/><stop offset=".6711" stop-color="#949494"/><stop offset=".6836" stop-color="#949494"/><stop offset=".6836" stop-color="#999999"/><stop offset=".6992" stop-color="#999999"/><stop offset=".6992" stop-color="#949494"/><stop offset=".7289" stop-color="#949494"/><stop offset=".7289" stop-color="#a1a1a1"/><stop offset=".7461" stop-color="#a1a1a1"/><stop offset=".7461" stop-color="#bfbfbf"/><stop offset=".7789" stop-color="#bfbfbf"/><stop offset=".7789" stop-color="#9c9c9c"/><stop offset=".8117" stop-color="#9c9c9c"/><stop offset=".8117" stop-color="#a6a6a6"/><stop offset=".8305" stop-color="#a6a6a6"/><stop offset=".8305" stop-color="#949494"/><stop offset=".8336" stop-color="#949494"/><stop offset=".8336" stop-color="#a1a1a1"/><stop offset=".8617" stop-color="#a1a1a1"/><stop offset=".8617" stop-color="#a6a6a6"/><stop offset=".8836" stop-color="#a6a6a6"/><stop offset=".8836" stop-color="#9c9c9c"/><stop offset=".8977" stop-color="#9c9c9c"/><stop offset=".8977" stop-color="#878787"/><stop offset=".9102" stop-color="#878787"/><stop offset=".9102" stop-color="#949494"/><stop offset=".9273" stop-color="#949494"/><stop offset=".9273" stop-color="#999999"/><stop offset=".9383" stop-color="#999999"/><stop offset=".9383" stop-color="#949494"/><stop offset=".9508" stop-color="#949494"/><stop offset=".9508" stop-color="#a6a6a6"/><stop offset=".9805" stop-color="#a6a6a6"/><stop offset=".9805" stop-color="#8c8c8c"/><stop offset=".9898" stop-color="#8c8c8c"/><stop offset=".9898" stop-color="#999999"/><stop offset="1" stop-color="#999999"/></linearGradient><linearGradient id="p3b2" x2="0" y2="1"><stop offset=".0008" stop-color="#949494"/><stop offset=".0477" stop-color="#949494"/><stop offset=".0477" stop-color="#595959"/><stop offset=".0492" stop-color="#595959"/><stop offset=".0492" stop-color="#949494"/><stop offset=".0836" stop-color="#949494"/><stop offset=".0836" stop-color="#a1a1a1"/><stop offset=".1023" stop-color="#a1a1a1"/><stop offset=".1023" stop-color="#a6a6a6"/><stop offset=".1445" stop-color="#a6a6a6"/><stop offset=".1445" stop-color="#9c9c9c"/><stop offset=".1836" stop-color="#9c9c9c"/><stop offset=".1836" stop-color="#b0b0b0"/><stop offset=".2102" stop-color="#b0b0b0"/><stop offset=".2102" stop-color="#a1a1a1"/><stop offset=".2258" stop-color="#a1a1a1"/><stop offset=".2258" stop-color="#999999"/><stop offset=".2523" stop-color="#999999"/><stop offset=".2523" stop-color="#949494"/><stop offset=".2773" stop-color="#949494"/><stop offset=".2773" stop-color="#8c8c8c"/><stop offset=".3086" stop-color="#8c8c8c"/><stop offset=".3086" stop-color="#878787"/><stop offset=".3508" stop-color="#878787"/><stop offset=".3508" stop-color="#949494"/><stop offset=".3648" stop-color="#949494"/><stop offset=".3648" stop-color="#8c8c8c"/><stop offset=".3992" stop-color="#8c8c8c"/><stop offset=".3992" stop-color="#e0e0e0"/><stop offset=".4086" stop-color="#e0e0e0"/><stop offset=".4086" stop-color="#ffffff"/><stop offset=".4242" stop-color="#ffffff"/><stop offset=".4242" stop-color="#ededed"/><stop offset=".432" stop-color="#ededed"/><stop offset=".432" stop-color="#b0b0b0"/><stop offset=".4445" stop-color="#b0b0b0"/><stop offset=".4445" stop-color="#cfcfcf"/><stop offset=".4508" stop-color="#cfcfcf"/><stop offset=".4508" stop-color="#bababa"/><stop offset=".4633" stop-color="#bababa"/><stop offset=".4633" stop-color="#9c9c9c"/><stop offset=".4711" stop-color="#9c9c9c"/><stop offset=".4711" stop-color="#8c8c8c"/><stop offset=".482" stop-color="#8c8c8c"/><stop offset=".482" stop-color="#a6a6a6"/><stop offset=".5133" stop-color="#a6a6a6"/><stop offset=".5133" stop-color="#999999"/><stop offset=".532" stop-color="#999999"/><stop offset=".532" stop-color="#ababab"/><stop offset=".5414" stop-color="#ababab"/><stop offset=".5414" stop-color="#cfcfcf"/><stop offset=".5602" stop-color="#cfcfcf"/><stop offset=".5602" stop-color="#ededed"/><stop offset=".5617" stop-color="#ededed"/><stop offset=".5617" stop-color="#e3e3e3"/><stop offset=".5727" stop-color="#e3e3e3"/><stop offset=".5727" stop-color="#e8e8e8"/><stop offset=".5773" stop-color="#e8e8e8"/><stop offset=".5773" stop-color="#ededed"/><stop offset=".5867" stop-color="#ededed"/><stop offset=".5867" stop-color="#d4d4d4"/><stop offset=".5961" stop-color="#d4d4d4"/><stop offset=".5961" stop-color="#dedede"/><stop offset=".6055" stop-color="#dedede"/><stop offset=".6055" stop-color="#d4d4d4"/><stop offset=".6148" stop-color="#d4d4d4"/><stop offset=".6148" stop-color="#a6a6a6"/><stop offset=".6414" stop-color="#a6a6a6"/><stop offset=".6414" stop-color="#949494"/><stop offset=".6492" stop-color="#949494"/><stop offset=".6492" stop-color="#a6a6a6"/><stop offset=".6711" stop-color="#a6a6a6"/><stop offset=".6711" stop-color="#9c9c9c"/><stop offset=".6836" stop-color="#9c9c9c"/><stop offset=".6836" stop-color="#949494"/><stop offset=".6992" stop-color="#949494"/><stop offset=".6992" stop-color="#878787"/><stop offset=".7195" stop-color="#878787"/><stop offset=".7195" stop-color="#8c8c8c"/><stop offset=".7289" stop-color="#8c8c8c"/><stop offset=".7289" stop-color="#9c9c9c"/><stop offset=".7461" stop-color="#9c9c9c"/><stop offset=".7461" stop-color="#ababab"/><stop offset=".7789" stop-color="#ababab"/><stop offset=".7789" stop-color="#949494"/><stop offset=".8117" stop-color="#949494"/><stop offset=".8117" stop-color="#a1a1a1"/><stop offset=".818" stop-color="#a1a1a1"/><stop offset=".818" stop-color="#a6a6a6"/><stop offset=".8305" stop-color="#a6a6a6"/><stop offset=".8305" stop-color="#8c8c8c"/><stop offset=".8336" stop-color="#8c8c8c"/><stop offset=".8336" stop-color="#999999"/><stop offset=".8617" stop-color="#999999"/><stop offset=".8617" stop-color="#949494"/><stop offset=".8977" stop-color="#949494"/><stop offset=".8977" stop-color="#878787"/><stop offset=".9102" stop-color="#878787"/><stop offset=".9102" stop-color="#999999"/><stop offset=".9273" stop-color="#999999"/><stop offset=".9273" stop-color="#8c8c8c"/><stop offset=".9805" stop-color="#8c8c8c"/><stop offset=".9805" stop-color="#878787"/><stop offset=".9898" stop-color="#878787"/><stop offset=".9898" stop-color="#8c8c8c"/><stop offset="1" stop-color="#8c8c8c"/></linearGradient><linearGradient id="p3b3" x2="0" y2="1"><stop offset=".0008" stop-color="#a1a1a1"/><stop offset=".0242" stop-color="#a1a1a1"/><stop offset=".0242" stop-color="#999999"/><stop offset=".0477" stop-color="#999999"/><stop offset=".0477" stop-color="#595959"/><stop offset=".0492" stop-color="#595959"/><stop offset=".0492" stop-color="#999999"/><stop offset=".0773" stop-color="#999999"/><stop offset=".0773" stop-color="#949494"/><stop offset=".0836" stop-color="#949494"/><stop offset=".0836" stop-color="#999999"/><stop offset=".1023" stop-color="#999999"/><stop offset=".1023" stop-color="#949494"/><stop offset=".1836" stop-color="#949494"/><stop offset=".1836" stop-color="#999999"/><stop offset=".2258" stop-color="#999999"/><stop offset=".2258" stop-color="#949494"/><stop offset=".2773" stop-color="#949494"/><stop offset=".2773" stop-color="#8c8c8c"/><stop offset=".3508" stop-color="#8c8c8c"/><stop offset=".3508" stop-color="#949494"/><stop offset=".3758" stop-color="#949494"/><stop offset=".3758" stop-color="#999999"/><stop offset=".3992" stop-color="#999999"/><stop offset=".3992" stop-color="#e0e0e0"/><stop offset=".4086" stop-color="#e0e0e0"/><stop offset=".4086" stop-color="#ffffff"/><stop offset=".4242" stop-color="#ffffff"/><stop offset=".4242" stop-color="#ededed"/><stop offset=".432" stop-color="#ededed"/><stop offset=".432" stop-color="#ababab"/><stop offset=".4445" stop-color="#ababab"/><stop offset=".4445" stop-color="#c4c4c4"/><stop offset=".4508" stop-color="#c4c4c4"/><stop offset=".4508" stop-color="#b0b0b0"/><stop offset=".4633" stop-color="#b0b0b0"/><stop offset=".4633" stop-color="#9c9c9c"/><stop offset=".4711" stop-color="#9c9c9c"/><stop offset=".4711" stop-color="#8c8c8c"/><stop offset=".482" stop-color="#8c8c8c"/><stop offset=".482" stop-color="#a1a1a1"/><stop offset=".532" stop-color="#a1a1a1"/><stop offset=".532" stop-color="#ababab"/><stop offset=".5414" stop-color="#ababab"/><stop offset=".5414" stop-color="#cfcfcf"/><stop offset=".5602" stop-color="#cfcfcf"/><stop offset=".5602" stop-color="#ededed"/><stop offset=".5617" stop-color="#ededed"/><stop offset=".5617" stop-color="#e3e3e3"/><stop offset=".5727" stop-color="#e3e3e3"/><stop offset=".5727" stop-color="#e8e8e8"/><stop offset=".5867" stop-color="#e8e8e8"/><stop offset=".5867" stop-color="#d4d4d4"/><stop offset=".5961" stop-color="#d4d4d4"/><stop offset=".5961" stop-color="#d9d9d9"/><stop offset=".6055" stop-color="#d9d9d9"/><stop offset=".6055" stop-color="#cfcfcf"/><stop offset=".6148" stop-color="#cfcfcf"/><stop offset=".6148" stop-color="#b0b0b0"/><stop offset=".6414" stop-color="#b0b0b0"/><stop offset=".6414" stop-color="#949494"/><stop offset=".6492" stop-color="#949494"/><stop offset=".6492" stop-color="#9c9c9c"/><stop offset=".6711" stop-color="#9c9c9c"/><stop offset=".6711" stop-color="#949494"/><stop offset=".6992" stop-color="#949494"/><stop offset=".6992" stop-color="#8c8c8c"/><stop offset=".7195" stop-color="#8c8c8c"/><stop offset=".7195" stop-color="#949494"/><stop offset=".7461" stop-color="#949494"/><stop offset=".7461" stop-color="#a6a6a6"/><stop offset=".7789" stop-color="#a6a6a6"/><stop offset=".7789" stop-color="#949494"/><stop offset=".8117" stop-color="#949494"/><stop offset=".8117" stop-color="#9c9c9c"/><stop offset=".8305" stop-color="#9c9c9c"/><stop offset=".8305" stop-color="#8c8c8c"/><stop offset=".8336" stop-color="#8c8c8c"/><stop offset=".8336" stop-color="#949494"/><stop offset=".8977" stop-color="#949494"/><stop offset=".8977" stop-color="#878787"/><stop offset=".9102" stop-color="#878787"/><stop offset=".9102" stop-color="#8c8c8c"/><stop offset=".9508" stop-color="#8c8c8c"/><stop offset=".9508" stop-color="#999999"/><stop offset=".9805" stop-color="#999999"/><stop offset=".9805" stop-color="#878787"/><stop offset=".9898" stop-color="#878787"/><stop offset=".9898" stop-color="#a1a1a1"/><stop offset="1" stop-color="#a1a1a1"/></linearGradient><linearGradient id="p3s" x2="0" y2="1"><stop offset=".0008" stop-color="#002bff"/><stop offset=".0242" stop-color="#002bff"/><stop offset=".0242" stop-color="#001fff"/><stop offset=".0477" stop-color="#001fff"/><stop offset=".0477" stop-color="#0055ff"/><stop offset=".0492" stop-color="#0055ff"/><stop offset=".0492" stop-color="#001fff"/><stop offset=".0773" stop-color="#001fff"/><stop offset=".0773" stop-color="#000dff"/><stop offset=".0836" stop-color="#000dff"/><stop offset=".0836" stop-color="#0021ff"/><stop offset=".1023" stop-color="#0021ff"/><stop offset=".1023" stop-color="#002eff"/><stop offset=".1445" stop-color="#002eff"/><stop offset=".1445" stop-color="#0030ff"/><stop offset=".1836" stop-color="#0030ff"/><stop offset=".1836" stop-color="#0045ff"/><stop offset=".2102" stop-color="#0045ff"/><stop offset=".2102" stop-color="#002bff"/><stop offset=".2258" stop-color="#002bff"/><stop offset=".2258" stop-color="#001aff"/><stop offset=".2523" stop-color="#001aff"/><stop offset=".2523" stop-color="#0022ff"/><stop offset=".2773" stop-color="#0022ff"/><stop offset=".2773" stop-color="#000dff"/><stop offset=".3086" stop-color="#000dff"/><stop offset=".3086" stop-color="#0000fd"/><stop offset=".3508" stop-color="#0000fd"/><stop offset=".3508" stop-color="#001cff"/><stop offset=".3648" stop-color="#001cff"/><stop offset=".3648" stop-color="#0040ff"/><stop offset=".3758" stop-color="#0040ff"/><stop offset=".3758" stop-color="#0022ff"/><stop offset=".3992" stop-color="#0022ff"/><stop offset=".3992" stop-color="#c4ff33"/><stop offset=".4039" stop-color="#c4ff33"/><stop offset=".4039" stop-color="#a1ff56"/><stop offset=".4086" stop-color="#a1ff56"/><stop offset=".4086" stop-color="#ffd000"/><stop offset=".4242" stop-color="#ffd000"/><stop offset=".4242" stop-color="#d6ff21"/><stop offset=".432" stop-color="#d6ff21"/><stop offset=".432" stop-color="#00a6ff"/><stop offset=".4445" stop-color="#00a6ff"/><stop offset=".4445" stop-color="#3fffb7"/><stop offset=".4508" stop-color="#3fffb7"/><stop offset=".4508" stop-color="#007eff"/><stop offset=".4633" stop-color="#007eff"/><stop offset=".4633" stop-color="#0029ff"/><stop offset=".4711" stop-color="#0029ff"/><stop offset=".4711" stop-color="#0022ff"/><stop offset=".4773" stop-color="#0022ff"/><stop offset=".4773" stop-color="#0055ff"/><stop offset=".482" stop-color="#0055ff"/><stop offset=".482" stop-color="#0070ff"/><stop offset=".5133" stop-color="#0070ff"/><stop offset=".5133" stop-color="#002bff"/><stop offset=".532" stop-color="#002bff"/><stop offset=".532" stop-color="#0061ff"/><stop offset=".5414" stop-color="#0061ff"/><stop offset=".5414" stop-color="#4dffa9"/><stop offset=".5602" stop-color="#4dffa9"/><stop offset=".5602" stop-color="#d6ff21"/><stop offset=".5617" stop-color="#d6ff21"/><stop offset=".5617" stop-color="#b6ff41"/><stop offset=".5727" stop-color="#b6ff41"/><stop offset=".5727" stop-color="#c5ff31"/><stop offset=".5773" stop-color="#c5ff31"/><stop offset=".5773" stop-color="#e2ff15"/><stop offset=".5867" stop-color="#e2ff15"/><stop offset=".5867" stop-color="#5bff9b"/><stop offset=".5961" stop-color="#5bff9b"/><stop offset=".5961" stop-color="#afff48"/><stop offset=".6055" stop-color="#afff48"/><stop offset=".6055" stop-color="#54ffa2"/><stop offset=".6148" stop-color="#54ffa2"/><stop offset=".6148" stop-color="#0057ff"/><stop offset=".6414" stop-color="#0057ff"/><stop offset=".6414" stop-color="#000dff"/><stop offset=".6492" stop-color="#000dff"/><stop offset=".6492" stop-color="#0047ff"/><stop offset=".6602" stop-color="#0047ff"/><stop offset=".6602" stop-color="#0075ff"/><stop offset=".6711" stop-color="#0075ff"/><stop offset=".6711" stop-color="#000fff"/><stop offset=".6836" stop-color="#000fff"/><stop offset=".6836" stop-color="#000dff"/><stop offset=".6992" stop-color="#000dff"/><stop offset=".6992" stop-color="#0000ff"/><stop offset=".7289" stop-color="#0000ff"/><stop offset=".7289" stop-color="#0030ff"/><stop offset=".7461" stop-color="#0030ff"/><stop offset=".7461" stop-color="#0087ff"/><stop offset=".7789" stop-color="#0087ff"/><stop offset=".7789" stop-color="#001aff"/><stop offset=".8117" stop-color="#001aff"/><stop offset=".8117" stop-color="#0033ff"/><stop offset=".818" stop-color="#0033ff"/><stop offset=".818" stop-color="#003dff"/><stop offset=".8305" stop-color="#003dff"/><stop offset=".8305" stop-color="#000dff"/><stop offset=".8336" stop-color="#000dff"/><stop offset=".8336" stop-color="#0024ff"/><stop offset=".8617" stop-color="#0024ff"/><stop offset=".8617" stop-color="#0029ff"/><stop offset=".8836" stop-color="#0029ff"/><stop offset=".8836" stop-color="#0014ff"/><stop offset=".8977" stop-color="#0014ff"/><stop offset=".8977" stop-color="#0000ff"/><stop offset=".9102" stop-color="#0000ff"/><stop offset=".9102" stop-color="#0005ff"/><stop offset=".9273" stop-color="#0005ff"/><stop offset=".9273" stop-color="#0003ff"/><stop offset=".9383" stop-color="#0003ff"/><stop offset=".9383" stop-color="#0000ff"/><stop offset=".9508" stop-color="#0000ff"/><stop offset=".9508" stop-color="#0026ff"/><stop offset=".9805" stop-color="#0026ff"/><stop offset=".9805" stop-color="#000dff"/><stop offset=".9898" stop-color="#000dff"/><stop offset=".9898" stop-color="#0012ff"/><stop offset="1" stop-color="#0012ff"/></linearGradient><linearGradient id="p3R" x2="0" y2="1"><stop offset=".0008" stop-color="#1e1e1e"/><stop offset=".0477" stop-color="#1e1e1e"/><stop offset=".0477" stop-color="#353535"/><stop offset=".0492" stop-color="#353535"/><stop offset=".0492" stop-color="#1e1e1e"/><stop offset=".0773" stop-color="#1e1e1e"/><stop offset=".0773" stop-color="#232323"/><stop offset=".0836" stop-color="#232323"/><stop offset=".0836" stop-color="#1e1e1e"/><stop offset=".1023" stop-color="#1e1e1e"/><stop offset=".1023" stop-color="#1c1c1c"/><stop offset=".1445" stop-color="#1c1c1c"/><stop offset=".1445" stop-color="#1e1e1e"/><stop offset=".2523" stop-color="#1e1e1e"/><stop offset=".2523" stop-color="#282828"/><stop offset=".2773" stop-color="#282828"/><stop offset=".2773" stop-color="#232323"/><stop offset=".3086" stop-color="#232323"/><stop offset=".3086" stop-color="#1c1c1c"/><stop offset=".3508" stop-color="#1c1c1c"/><stop offset=".3508" stop-color="#232323"/><stop offset=".3648" stop-color="#232323"/><stop offset=".3648" stop-color="#303030"/><stop offset=".3758" stop-color="#303030"/><stop offset=".3758" stop-color="#282828"/><stop offset=".3992" stop-color="#282828"/><stop offset=".3992" stop-color="#969696"/><stop offset=".4039" stop-color="#969696"/><stop offset=".4039" stop-color="#636363"/><stop offset=".4086" stop-color="#636363"/><stop offset=".4086" stop-color="#686868"/><stop offset=".4242" stop-color="#686868"/><stop offset=".4242" stop-color="#5e5e5e"/><stop offset=".432" stop-color="#5e5e5e"/><stop offset=".432" stop-color="#494949"/><stop offset=".4445" stop-color="#494949"/><stop offset=".4445" stop-color="#353535"/><stop offset=".4508" stop-color="#353535"/><stop offset=".4508" stop-color="#303030"/><stop offset=".4633" stop-color="#303030"/><stop offset=".4633" stop-color="#282828"/><stop offset=".4773" stop-color="#282828"/><stop offset=".4773" stop-color="#353535"/><stop offset=".482" stop-color="#353535"/><stop offset=".482" stop-color="#232323"/><stop offset=".5133" stop-color="#232323"/><stop offset=".5133" stop-color="#282828"/><stop offset=".5414" stop-color="#282828"/><stop offset=".5414" stop-color="#494949"/><stop offset=".5602" stop-color="#494949"/><stop offset=".5602" stop-color="#7c7c7c"/><stop offset=".5617" stop-color="#7c7c7c"/><stop offset=".5617" stop-color="#515151"/><stop offset=".5773" stop-color="#515151"/><stop offset=".5773" stop-color="#565656"/><stop offset=".5867" stop-color="#565656"/><stop offset=".5867" stop-color="#494949"/><stop offset=".6055" stop-color="#494949"/><stop offset=".6055" stop-color="#444444"/><stop offset=".6148" stop-color="#444444"/><stop offset=".6148" stop-color="#282828"/><stop offset=".6414" stop-color="#282828"/><stop offset=".6414" stop-color="#232323"/><stop offset=".6711" stop-color="#232323"/><stop offset=".6711" stop-color="#1c1c1c"/><stop offset=".6836" stop-color="#1c1c1c"/><stop offset=".6836" stop-color="#161616"/><stop offset=".6992" stop-color="#161616"/><stop offset=".6992" stop-color="#1c1c1c"/><stop offset=".7289" stop-color="#1c1c1c"/><stop offset=".7289" stop-color="#232323"/><stop offset=".7461" stop-color="#232323"/><stop offset=".7461" stop-color="#282828"/><stop offset=".7789" stop-color="#282828"/><stop offset=".7789" stop-color="#1c1c1c"/><stop offset=".8305" stop-color="#1c1c1c"/><stop offset=".8305" stop-color="#232323"/><stop offset=".8336" stop-color="#232323"/><stop offset=".8336" stop-color="#1c1c1c"/><stop offset=".8977" stop-color="#1c1c1c"/><stop offset=".8977" stop-color="#1e1e1e"/><stop offset=".9508" stop-color="#1e1e1e"/><stop offset=".9508" stop-color="#1c1c1c"/><stop offset=".9805" stop-color="#1c1c1c"/><stop offset=".9805" stop-color="#232323"/><stop offset=".9898" stop-color="#232323"/><stop offset=".9898" stop-color="#1e1e1e"/><stop offset="1" stop-color="#1e1e1e"/></linearGradient><linearGradient id="p3e" x2="0" y2="1"><stop offset=".0008" stop-color="#6e6e6e"/><stop offset=".0242" stop-color="#6e6e6e"/><stop offset=".0242" stop-color="#696969"/><stop offset=".0477" stop-color="#696969"/><stop offset=".0477" stop-color="#4c4c4c"/><stop offset=".0492" stop-color="#4c4c4c"/><stop offset=".0492" stop-color="#696969"/><stop offset=".0773" stop-color="#696969"/><stop offset=".0773" stop-color="#686868"/><stop offset=".0836" stop-color="#686868"/><stop offset=".0836" stop-color="#696969"/><stop offset=".1023" stop-color="#696969"/><stop offset=".1023" stop-color="#656565"/><stop offset=".1445" stop-color="#656565"/><stop offset=".1445" stop-color="#666666"/><stop offset=".1836" stop-color="#666666"/><stop offset=".1836" stop-color="#696969"/><stop offset=".2258" stop-color="#696969"/><stop offset=".2258" stop-color="#666666"/><stop offset=".2523" stop-color="#666666"/><stop offset=".2523" stop-color="#6a6a6a"/><stop offset=".2773" stop-color="#6a6a6a"/><stop offset=".2773" stop-color="#636363"/><stop offset=".3086" stop-color="#636363"/><stop offset=".3086" stop-color="#606060"/><stop offset=".3508" stop-color="#606060"/><stop offset=".3508" stop-color="#686868"/><stop offset=".3648" stop-color="#686868"/><stop offset=".3648" stop-color="#6d6d6d"/><stop offset=".3992" stop-color="#6d6d6d"/><stop offset=".3992" stop-color="#c4c4c4"/><stop offset=".4039" stop-color="#c4c4c4"/><stop offset=".4039" stop-color="#afafaf"/><stop offset=".4086" stop-color="#afafaf"/><stop offset=".4086" stop-color="#c5c5c5"/><stop offset=".4242" stop-color="#c5c5c5"/><stop offset=".4242" stop-color="#b5b5b5"/><stop offset=".432" stop-color="#b5b5b5"/><stop offset=".432" stop-color="#858585"/><stop offset=".4445" stop-color="#858585"/><stop offset=".4445" stop-color="#8c8c8c"/><stop offset=".4508" stop-color="#8c8c8c"/><stop offset=".4508" stop-color="#7e7e7e"/><stop offset=".4633" stop-color="#7e7e7e"/><stop offset=".4633" stop-color="#6f6f6f"/><stop offset=".4711" stop-color="#6f6f6f"/><stop offset=".4711" stop-color="#656565"/><stop offset=".4773" stop-color="#656565"/><stop offset=".4773" stop-color="#6b6b6b"/><stop offset=".482" stop-color="#6b6b6b"/><stop offset=".482" stop-color="#707070"/><stop offset=".5133" stop-color="#707070"/><stop offset=".5133" stop-color="#727272"/><stop offset=".532" stop-color="#727272"/><stop offset=".532" stop-color="#787878"/><stop offset=".5414" stop-color="#787878"/><stop offset=".5414" stop-color="#9b9b9b"/><stop offset=".5602" stop-color="#9b9b9b"/><stop offset=".5602" stop-color="#c1c1c1"/><stop offset=".5617" stop-color="#c1c1c1"/><stop offset=".5617" stop-color="#aaaaaa"/><stop offset=".5727" stop-color="#aaaaaa"/><stop offset=".5727" stop-color="#adadad"/><stop offset=".5773" stop-color="#adadad"/><stop offset=".5773" stop-color="#afafaf"/><stop offset=".5867" stop-color="#afafaf"/><stop offset=".5867" stop-color="#9e9e9e"/><stop offset=".5961" stop-color="#9e9e9e"/><stop offset=".5961" stop-color="#a1a1a1"/><stop offset=".6055" stop-color="#a1a1a1"/><stop offset=".6055" stop-color="#989898"/><stop offset=".6148" stop-color="#989898"/><stop offset=".6148" stop-color="#7b7b7b"/><stop offset=".6414" stop-color="#7b7b7b"/><stop offset=".6414" stop-color="#686868"/><stop offset=".6492" stop-color="#686868"/><stop offset=".6492" stop-color="#6d6d6d"/><stop offset=".6711" stop-color="#6d6d6d"/><stop offset=".6711" stop-color="#656565"/><stop offset=".6836" stop-color="#656565"/><stop offset=".6836" stop-color="#636363"/><stop offset=".6992" stop-color="#636363"/><stop offset=".6992" stop-color="#606060"/><stop offset=".7195" stop-color="#606060"/><stop offset=".7195" stop-color="#656565"/><stop offset=".7289" stop-color="#656565"/><stop offset=".7289" stop-color="#686868"/><stop offset=".7461" stop-color="#686868"/><stop offset=".7461" stop-color="#757575"/><stop offset=".7789" stop-color="#757575"/><stop offset=".7789" stop-color="#656565"/><stop offset=".8117" stop-color="#656565"/><stop offset=".8117" stop-color="#6a6a6a"/><stop offset=".8305" stop-color="#6a6a6a"/><stop offset=".8305" stop-color="#636363"/><stop offset=".8336" stop-color="#636363"/><stop offset=".8336" stop-color="#656565"/><stop offset=".8977" stop-color="#656565"/><stop offset=".8977" stop-color="#5e5e5e"/><stop offset=".9102" stop-color="#5e5e5e"/><stop offset=".9102" stop-color="#616161"/><stop offset=".9508" stop-color="#616161"/><stop offset=".9508" stop-color="#686868"/><stop offset=".9805" stop-color="#686868"/><stop offset=".9805" stop-color="#606060"/><stop offset=".9898" stop-color="#606060"/><stop offset=".9898" stop-color="#6e6e6e"/><stop offset="1" stop-color="#6e6e6e"/></linearGradient><clipPath id="cp3"><rect x="768.5" y="80.5" width="177" height="640"/></clipPath><linearGradient id="cb" x1="0" y1="1" x2="0" y2="0"><stop offset="0.0000" stop-color="#000080"/><stop offset="0.0250" stop-color="#00009c"/><stop offset="0.0500" stop-color="#0000b9"/><stop offset="0.0750" stop-color="#0000d6"/><stop offset="0.1000" stop-color="#0000f3"/><stop offset="0.1250" stop-color="#0000ff"/><stop offset="0.1500" stop-color="#0019ff"/><stop offset="0.1750" stop-color="#0033ff"/><stop offset="0.2000" stop-color="#004dff"/><stop offset="0.2250" stop-color="#0066ff"/><stop offset="0.2500" stop-color="#0080ff"/><stop offset="0.2750" stop-color="#0099ff"/><stop offset="0.3000" stop-color="#00b2ff"/><stop offset="0.3250" stop-color="#00ccff"/><stop offset="0.3500" stop-color="#00e5f7"/><stop offset="0.3750" stop-color="#15ffe2"/><stop offset="0.4000" stop-color="#29ffce"/><stop offset="0.4250" stop-color="#3effb9"/><stop offset="0.4500" stop-color="#52ffa5"/><stop offset="0.4750" stop-color="#67ff90"/><stop offset="0.5000" stop-color="#7bff7b"/><stop offset="0.5250" stop-color="#90ff67"/><stop offset="0.5500" stop-color="#a5ff52"/><stop offset="0.5750" stop-color="#b9ff3e"/><stop offset="0.6000" stop-color="#ceff29"/><stop offset="0.6250" stop-color="#e2ff15"/><stop offset="0.6500" stop-color="#f7f600"/><stop offset="0.6750" stop-color="#ffde00"/><stop offset="0.7000" stop-color="#ffc600"/><stop offset="0.7250" stop-color="#ffaf00"/><stop offset="0.7500" stop-color="#ff9700"/><stop offset="0.7750" stop-color="#ff8000"/><stop offset="0.8000" stop-color="#ff6800"/><stop offset="0.8250" stop-color="#ff5000"/><stop offset="0.8500" stop-color="#ff3900"/><stop offset="0.8750" stop-color="#ff2100"/><stop offset="0.9000" stop-color="#f30900"/><stop offset="0.9250" stop-color="#d60000"/><stop offset="0.9500" stop-color="#b90000"/><stop offset="0.9750" stop-color="#9c0000"/><stop offset="1.0000" stop-color="#800000"/></linearGradient></defs>
<rect width="1050" height="800" fill="#fff"/>
<g filter="url(#nz)" clip-path="url(#cp0)">
<rect x="131.5" y="80.5" width="111.5" height="640" fill="url(#p0L)"/>
<rect x="131.5" y="250" width="111.5" height="8" fill="#3d3d3d" mask="url(#mnear)"/>
<rect x="131.5" y="314" width="111.5" height="7" fill="#4c4c4c" mask="url(#mnear)"/>
<rect x="131.5" y="336" width="111.5" height="7" fill="#999999" mask="url(#mnear)"/>
<rect x="131.5" y="343" width="111.5" height="3" fill="#808080" mask="url(#mnear)"/>
<rect x="131.5" y="346" width="111.5" height="6" fill="#858585" mask="url(#mnear)"/>
<rect x="131.5" y="352" width="111.5" height="5" fill="#737373" mask="url(#mnear)"/>
<rect x="131.5" y="357" width="111.5" height="3" fill="#616161" mask="url(#mnear)"/>
<rect x="131.5" y="360" width="111.5" height="5" fill="#545454" mask="url(#mnear)"/>
<rect x="131.5" y="365" width="111.5" height="4" fill="#474747" mask="url(#mnear)"/>
<rect x="131.5" y="372" width="111.5" height="5" fill="#474747" mask="url(#mnear)"/>
<rect x="131.5" y="421" width="111.5" height="6" fill="#3d3d3d" mask="url(#mnear)"/>
<rect x="131.5" y="427" width="111.5" height="12" fill="#666666" mask="url(#mnear)"/>
<rect x="131.5" y="440" width="111.5" height="7" fill="#6b6b6b" mask="url(#mnear)"/>
<rect x="131.5" y="447" width="111.5" height="3" fill="#6b6b6b" mask="url(#mnear)"/>
<rect x="131.5" y="450" width="111.5" height="6" fill="#757575" mask="url(#mnear)"/>
<rect x="131.5" y="456" width="111.5" height="6" fill="#666666" mask="url(#mnear)"/>
<rect x="131.5" y="462" width="111.5" height="12" fill="#424242" mask="url(#mnear)"/>
<rect x="297" y="80.5" width="11.5" height="640" fill="url(#p0R)"/>
<rect x="136" y="81" width="1" height="638" fill="#6b6b6b" opacity="0.35" style="mix-blend-mode:lighten"/>
<rect x="175" y="81" width="1" height="638" fill="#737373" opacity="0.5" style="mix-blend-mode:lighten"/>
<rect x="224" y="267" width="1" height="2.5" fill="#f7f7f7" opacity="1"/>
<rect x="224" y="273" width="1" height="1.5" fill="#e6e6e6" opacity="1"/>
<rect x="171" y="668" width="10" height="1" fill="#b2b2b2" opacity="0.8"/>
<rect x="174" y="668" width="3" height="1" fill="#ededed" opacity="1"/>
<rect x="175" y="583" width="15" height="7" fill="#575757" opacity="0.7"/>
<rect x="215" y="583" width="19" height="7" fill="#4c4c4c" opacity="0.6"/>
<rect x="152" y="156" width="1" height="16" fill="#737373" opacity="0.5" style="mix-blend-mode:lighten"/>
<rect x="164" y="156" width="1" height="16" fill="#737373" opacity="0.5" style="mix-blend-mode:lighten"/>
<rect x="178" y="156" width="1" height="16" fill="#737373" opacity="0.5" style="mix-blend-mode:lighten"/>
<rect x="189" y="156" width="1" height="16" fill="#737373" opacity="0.5" style="mix-blend-mode:lighten"/>
<rect x="203" y="156" width="1" height="16" fill="#737373" opacity="0.5" style="mix-blend-mode:lighten"/>
<rect x="214" y="156" width="1" height="16" fill="#737373" opacity="0.5" style="mix-blend-mode:lighten"/>
<rect x="132" y="111" width="111" height="1" fill="#999999" opacity="0.4"/>
<rect x="132" y="132" width="69" height="1" fill="#cccccc" opacity="0.35"/>
<rect x="212" y="314" width="6" height="6" fill="#808080" opacity="0.7"/>
</g><g filter="url(#nb)">
<rect x="243" y="80.5" width="13" height="640" fill="url(#p0b0)"/>
<rect x="256" y="80.5" width="14" height="640" fill="url(#p0b1)"/>
<rect x="270" y="80.5" width="14" height="640" fill="url(#p0b2)"/>
<rect x="284" y="80.5" width="13" height="640" fill="url(#p0b3)"/>
<rect x="296" y="80.5" width="1" height="640" fill="url(#p0e)"/>
</g>
<rect x="255.1" y="80.5" width="1.8" height="640" fill="url(#p0s)"/>
<rect x="269.1" y="80.5" width="1.8" height="640" fill="url(#p0s)"/>
<rect x="283.1" y="80.5" width="1.8" height="640" fill="url(#p0s)"/>
<rect x="131.5" y="81" width="177" height="0.8" fill="#fff"/>
<rect x="131.5" y="84" width="177" height="1" fill="#fff"/>
<rect x="131.5" y="95" width="177" height="1" fill="#000"/>
<rect x="131.5" y="96" width="177" height="8" fill="#fff"/>
<rect x="131.5" y="104" width="177" height="1" fill="#000"/>
<rect x="131.5" y="105" width="177" height="3" fill="#fff"/>
<rect x="131.5" y="128" width="177" height="2" fill="#fff"/>
<rect x="131.5" y="133" width="177" height="1" fill="#fff"/>
<rect x="131.5" y="146" width="177" height="6" fill="#fff"/>
<rect x="131.5" y="172" width="177" height="1" fill="#000"/>
<rect x="131.5" y="174" width="177" height="1" fill="#fff"/>
<rect x="131.5" y="198" width="177" height="2" fill="#fff"/>
<rect x="131.5" y="214" width="177" height="1" fill="#000"/>
<rect x="131.5" y="218" width="177" height="1" fill="#fff"/>
<rect x="131.5" y="220" width="177" height="1" fill="#000"/>
<rect x="131.5" y="221" width="177" height="1" fill="#fff"/>
<rect x="131.5" y="222" width="177" height="1" fill="#000"/>
<rect x="131.5" y="224" width="177" height="1" fill="#fff"/>
<rect x="131.5" y="235" width="177" height="1" fill="#000"/>
<rect x="131.5" y="237" width="177" height="1" fill="#fff"/>
<rect x="131.5" y="240" width="177" height="1" fill="#fff"/>
<rect x="131.5" y="241" width="177" height="1" fill="#000"/>
<rect x="131.5" y="243" width="177" height="1" fill="#fff"/>
<rect x="131.5" y="245" width="177" height="2" fill="#fff"/>
<rect x="131.5" y="249" width="177" height="1" fill="#fff"/>
<rect x="131.5" y="256" width="177" height="1" fill="#000"/>
<rect x="131.5" y="257" width="177" height="1" fill="#fff"/>
<rect x="131.5" y="258" width="177" height="1.7" fill="#000"/>
<rect x="131.5" y="259.7" width="177" height="5.3" fill="#fff"/>
<rect x="131.5" y="266" width="177" height="1" fill="#fff"/>
<rect x="131.5" y="272" width="177" height="1" fill="#fff"/>
<rect x="131.5" y="277" width="177" height="1" fill="#000"/>
<rect x="131.5" y="278" width="177" height="12" fill="#fff"/>
<rect x="131.5" y="292.3" width="177" height="0.8" fill="#000"/>
<rect x="131.5" y="298" width="177" height="1" fill="#000"/>
<rect x="131.5" y="304" width="177" height="4" fill="#fff"/>
<rect x="131.5" y="310" width="177" height="1" fill="#fff"/>
<rect x="131.5" y="313" width="177" height="1" fill="#000"/>
<rect x="131.5" y="318" width="177" height="1" fill="#fff"/>
<rect x="131.5" y="320" width="177" height="2" fill="#000"/>
<rect x="131.5" y="322" width="177" height="9" fill="#fff"/>
<rect x="131.5" y="335" width="177" height="1" fill="#000"/>
<rect x="131.5" y="342" width="177" height="1" fill="#fff"/>
<rect x="131.5" y="356" width="177" height="1" fill="#000"/>
<rect x="131.5" y="364" width="177" height="1" fill="#fff"/>
<rect x="131.5" y="368" width="177" height="1" fill="#000"/>
<rect x="131.5" y="371" width="177" height="1" fill="#fff"/>
<rect x="131.5" y="376" width="177" height="1" fill="#000"/>
<rect x="131.5" y="381" width="177" height="1" fill="#fff"/>
<rect x="131.5" y="384" width="177" height="1" fill="#fff"/>
<rect x="131.5" y="385" width="177" height="1" fill="#000"/>
<rect x="131.5" y="386" width="177" height="1" fill="#fff"/>
<rect x="131.5" y="388" width="177" height="1" fill="#fff"/>
<rect x="131.5" y="405" width="177" height="1" fill="#fff"/>
<rect x="131.5" y="408" width="177" height="1" fill="#fff"/>
<rect x="131.5" y="420" width="177" height="1" fill="#000"/>
<rect x="131.5" y="446" width="177" height="1" fill="#000"/>
<rect x="131.5" y="449" width="177" height="1" fill="#fff"/>
<rect x="131.5" y="461" width="177" height="1" fill="#000"/>
<rect x="131.5" y="473" width="177" height="1" fill="#000"/>
<rect x="131.5" y="489" width="177" height="2" fill="#fff"/>
<rect x="131.5" y="494" width="177" height="1" fill="#000"/>
<rect x="131.5" y="495" width="177" height="1" fill="#fff"/>
<rect x="131.5" y="509" width="177" height="2" fill="#000"/>
<rect x="131.5" y="516" width="177" height="2" fill="#fff"/>
<rect x="131.5" y="518" width="177" height="2" fill="#000"/>
<rect x="131.5" y="522" width="177" height="1" fill="#fff"/>
<rect x="131.5" y="527" width="177" height="1" fill="#000"/>
<rect x="131.5" y="533" width="177" height="1" fill="#fff"/>
<rect x="131.5" y="540" width="177" height="2" fill="#000"/>
<rect x="131.5" y="546" width="177" height="1" fill="#fff"/>
<rect x="131.5" y="557" width="177" height="1" fill="#fff"/>
<rect x="131.5" y="563" width="177" height="1" fill="#fff"/>
<rect x="131.5" y="578" width="177" height="1" fill="#fff"/>
<rect x="131.5" y="580" width="177" height="2" fill="#000"/>
<rect x="131.5" y="582" width="177" height="1" fill="#fff"/>
<rect x="131.5" y="587" width="177" height="1" fill="#fff"/>
<rect x="131.5" y="590" width="177" height="1" fill="#fff"/>
<rect x="131.5" y="593" width="177" height="1" fill="#fff"/>
<rect x="131.5" y="598" width="177" height="1" fill="#fff"/>
<rect x="131.5" y="600" width="177" height="1" fill="#000"/>
<rect x="131.5" y="603" width="177" height="1" fill="#fff"/>
<rect x="131.5" y="614" width="177" height="1" fill="#000"/>
<rect x="131.5" y="622" width="177" height="1" fill="#fff"/>
<rect x="131.5" y="627" width="177" height="1" fill="#fff"/>
<rect x="131.5" y="630" width="177" height="2" fill="#fff"/>
<rect x="131.5" y="632" width="177" height="1" fill="#000"/>
<rect x="131.5" y="637" width="177" height="1" fill="#000"/>
<rect x="131.5" y="639" width="177" height="1" fill="#fff"/>
<rect x="131.5" y="645" width="177" height="1" fill="#000"/>
<rect x="131.5" y="654" width="177" height="1" fill="#000"/>
<rect x="131.5" y="662" width="177" height="1" fill="#fff"/>
<rect x="131.5" y="673" width="177" height="1" fill="#fff"/>
<rect x="131.5" y="678" width="177" height="3" fill="#fff"/>
<rect x="131.5" y="683" width="177" height="4" fill="#fff"/>
<rect x="131.5" y="687" width="177" height="2" fill="#000"/>
<rect x="131.5" y="707" width="177" height="1" fill="#fff"/>
<rect x="131.5" y="710" width="177" height="4" fill="#fff"/>
<rect x="131.5" y="80.5" width="177.0" height="640.0" fill="none" stroke="#000"/>
<path d="M173.50 720.5v-4M173.50 80.5v4M214.50 720.5v-4M214.50 80.5v4M256.50 720.5v-4M256.50 80.5v4M298.50 720.5v-4M298.50 80.5v4M131.5 587.50h4M308.5 587.50h-4M131.5 453.50h4M308.5 453.50h-4M131.5 320.50h4M308.5 320.50h-4M131.5 187.50h4M308.5 187.50h-4" stroke="#000" fill="none"/>
<text x="131.50" y="736" text-anchor="middle" font-size="12.5" textLength="22.8" lengthAdjust="spacingAndGlyphs">320</text>
<text x="173.17" y="736" text-anchor="middle" font-size="12.5" textLength="22.8" lengthAdjust="spacingAndGlyphs">335</text>
<text x="214.83" y="736" text-anchor="middle" font-size="12.5" textLength="22.8" lengthAdjust="spacingAndGlyphs">350</text>
<text x="256.50" y="736" text-anchor="middle" font-size="12.5" textLength="22.8" lengthAdjust="spacingAndGlyphs">365</text>
<text x="298.17" y="736" text-anchor="middle" font-size="12.5" textLength="22.8" lengthAdjust="spacingAndGlyphs">380</text>
<text x="126.50" y="723.50" text-anchor="end" font-size="12.5" textLength="7.0" lengthAdjust="spacingAndGlyphs">0</text>
<text x="126.50" y="590.17" text-anchor="end" font-size="12.5" textLength="7.0" lengthAdjust="spacingAndGlyphs">5</text>
<text x="126.50" y="456.83" text-anchor="end" font-size="12.5" textLength="14.9" lengthAdjust="spacingAndGlyphs">10</text>
<text x="126.50" y="323.50" text-anchor="end" font-size="12.5" textLength="14.9" lengthAdjust="spacingAndGlyphs">15</text>
<text x="126.50" y="190.17" text-anchor="end" font-size="12.5" textLength="14.9" lengthAdjust="spacingAndGlyphs">20</text>
<text x="219.80" y="73" text-anchor="middle" font-size="16.0" textLength="173.9" lengthAdjust="spacingAndGlyphs">XX, V0*V7=EA28*EA24</text>
<g filter="url(#nz)" clip-path="url(#cp1)">
<rect x="344.5" y="80.5" width="111.5" height="640" fill="url(#p1L)"/>
<rect x="344.5" y="96" width="111.5" height="15" fill="#3d3d3d" mask="url(#mnear)"/>
<rect x="344.5" y="111" width="111.5" height="1" fill="#666666" mask="url(#mnear)"/>
<rect x="344.5" y="112" width="111.5" height="18" fill="#3d3d3d" mask="url(#mnear)"/>
<rect x="344.5" y="130" width="111.5" height="4" fill="#424242" mask="url(#mnear)"/>
<rect x="344.5" y="134" width="111.5" height="12" fill="#3d3d3d" mask="url(#mnear)"/>
<rect x="344.5" y="314" width="111.5" height="7" fill="#474747" mask="url(#mnear)"/>
<rect x="344.5" y="336" width="111.5" height="6" fill="#f7f7f7" mask="url(#mnear)"/>
<rect x="344.5" y="342" width="111.5" height="2" fill="#cccccc" mask="url(#mnear)"/>
<rect x="344.5" y="344" width="111.5" height="8" fill="#7a7a7a" mask="url(#mnear)"/>
<rect x="344.5" y="352" width="111.5" height="5" fill="#6b6b6b" mask="url(#mnear)"/>
<rect x="344.5" y="357" width="111.5" height="8" fill="#616161" mask="url(#mnear)"/>
<rect x="344.5" y="427" width="111.5" height="12" fill="#6b6b6b" mask="url(#mnear)"/>
<rect x="344.5" y="439" width="111.5" height="1" fill="#cccccc" mask="url(#mnear)"/>
<rect x="344.5" y="440" width="111.5" height="7" fill="#a8a8a8" mask="url(#mnear)"/>
<rect x="344.5" y="447" width="111.5" height="2" fill="#b8b8b8" mask="url(#mnear)"/>
<rect x="344.5" y="449" width="111.5" height="4" fill="#c2c2c2" mask="url(#mnear)"/>
<rect x="344.5" y="453" width="111.5" height="4" fill="#757575" mask="url(#mnear)"/>
<rect x="344.5" y="457" width="111.5" height="5" fill="#737373" mask="url(#mnear)"/>
<rect x="344.5" y="462" width="111.5" height="6" fill="#8f8f8f" mask="url(#mnear)"/>
<rect x="344.5" y="468" width="111.5" height="6" fill="#808080" mask="url(#mnear)"/>
<rect x="344.5" y="496" width="111.5" height="7" fill="#5e5e5e" mask="url(#mnear)"/>
<rect x="344.5" y="503" width="111.5" height="7" fill="#5e5e5e" mask="url(#mnear)"/>
<rect x="344.5" y="689" width="111.5" height="19" fill="#4a4a4a" mask="url(#mnear)"/>
<rect x="510" y="80.5" width="10.5" height="640" fill="url(#p1R)"/>
<rect x="349" y="81" width="1" height="638" fill="#6b6b6b" opacity="0.35" style="mix-blend-mode:lighten"/>
<rect x="388" y="81" width="1" height="638" fill="#737373" opacity="0.5" style="mix-blend-mode:lighten"/>
<rect x="437" y="267" width="1" height="2.5" fill="#f7f7f7" opacity="1"/>
<rect x="437" y="273" width="1" height="1.5" fill="#e6e6e6" opacity="1"/>
<rect x="384" y="668" width="10" height="1" fill="#b2b2b2" opacity="0.8"/>
<rect x="387" y="668" width="3" height="1" fill="#ededed" opacity="1"/>
<ellipse cx="415.33" cy="127" rx="30.56" ry="34" fill="url(#bl5e)" opacity="0.9" style="mix-blend-mode:lighten"/>
<rect x="400" y="81" width="1" height="638" fill="#808080" opacity="0.35" style="mix-blend-mode:lighten"/>
<rect x="432" y="81" width="1" height="638" fill="#999999" opacity="0.55" style="mix-blend-mode:lighten"/>
<ellipse cx="423.94" cy="125" rx="18.06" ry="24" fill="url(#bl78)" opacity="0.85" style="mix-blend-mode:lighten"/>
<ellipse cx="355.61" cy="120" rx="11.11" ry="14" fill="url(#bl33)" opacity="0.5" style="mix-blend-mode:lighten"/>
<rect x="348" y="111" width="38" height="1" fill="#e6e6e6" opacity="0.9"/>
<rect x="348" y="132" width="33" height="1" fill="#cccccc" opacity="0.6"/>
<rect x="381" y="314" width="22" height="6" fill="#8c8c8c" opacity="0.8"/>
<rect x="431" y="314" width="22" height="6" fill="#454545" opacity="0.6"/>
</g><g filter="url(#nb)">
<rect x="456" y="80.5" width="14" height="640" fill="url(#p1b0)"/>
<rect x="470" y="80.5" width="13" height="640" fill="url(#p1b1)"/>
<rect x="483" y="80.5" width="14" height="640" fill="url(#p1b2)"/>
<rect x="497" y="80.5" width="13" height="640" fill="url(#p1b3)"/>
<rect x="509" y="80.5" width="1" height="640" fill="url(#p1e)"/>
</g>
<rect x="469.1" y="80.5" width="1.8" height="640" fill="url(#p1s)"/>
<rect x="482.1" y="80.5" width="1.8" height="640" fill="url(#p1s)"/>
<rect x="496.1" y="80.5" width="1.8" height="640" fill="url(#p1s)"/>
<rect x="344.5" y="81" width="176" height="0.8" fill="#fff"/>
<rect x="344.5" y="84" width="176" height="1" fill="#fff"/>
<rect x="344.5" y="95" width="176" height="1" fill="#000"/>
<rect x="344.5" y="96" width="176" height="8" fill="#fff"/>
<rect x="344.5" y="104" width="176" height="1" fill="#000"/>
<rect x="344.5" y="105" width="176" height="3" fill="#fff"/>
<rect x="344.5" y="128" width="176" height="2" fill="#fff"/>
<rect x="344.5" y="133" width="176" height="1" fill="#fff"/>
<rect x="344.5" y="146" width="176" height="6" fill="#fff"/>
<rect x="344.5" y="172" width="176" height="1" fill="#000"/>
<rect x="344.5" y="174" width="176" height="1" fill="#fff"/>
<rect x="344.5" y="198" width="176" height="2" fill="#fff"/>
<rect x="344.5" y="214" width="176" height="1" fill="#000"/>
<rect x="344.5" y="218" width="176" height="1" fill="#fff"/>
<rect x="344.5" y="220" width="176" height="1" fill="#000"/>
<rect x="344.5" y="221" width="176" height="1" fill="#fff"/>
<rect x="344.5" y="222" width="176" height="1" fill="#000"/>
<rect x="344.5" y="224" width="176" height="1" fill="#fff"/>
<rect x="344.5" y="235" width="176" height="1" fill="#000"/>
<rect x="344.5" y="237" width="176" height="1" fill="#fff"/>
<rect x="344.5" y="240" width="176" height="1" fill="#fff"/>
<rect x="344.5" y="241" width="176" height="1" fill="#000"/>
<rect x="344.5" y="243" width="176" height="1" fill="#fff"/>
<rect x="344.5" y="245" width="176" height="2" fill="#fff"/>
<rect x="344.5" y="249" width="176" height="1" fill="#fff"/>
<rect x="344.5" y="256" width="176" height="1" fill="#000"/>
<rect x="344.5" y="257" width="176" height="1" fill="#fff"/>
<rect x="344.5" y="258" width="176" height="1.7" fill="#000"/>
<rect x="344.5" y="259.7" width="176" height="5.3" fill="#fff"/>
<rect x="344.5" y="266" width="176" height="1" fill="#fff"/>
<rect x="344.5" y="272" width="176" height="1" fill="#fff"/>
<rect x="344.5" y="277" width="176" height="1" fill="#000"/>
<rect x="344.5" y="278" width="176" height="12" fill="#fff"/>
<rect x="344.5" y="292.3" width="176" height="0.8" fill="#000"/>
<rect x="344.5" y="298" width="176" height="1" fill="#000"/>
<rect x="344.5" y="304" width="176" height="4" fill="#fff"/>
<rect x="344.5" y="310" width="176" height="1" fill="#fff"/>
<rect x="344.5" y="313" width="176" height="1" fill="#000"/>
<rect x="344.5" y="318" width="176" height="1" fill="#fff"/>
<rect x="344.5" y="320" width="176" height="2" fill="#000"/>
<rect x="344.5" y="322" width="176" height="9" fill="#fff"/>
<rect x="344.5" y="335" width="176" height="1" fill="#000"/>
<rect x="344.5" y="342" width="176" height="1" fill="#fff"/>
<rect x="344.5" y="356" width="176" height="1" fill="#000"/>
<rect x="344.5" y="364" width="176" height="1" fill="#fff"/>
<rect x="344.5" y="368" width="176" height="1" fill="#000"/>
<rect x="344.5" y="371" width="176" height="1" fill="#fff"/>
<rect x="344.5" y="376" width="176" height="1" fill="#000"/>
<rect x="344.5" y="381" width="176" height="1" fill="#fff"/>
<rect x="344.5" y="384" width="176" height="1" fill="#fff"/>
<rect x="344.5" y="385" width="176" height="1" fill="#000"/>
<rect x="344.5" y="386" width="176" height="1" fill="#fff"/>
<rect x="344.5" y="388" width="176" height="1" fill="#fff"/>
<rect x="344.5" y="405" width="176" height="1" fill="#fff"/>
<rect x="344.5" y="408" width="176" height="1" fill="#fff"/>
<rect x="344.5" y="420" width="176" height="1" fill="#000"/>
<rect x="344.5" y="446" width="176" height="1" fill="#000"/>
<rect x="344.5" y="449" width="176" height="1" fill="#fff"/>
<rect x="344.5" y="461" width="176" height="1" fill="#000"/>
<rect x="344.5" y="473" width="176" height="1" fill="#000"/>
<rect x="344.5" y="489" width="176" height="2" fill="#fff"/>
<rect x="344.5" y="494" width="176" height="1" fill="#000"/>
<rect x="344.5" y="495" width="176" height="1" fill="#fff"/>
<rect x="344.5" y="509" width="176" height="2" fill="#000"/>
<rect x="344.5" y="516" width="176" height="2" fill="#fff"/>
<rect x="344.5" y="518" width="176" height="2" fill="#000"/>
<rect x="344.5" y="522" width="176" height="1" fill="#fff"/>
<rect x="344.5" y="527" width="176" height="1" fill="#000"/>
<rect x="344.5" y="533" width="176" height="1" fill="#fff"/>
<rect x="344.5" y="540" width="176" height="2" fill="#000"/>
<rect x="344.5" y="546" width="176" height="1" fill="#fff"/>
<rect x="344.5" y="557" width="176" height="1" fill="#fff"/>
<rect x="344.5" y="563" width="176" height="1" fill="#fff"/>
<rect x="344.5" y="578" width="176" height="1" fill="#fff"/>
<rect x="344.5" y="580" width="176" height="2" fill="#000"/>
<rect x="344.5" y="582" width="176" height="1" fill="#fff"/>
<rect x="344.5" y="587" width="176" height="1" fill="#fff"/>
<rect x="344.5" y="590" width="176" height="1" fill="#fff"/>
<rect x="344.5" y="593" width="176" height="1" fill="#fff"/>
<rect x="344.5" y="598" width="176" height="1" fill="#fff"/>
<rect x="344.5" y="600" width="176" height="1" fill="#000"/>
<rect x="344.5" y="603" width="176" height="1" fill="#fff"/>
<rect x="344.5" y="614" width="176" height="1" fill="#000"/>
<rect x="344.5" y="622" width="176" height="1" fill="#fff"/>
<rect x="344.5" y="627" width="176" height="1" fill="#fff"/>
<rect x="344.5" y="630" width="176" height="2" fill="#fff"/>
<rect x="344.5" y="632" width="176" height="1" fill="#000"/>
<rect x="344.5" y="637" width="176" height="1" fill="#000"/>
<rect x="344.5" y="639" width="176" height="1" fill="#fff"/>
<rect x="344.5" y="645" width="176" height="1" fill="#000"/>
<rect x="344.5" y="654" width="176" height="1" fill="#000"/>
<rect x="344.5" y="662" width="176" height="1" fill="#fff"/>
<rect x="344.5" y="673" width="176" height="1" fill="#fff"/>
<rect x="344.5" y="678" width="176" height="3" fill="#fff"/>
<rect x="344.5" y="683" width="176" height="4" fill="#fff"/>
<rect x="344.5" y="687" width="176" height="2" fill="#000"/>
<rect x="344.5" y="707" width="176" height="1" fill="#fff"/>
<rect x="344.5" y="710" width="176" height="4" fill="#fff"/>
<rect x="344.5" y="80.5" width="176.0" height="640.0" fill="none" stroke="#000"/>
<path d="M386.50 720.5v-4M386.50 80.5v4M427.50 720.5v-4M427.50 80.5v4M469.50 720.5v-4M469.50 80.5v4M511.50 720.5v-4M511.50 80.5v4M344.5 587.50h4M520.5 587.50h-4M344.5 453.50h4M520.5 453.50h-4M344.5 320.50h4M520.5 320.50h-4M344.5 187.50h4M520.5 187.50h-4" stroke="#000" fill="none"/>
<text x="344.50" y="736" text-anchor="middle" font-size="12.5" textLength="22.8" lengthAdjust="spacingAndGlyphs">320</text>
<text x="386.17" y="736" text-anchor="middle" font-size="12.5" textLength="22.8" lengthAdjust="spacingAndGlyphs">335</text>
<text x="427.83" y="736" text-anchor="middle" font-size="12.5" textLength="22.8" lengthAdjust="spacingAndGlyphs">350</text>
<text x="469.50" y="736" text-anchor="middle" font-size="12.5" textLength="22.8" lengthAdjust="spacingAndGlyphs">365</text>
<text x="511.17" y="736" text-anchor="middle" font-size="12.5" textLength="22.8" lengthAdjust="spacingAndGlyphs">380</text>
<text x="339.50" y="723.50" text-anchor="end" font-size="12.5" textLength="7.0" lengthAdjust="spacingAndGlyphs">0</text>
<text x="339.50" y="590.17" text-anchor="end" font-size="12.5" textLength="7.0" lengthAdjust="spacingAndGlyphs">5</text>
<text x="339.50" y="456.83" text-anchor="end" font-size="12.5" textLength="14.9" lengthAdjust="spacingAndGlyphs">10</text>
<text x="339.50" y="323.50" text-anchor="end" font-size="12.5" textLength="14.9" lengthAdjust="spacingAndGlyphs">15</text>
<text x="339.50" y="190.17" text-anchor="end" font-size="12.5" textLength="14.9" lengthAdjust="spacingAndGlyphs">20</text>
<text x="432.30" y="73" text-anchor="middle" font-size="16.0" textLength="171.7" lengthAdjust="spacingAndGlyphs">YY, V0*V7=EA28*EA24</text>
<g filter="url(#nz)" clip-path="url(#cp2)">
<rect x="556.5" y="80.5" width="111.5" height="640" fill="url(#p2L)"/>
<rect x="556.5" y="81" width="111.5" height="15" fill="#383838" mask="url(#mnear2)"/>
<rect x="556.5" y="96" width="111.5" height="15" fill="#383838" mask="url(#mnear2)"/>
<rect x="556.5" y="111" width="111.5" height="1" fill="#666666" mask="url(#mnear2)"/>
<rect x="556.5" y="112" width="111.5" height="8" fill="#383838" mask="url(#mnear2)"/>
<rect x="556.5" y="120" width="111.5" height="10" fill="#383838" mask="url(#mnear2)"/>
<rect x="556.5" y="130" width="111.5" height="4" fill="#404040" mask="url(#mnear2)"/>
<rect x="556.5" y="134" width="111.5" height="12" fill="#424242" mask="url(#mnear2)"/>
<rect x="556.5" y="173" width="111.5" height="25" fill="#3d3d3d" mask="url(#mnear2)"/>
<rect x="556.5" y="225" width="111.5" height="17" fill="#474747" mask="url(#mnear2)"/>
<rect x="556.5" y="242" width="111.5" height="16" fill="#545454" mask="url(#mnear2)"/>
<rect x="556.5" y="278" width="111.5" height="27" fill="#474747" mask="url(#mnear2)"/>
<rect x="556.5" y="314" width="111.5" height="7" fill="#525252" mask="url(#mnear2)"/>
<rect x="556.5" y="336" width="111.5" height="3" fill="#e6e6e6" mask="url(#mnear2)"/>
<rect x="556.5" y="339" width="111.5" height="3" fill="#e0e0e0" mask="url(#mnear2)"/>
<rect x="556.5" y="342" width="111.5" height="2" fill="#b2b2b2" mask="url(#mnear2)"/>
<rect x="556.5" y="344" width="111.5" height="9" fill="#808080" mask="url(#mnear2)"/>
<rect x="556.5" y="353" width="111.5" height="4" fill="#737373" mask="url(#mnear2)"/>
<rect x="556.5" y="357" width="111.5" height="8" fill="#4c4c4c" mask="url(#mnear2)"/>
<rect x="556.5" y="427" width="111.5" height="6" fill="#707070" mask="url(#mnear2)"/>
<rect x="556.5" y="433" width="111.5" height="6" fill="#737373" mask="url(#mnear2)"/>
<rect x="556.5" y="439" width="111.5" height="1" fill="#c4c4c4" mask="url(#mnear2)"/>
<rect x="556.5" y="440" width="111.5" height="7" fill="#707070" mask="url(#mnear2)"/>
<rect x="556.5" y="447" width="111.5" height="3" fill="#787878" mask="url(#mnear2)"/>
<rect x="556.5" y="450" width="111.5" height="3" fill="#8c8c8c" mask="url(#mnear2)"/>
<rect x="556.5" y="453" width="111.5" height="5" fill="#636363" mask="url(#mnear2)"/>
<rect x="556.5" y="458" width="111.5" height="4" fill="#696969" mask="url(#mnear2)"/>
<rect x="556.5" y="462" width="111.5" height="6" fill="#808080" mask="url(#mnear2)"/>
<rect x="556.5" y="468" width="111.5" height="6" fill="#7a7a7a" mask="url(#mnear2)"/>
<rect x="556.5" y="474" width="111.5" height="17" fill="#454545" mask="url(#mnear2)"/>
<rect x="556.5" y="496" width="111.5" height="7" fill="#454545" mask="url(#mnear2)"/>
<rect x="556.5" y="503" width="111.5" height="7" fill="#454545" mask="url(#mnear2)"/>
<rect x="556.5" y="547" width="111.5" height="11" fill="#404040" mask="url(#mnear2)"/>
<rect x="556.5" y="558" width="111.5" height="21" fill="#545454" mask="url(#mnear2)"/>
<rect x="556.5" y="689" width="111.5" height="19" fill="#3b3b3b" mask="url(#mnear2)"/>
<rect x="722" y="80.5" width="11.5" height="640" fill="url(#p2R)"/>
<rect x="561" y="81" width="1" height="638" fill="#6b6b6b" opacity="0.35" style="mix-blend-mode:lighten"/>
<rect x="600" y="81" width="1" height="638" fill="#737373" opacity="0.5" style="mix-blend-mode:lighten"/>
<rect x="649" y="267" width="1" height="2.5" fill="#f7f7f7" opacity="1"/>
<rect x="649" y="273" width="1" height="1.5" fill="#e6e6e6" opacity="1"/>
<rect x="596" y="668" width="10" height="1" fill="#b2b2b2" opacity="0.8"/>
<rect x="599" y="668" width="3" height="1" fill="#ededed" opacity="1"/>
<rect x="577" y="156" width="1" height="16" fill="#6b6b6b" opacity="0.45" style="mix-blend-mode:lighten"/>
<rect x="589" y="156" width="1" height="16" fill="#6b6b6b" opacity="0.45" style="mix-blend-mode:lighten"/>
<rect x="603" y="156" width="1" height="16" fill="#6b6b6b" opacity="0.45" style="mix-blend-mode:lighten"/>
<rect x="614" y="156" width="1" height="16" fill="#6b6b6b" opacity="0.45" style="mix-blend-mode:lighten"/>
<rect x="628" y="156" width="1" height="16" fill="#6b6b6b" opacity="0.45" style="mix-blend-mode:lighten"/>
<rect x="639" y="156" width="1" height="16" fill="#6b6b6b" opacity="0.45" style="mix-blend-mode:lighten"/>
<ellipse cx="573.17" cy="176" rx="30.56" ry="32" fill="url(#bl4f)" opacity="0.8" style="mix-blend-mode:lighten"/>
<ellipse cx="637.89" cy="120" rx="13.89" ry="12" fill="url(#bl6b)" opacity="1" style="mix-blend-mode:lighten"/>
<ellipse cx="639.83" cy="141" rx="16.67" ry="8" fill="url(#bl5c)" opacity="0.8" style="mix-blend-mode:lighten"/>
<ellipse cx="600.11" cy="90" rx="19.44" ry="8" fill="url(#bl61)" opacity="1" style="mix-blend-mode:lighten"/>
<rect x="558" y="111" width="37" height="1" fill="#d9d9d9" opacity="0.7"/>
<rect x="558" y="132" width="68" height="1" fill="#cccccc" opacity="0.5"/>
<rect x="590" y="314" width="44" height="6" fill="#757575" opacity="0.7"/>
<rect x="636" y="314" width="4" height="6" fill="#999999" opacity="0.9"/>
</g><g filter="url(#nb)">
<rect x="668" y="80.5" width="14" height="640" fill="url(#p2b0)"/>
<rect x="682" y="80.5" width="13" height="640" fill="url(#p2b1)"/>
<rect x="695" y="80.5" width="14" height="640" fill="url(#p2b2)"/>
<rect x="709" y="80.5" width="13" height="640" fill="url(#p2b3)"/>
<rect x="721" y="80.5" width="1" height="640" fill="url(#p2e)"/>
</g>
<rect x="681.1" y="80.5" width="1.8" height="640" fill="url(#p2s)"/>
<rect x="694.1" y="80.5" width="1.8" height="640" fill="url(#p2s)"/>
<rect x="708.1" y="80.5" width="1.8" height="640" fill="url(#p2s)"/>
<rect x="556.5" y="81" width="177" height="0.8" fill="#fff"/>
<rect x="556.5" y="84" width="177" height="1" fill="#fff"/>
<rect x="556.5" y="95" width="177" height="1" fill="#000"/>
<rect x="556.5" y="96" width="177" height="8" fill="#fff"/>
<rect x="556.5" y="104" width="177" height="1" fill="#000"/>
<rect x="556.5" y="105" width="177" height="3" fill="#fff"/>
<rect x="556.5" y="128" width="177" height="2" fill="#fff"/>
<rect x="556.5" y="133" width="177" height="1" fill="#fff"/>
<rect x="556.5" y="146" width="177" height="6" fill="#fff"/>
<rect x="556.5" y="172" width="177" height="1" fill="#000"/>
<rect x="556.5" y="174" width="177" height="1" fill="#fff"/>
<rect x="556.5" y="198" width="177" height="2" fill="#fff"/>
<rect x="556.5" y="214" width="177" height="1" fill="#000"/>
<rect x="556.5" y="218" width="177" height="1" fill="#fff"/>
<rect x="556.5" y="220" width="177" height="1" fill="#000"/>
<rect x="556.5" y="221" width="177" height="1" fill="#fff"/>
<rect x="556.5" y="222" width="177" height="1" fill="#000"/>
<rect x="556.5" y="224" width="177" height="1" fill="#fff"/>
<rect x="556.5" y="235" width="177" height="1" fill="#000"/>
<rect x="556.5" y="237" width="177" height="1" fill="#fff"/>
<rect x="556.5" y="240" width="177" height="1" fill="#fff"/>
<rect x="556.5" y="241" width="177" height="1" fill="#000"/>
<rect x="556.5" y="243" width="177" height="1" fill="#fff"/>
<rect x="556.5" y="245" width="177" height="2" fill="#fff"/>
<rect x="556.5" y="249" width="177" height="1" fill="#fff"/>
<rect x="556.5" y="256" width="177" height="1" fill="#000"/>
<rect x="556.5" y="257" width="177" height="1" fill="#fff"/>
<rect x="556.5" y="258" width="177" height="1.7" fill="#000"/>
<rect x="556.5" y="259.7" width="177" height="5.3" fill="#fff"/>
<rect x="556.5" y="266" width="177" height="1" fill="#fff"/>
<rect x="556.5" y="272" width="177" height="1" fill="#fff"/>
<rect x="556.5" y="277" width="177" height="1" fill="#000"/>
<rect x="556.5" y="278" width="177" height="12" fill="#fff"/>
<rect x="556.5" y="292.3" width="177" height="0.8" fill="#000"/>
<rect x="556.5" y="298" width="177" height="1" fill="#000"/>
<rect x="556.5" y="304" width="177" height="4" fill="#fff"/>
<rect x="556.5" y="310" width="177" height="1" fill="#fff"/>
<rect x="556.5" y="313" width="177" height="1" fill="#000"/>
<rect x="556.5" y="318" width="177" height="1" fill="#fff"/>
<rect x="556.5" y="320" width="177" height="2" fill="#000"/>
<rect x="556.5" y="322" width="177" height="9" fill="#fff"/>
<rect x="556.5" y="335" width="177" height="1" fill="#000"/>
<rect x="556.5" y="342" width="177" height="1" fill="#fff"/>
<rect x="556.5" y="356" width="177" height="1" fill="#000"/>
<rect x="556.5" y="364" width="177" height="1" fill="#fff"/>
<rect x="556.5" y="368" width="177" height="1" fill="#000"/>
<rect x="556.5" y="371" width="177" height="1" fill="#fff"/>
<rect x="556.5" y="376" width="177" height="1" fill="#000"/>
<rect x="556.5" y="381" width="177" height="1" fill="#fff"/>
<rect x="556.5" y="384" width="177" height="1" fill="#fff"/>
<rect x="556.5" y="385" width="177" height="1" fill="#000"/>
<rect x="556.5" y="386" width="177" height="1" fill="#fff"/>
<rect x="556.5" y="388" width="177" height="1" fill="#fff"/>
<rect x="556.5" y="405" width="177" height="1" fill="#fff"/>
<rect x="556.5" y="408" width="177" height="1" fill="#fff"/>
<rect x="556.5" y="420" width="177" height="1" fill="#000"/>
<rect x="556.5" y="446" width="177" height="1" fill="#000"/>
<rect x="556.5" y="449" width="177" height="1" fill="#fff"/>
<rect x="556.5" y="461" width="177" height="1" fill="#000"/>
<rect x="556.5" y="473" width="177" height="1" fill="#000"/>
<rect x="556.5" y="489" width="177" height="2" fill="#fff"/>
<rect x="556.5" y="494" width="177" height="1" fill="#000"/>
<rect x="556.5" y="495" width="177" height="1" fill="#fff"/>
<rect x="556.5" y="509" width="177" height="2" fill="#000"/>
<rect x="556.5" y="516" width="177" height="2" fill="#fff"/>
<rect x="556.5" y="518" width="177" height="2" fill="#000"/>
<rect x="556.5" y="522" width="177" height="1" fill="#fff"/>
<rect x="556.5" y="527" width="177" height="1" fill="#000"/>
<rect x="556.5" y="533" width="177" height="1" fill="#fff"/>
<rect x="556.5" y="540" width="177" height="2" fill="#000"/>
<rect x="556.5" y="546" width="177" height="1" fill="#fff"/>
<rect x="556.5" y="557" width="177" height="1" fill="#fff"/>
<rect x="556.5" y="563" width="177" height="1" fill="#fff"/>
<rect x="556.5" y="578" width="177" height="1" fill="#fff"/>
<rect x="556.5" y="580" width="177" height="2" fill="#000"/>
<rect x="556.5" y="582" width="177" height="1" fill="#fff"/>
<rect x="556.5" y="587" width="177" height="1" fill="#fff"/>
<rect x="556.5" y="590" width="177" height="1" fill="#fff"/>
<rect x="556.5" y="593" width="177" height="1" fill="#fff"/>
<rect x="556.5" y="598" width="177" height="1" fill="#fff"/>
<rect x="556.5" y="600" width="177" height="1" fill="#000"/>
<rect x="556.5" y="603" width="177" height="1" fill="#fff"/>
<rect x="556.5" y="614" width="177" height="1" fill="#000"/>
<rect x="556.5" y="622" width="177" height="1" fill="#fff"/>
<rect x="556.5" y="627" width="177" height="1" fill="#fff"/>
<rect x="556.5" y="630" width="177" height="2" fill="#fff"/>
<rect x="556.5" y="632" width="177" height="1" fill="#000"/>
<rect x="556.5" y="637" width="177" height="1" fill="#000"/>
<rect x="556.5" y="639" width="177" height="1" fill="#fff"/>
<rect x="556.5" y="645" width="177" height="1" fill="#000"/>
<rect x="556.5" y="654" width="177" height="1" fill="#000"/>
<rect x="556.5" y="662" width="177" height="1" fill="#fff"/>
<rect x="556.5" y="673" width="177" height="1" fill="#fff"/>
<rect x="556.5" y="678" width="177" height="3" fill="#fff"/>
<rect x="556.5" y="683" width="177" height="4" fill="#fff"/>
<rect x="556.5" y="687" width="177" height="2" fill="#000"/>
<rect x="556.5" y="707" width="177" height="1" fill="#fff"/>
<rect x="556.5" y="710" width="177" height="4" fill="#fff"/>
<rect x="556.5" y="80.5" width="177.0" height="640.0" fill="none" stroke="#000"/>
<path d="M598.50 720.5v-4M598.50 80.5v4M639.50 720.5v-4M639.50 80.5v4M681.50 720.5v-4M681.50 80.5v4M723.50 720.5v-4M723.50 80.5v4M556.5 587.50h4M733.5 587.50h-4M556.5 453.50h4M733.5 453.50h-4M556.5 320.50h4M733.5 320.50h-4M556.5 187.50h4M733.5 187.50h-4" stroke="#000" fill="none"/>
<text x="556.50" y="736" text-anchor="middle" font-size="12.5" textLength="22.8" lengthAdjust="spacingAndGlyphs">320</text>
<text x="598.17" y="736" text-anchor="middle" font-size="12.5" textLength="22.8" lengthAdjust="spacingAndGlyphs">335</text>
<text x="639.83" y="736" text-anchor="middle" font-size="12.5" textLength="22.8" lengthAdjust="spacingAndGlyphs">350</text>
<text x="681.50" y="736" text-anchor="middle" font-size="12.5" textLength="22.8" lengthAdjust="spacingAndGlyphs">365</text>
<text x="723.17" y="736" text-anchor="middle" font-size="12.5" textLength="22.8" lengthAdjust="spacingAndGlyphs">380</text>
<text x="551.50" y="723.50" text-anchor="end" font-size="12.5" textLength="7.0" lengthAdjust="spacingAndGlyphs">0</text>
<text x="551.50" y="590.17" text-anchor="end" font-size="12.5" textLength="7.0" lengthAdjust="spacingAndGlyphs">5</text>
<text x="551.50" y="456.83" text-anchor="end" font-size="12.5" textLength="14.9" lengthAdjust="spacingAndGlyphs">10</text>
<text x="551.50" y="323.50" text-anchor="end" font-size="12.5" textLength="14.9" lengthAdjust="spacingAndGlyphs">15</text>
<text x="551.50" y="190.17" text-anchor="end" font-size="12.5" textLength="14.9" lengthAdjust="spacingAndGlyphs">20</text>
<text x="644.80" y="73" text-anchor="middle" font-size="16.0" textLength="172.8" lengthAdjust="spacingAndGlyphs">XY, V0*V7=EA28*EA24</text>
<g filter="url(#nz)" clip-path="url(#cp3)">
<rect x="768.5" y="80.5" width="111.5" height="640" fill="url(#p3L)"/>
<rect x="768.5" y="111" width="111.5" height="1" fill="#494949" mask="url(#mnear2)"/>
<rect x="768.5" y="134" width="111.5" height="12" fill="#2b2b2b" mask="url(#mnear2)"/>
<rect x="768.5" y="146" width="111.5" height="27" fill="#232323" mask="url(#mnear2)"/>
<rect x="768.5" y="225" width="111.5" height="17" fill="#353535" mask="url(#mnear2)"/>
<rect x="768.5" y="314" width="111.5" height="7" fill="#494949" mask="url(#mnear2)"/>
<rect x="768.5" y="339" width="111.5" height="3" fill="#565656" mask="url(#mnear2)"/>
<rect x="768.5" y="342" width="111.5" height="10" fill="#828282" mask="url(#mnear2)"/>
<rect x="768.5" y="352" width="111.5" height="5" fill="#707070" mask="url(#mnear2)"/>
<rect x="768.5" y="357" width="111.5" height="8" fill="#515151" mask="url(#mnear2)"/>
<rect x="768.5" y="365" width="111.5" height="4" fill="#3d3d3d" mask="url(#mnear2)"/>
<rect x="768.5" y="427" width="111.5" height="12" fill="#595959" mask="url(#mnear2)"/>
<rect x="768.5" y="440" width="111.5" height="7" fill="#5e5e5e" mask="url(#mnear2)"/>
<rect x="768.5" y="447" width="111.5" height="3" fill="#5e5e5e" mask="url(#mnear2)"/>
<rect x="768.5" y="450" width="111.5" height="6" fill="#595959" mask="url(#mnear2)"/>
<rect x="768.5" y="456" width="111.5" height="6" fill="#444444" mask="url(#mnear2)"/>
<rect x="768.5" y="462" width="111.5" height="6" fill="#636363" mask="url(#mnear2)"/>
<rect x="768.5" y="468" width="111.5" height="6" fill="#5e5e5e" mask="url(#mnear2)"/>
<rect x="768.5" y="558" width="111.5" height="21" fill="#444444" mask="url(#mnear2)"/>
<rect x="768.5" y="604" width="111.5" height="8" fill="#232323" mask="url(#mnear2)"/>
<rect x="768.5" y="612" width="111.5" height="2" fill="#303030" mask="url(#mnear2)"/>
<rect x="768.5" y="614" width="111.5" height="18" fill="#232323" mask="url(#mnear2)"/>
<rect x="934" y="80.5" width="11.5" height="640" fill="url(#p3R)"/>
<rect x="773" y="81" width="1" height="638" fill="#6b6b6b" opacity="0.35" style="mix-blend-mode:lighten"/>
<rect x="812" y="81" width="1" height="638" fill="#737373" opacity="0.5" style="mix-blend-mode:lighten"/>
<rect x="861" y="267" width="1" height="2.5" fill="#f7f7f7" opacity="1"/>
<rect x="861" y="273" width="1" height="1.5" fill="#e6e6e6" opacity="1"/>
<rect x="808" y="668" width="10" height="1" fill="#b2b2b2" opacity="0.8"/>
<rect x="811" y="668" width="3" height="1" fill="#ededed" opacity="1"/>
<rect x="789" y="156" width="1" height="16" fill="#6b6b6b" opacity="0.45" style="mix-blend-mode:lighten"/>
<rect x="801" y="156" width="1" height="16" fill="#6b6b6b" opacity="0.45" style="mix-blend-mode:lighten"/>
<rect x="815" y="156" width="1" height="16" fill="#6b6b6b" opacity="0.45" style="mix-blend-mode:lighten"/>
<rect x="826" y="156" width="1" height="16" fill="#6b6b6b" opacity="0.45" style="mix-blend-mode:lighten"/>
<rect x="840" y="156" width="1" height="16" fill="#6b6b6b" opacity="0.45" style="mix-blend-mode:lighten"/>
<rect x="851" y="156" width="1" height="16" fill="#6b6b6b" opacity="0.45" style="mix-blend-mode:lighten"/>
<ellipse cx="849.89" cy="120" rx="12.5" ry="12" fill="url(#bl52)" opacity="1" style="mix-blend-mode:lighten"/>
<ellipse cx="849.89" cy="141" rx="12.5" ry="8" fill="url(#bl47)" opacity="0.8" style="mix-blend-mode:lighten"/>
<rect x="770" y="111" width="37" height="1" fill="#d9d9d9" opacity="0.8"/>
<rect x="770" y="132" width="37" height="1" fill="#bfbfbf" opacity="0.5"/>
<rect x="849" y="314" width="4" height="6" fill="#6b6b6b" opacity="0.8"/>
</g><g filter="url(#nb)">
<rect x="880" y="80.5" width="14" height="640" fill="url(#p3b0)"/>
<rect x="894" y="80.5" width="13" height="640" fill="url(#p3b1)"/>
<rect x="907" y="80.5" width="14" height="640" fill="url(#p3b2)"/>
<rect x="921" y="80.5" width="13" height="640" fill="url(#p3b3)"/>
<rect x="933" y="80.5" width="1" height="640" fill="url(#p3e)"/>
</g>
<rect x="893.1" y="80.5" width="1.8" height="640" fill="url(#p3s)"/>
<rect x="906.1" y="80.5" width="1.8" height="640" fill="url(#p3s)"/>
<rect x="920.1" y="80.5" width="1.8" height="640" fill="url(#p3s)"/>
<rect x="768.5" y="81" width="177" height="0.8" fill="#fff"/>
<rect x="768.5" y="84" width="177" height="1" fill="#fff"/>
<rect x="768.5" y="95" width="177" height="1" fill="#000"/>
<rect x="768.5" y="96" width="177" height="8" fill="#fff"/>
<rect x="768.5" y="104" width="177" height="1" fill="#000"/>
<rect x="768.5" y="105" width="177" height="3" fill="#fff"/>
<rect x="768.5" y="128" width="177" height="2" fill="#fff"/>
<rect x="768.5" y="133" width="177" height="1" fill="#fff"/>
<rect x="768.5" y="146" width="177" height="6" fill="#fff"/>
<rect x="768.5" y="172" width="177" height="1" fill="#000"/>
<rect x="768.5" y="174" width="177" height="1" fill="#fff"/>
<rect x="768.5" y="198" width="177" height="2" fill="#fff"/>
<rect x="768.5" y="214" width="177" height="1" fill="#000"/>
<rect x="768.5" y="218" width="177" height="1" fill="#fff"/>
<rect x="768.5" y="220" width="177" height="1" fill="#000"/>
<rect x="768.5" y="221" width="177" height="1" fill="#fff"/>
<rect x="768.5" y="222" width="177" height="1" fill="#000"/>
<rect x="768.5" y="224" width="177" height="1" fill="#fff"/>
<rect x="768.5" y="235" width="177" height="1" fill="#000"/>
<rect x="768.5" y="237" width="177" height="1" fill="#fff"/>
<rect x="768.5" y="240" width="177" height="1" fill="#fff"/>
<rect x="768.5" y="241" width="177" height="1" fill="#000"/>
<rect x="768.5" y="243" width="177" height="1" fill="#fff"/>
<rect x="768.5" y="245" width="177" height="2" fill="#fff"/>
<rect x="768.5" y="249" width="177" height="1" fill="#fff"/>
<rect x="768.5" y="256" width="177" height="1" fill="#000"/>
<rect x="768.5" y="257" width="177" height="1" fill="#fff"/>
<rect x="768.5" y="258" width="177" height="1.7" fill="#000"/>
<rect x="768.5" y="259.7" width="177" height="5.3" fill="#fff"/>
<rect x="768.5" y="266" width="177" height="1" fill="#fff"/>
<rect x="768.5" y="272" width="177" height="1" fill="#fff"/>
<rect x="768.5" y="277" width="177" height="1" fill="#000"/>
<rect x="768.5" y="278" width="177" height="12" fill="#fff"/>
<rect x="768.5" y="292.3" width="177" height="0.8" fill="#000"/>
<rect x="768.5" y="298" width="177" height="1" fill="#000"/>
<rect x="768.5" y="304" width="177" height="4" fill="#fff"/>
<rect x="768.5" y="310" width="177" height="1" fill="#fff"/>
<rect x="768.5" y="313" width="177" height="1" fill="#000"/>
<rect x="768.5" y="318" width="177" height="1" fill="#fff"/>
<rect x="768.5" y="320" width="177" height="2" fill="#000"/>
<rect x="768.5" y="322" width="177" height="9" fill="#fff"/>
<rect x="768.5" y="335" width="177" height="1" fill="#000"/>
<rect x="768.5" y="342" width="177" height="1" fill="#fff"/>
<rect x="768.5" y="356" width="177" height="1" fill="#000"/>
<rect x="768.5" y="364" width="177" height="1" fill="#fff"/>
<rect x="768.5" y="368" width="177" height="1" fill="#000"/>
<rect x="768.5" y="371" width="177" height="1" fill="#fff"/>
<rect x="768.5" y="376" width="177" height="1" fill="#000"/>
<rect x="768.5" y="381" width="177" height="1" fill="#fff"/>
<rect x="768.5" y="384" width="177" height="1" fill="#fff"/>
<rect x="768.5" y="385" width="177" height="1" fill="#000"/>
<rect x="768.5" y="386" width="177" height="1" fill="#fff"/>
<rect x="768.5" y="388" width="177" height="1" fill="#fff"/>
<rect x="768.5" y="405" width="177" height="1" fill="#fff"/>
<rect x="768.5" y="408" width="177" height="1" fill="#fff"/>
<rect x="768.5" y="420" width="177" height="1" fill="#000"/>
<rect x="768.5" y="446" width="177" height="1" fill="#000"/>
<rect x="768.5" y="449" width="177" height="1" fill="#fff"/>
<rect x="768.5" y="461" width="177" height="1" fill="#000"/>
<rect x="768.5" y="473" width="177" height="1" fill="#000"/>
<rect x="768.5" y="489" width="177" height="2" fill="#fff"/>
<rect x="768.5" y="494" width="177" height="1" fill="#000"/>
<rect x="768.5" y="495" width="177" height="1" fill="#fff"/>
<rect x="768.5" y="509" width="177" height="2" fill="#000"/>
<rect x="768.5" y="516" width="177" height="2" fill="#fff"/>
<rect x="768.5" y="518" width="177" height="2" fill="#000"/>
<rect x="768.5" y="522" width="177" height="1" fill="#fff"/>
<rect x="768.5" y="527" width="177" height="1" fill="#000"/>
<rect x="768.5" y="533" width="177" height="1" fill="#fff"/>
<rect x="768.5" y="540" width="177" height="2" fill="#000"/>
<rect x="768.5" y="546" width="177" height="1" fill="#fff"/>
<rect x="768.5" y="557" width="177" height="1" fill="#fff"/>
<rect x="768.5" y="563" width="177" height="1" fill="#fff"/>
<rect x="768.5" y="578" width="177" height="1" fill="#fff"/>
<rect x="768.5" y="580" width="177" height="2" fill="#000"/>
<rect x="768.5" y="582" width="177" height="1" fill="#fff"/>
<rect x="768.5" y="587" width="177" height="1" fill="#fff"/>
<rect x="768.5" y="590" width="177" height="1" fill="#fff"/>
<rect x="768.5" y="593" width="177" height="1" fill="#fff"/>
<rect x="768.5" y="598" width="177" height="1" fill="#fff"/>
<rect x="768.5" y="600" width="177" height="1" fill="#000"/>
<rect x="768.5" y="603" width="177" height="1" fill="#fff"/>
<rect x="768.5" y="614" width="177" height="1" fill="#000"/>
<rect x="768.5" y="622" width="177" height="1" fill="#fff"/>
<rect x="768.5" y="627" width="177" height="1" fill="#fff"/>
<rect x="768.5" y="630" width="177" height="2" fill="#fff"/>
<rect x="768.5" y="632" width="177" height="1" fill="#000"/>
<rect x="768.5" y="637" width="177" height="1" fill="#000"/>
<rect x="768.5" y="639" width="177" height="1" fill="#fff"/>
<rect x="768.5" y="645" width="177" height="1" fill="#000"/>
<rect x="768.5" y="654" width="177" height="1" fill="#000"/>
<rect x="768.5" y="662" width="177" height="1" fill="#fff"/>
<rect x="768.5" y="673" width="177" height="1" fill="#fff"/>
<rect x="768.5" y="678" width="177" height="3" fill="#fff"/>
<rect x="768.5" y="683" width="177" height="4" fill="#fff"/>
<rect x="768.5" y="687" width="177" height="2" fill="#000"/>
<rect x="768.5" y="707" width="177" height="1" fill="#fff"/>
<rect x="768.5" y="710" width="177" height="4" fill="#fff"/>
<rect x="768.5" y="80.5" width="177.0" height="640.0" fill="none" stroke="#000"/>
<path d="M810.50 720.5v-4M810.50 80.5v4M851.50 720.5v-4M851.50 80.5v4M893.50 720.5v-4M893.50 80.5v4M935.50 720.5v-4M935.50 80.5v4M768.5 587.50h4M945.5 587.50h-4M768.5 453.50h4M945.5 453.50h-4M768.5 320.50h4M945.5 320.50h-4M768.5 187.50h4M945.5 187.50h-4" stroke="#000" fill="none"/>
<text x="768.50" y="736" text-anchor="middle" font-size="12.5" textLength="22.8" lengthAdjust="spacingAndGlyphs">320</text>
<text x="810.17" y="736" text-anchor="middle" font-size="12.5" textLength="22.8" lengthAdjust="spacingAndGlyphs">335</text>
<text x="851.83" y="736" text-anchor="middle" font-size="12.5" textLength="22.8" lengthAdjust="spacingAndGlyphs">350</text>
<text x="893.50" y="736" text-anchor="middle" font-size="12.5" textLength="22.8" lengthAdjust="spacingAndGlyphs">365</text>
<text x="935.17" y="736" text-anchor="middle" font-size="12.5" textLength="22.8" lengthAdjust="spacingAndGlyphs">380</text>
<text x="763.50" y="723.50" text-anchor="end" font-size="12.5" textLength="7.0" lengthAdjust="spacingAndGlyphs">0</text>
<text x="763.50" y="590.17" text-anchor="end" font-size="12.5" textLength="7.0" lengthAdjust="spacingAndGlyphs">5</text>
<text x="763.50" y="456.83" text-anchor="end" font-size="12.5" textLength="14.9" lengthAdjust="spacingAndGlyphs">10</text>
<text x="763.50" y="323.50" text-anchor="end" font-size="12.5" textLength="14.9" lengthAdjust="spacingAndGlyphs">15</text>
<text x="763.50" y="190.17" text-anchor="end" font-size="12.5" textLength="14.9" lengthAdjust="spacingAndGlyphs">20</text>
<text x="856.80" y="73" text-anchor="middle" font-size="16.0" textLength="172.8" lengthAdjust="spacingAndGlyphs">YX, V0*V7=EA28*EA24</text>
<rect x="1019.5" y="160.5" width="15.0" height="480.0" fill="url(#cb)" stroke="#000" stroke-width="1"/>
<text x="1013.2" y="162.80" text-anchor="end" font-size="10" textLength="5.6" lengthAdjust="spacingAndGlyphs">1</text>
<text x="1013.2" y="258.80" text-anchor="end" font-size="10" textLength="5.6" lengthAdjust="spacingAndGlyphs">0</text>
<text x="1013.2" y="354.80" text-anchor="end" font-size="10" textLength="13.9" lengthAdjust="spacingAndGlyphs">−1</text>
<text x="1013.2" y="450.80" text-anchor="end" font-size="10" textLength="13.9" lengthAdjust="spacingAndGlyphs">−2</text>
<text x="1013.2" y="546.80" text-anchor="end" font-size="10" textLength="13.9" lengthAdjust="spacingAndGlyphs">−3</text>
<text x="1013.2" y="642.80" text-anchor="end" font-size="10" textLength="13.9" lengthAdjust="spacingAndGlyphs">−4</text>
<path d="M1019.5 160.50h4M1034.5 160.50h-4M1019.5 256.50h4M1034.5 256.50h-4M1019.5 352.50h4M1034.5 352.50h-4M1019.5 448.50h4M1034.5 448.50h-4M1019.5 544.50h4M1034.5 544.50h-4M1019.5 640.50h4M1034.5 640.50h-4M1022.50 160.5v4M1022.50 640.5v-4M1025.50 160.5v4M1025.50 640.5v-4M1028.50 160.5v4M1028.50 640.5v-4M1031.50 160.5v4M1031.50 640.5v-4" stroke="#000" stroke-width="1" fill="none"/>
<rect x="1017.5" y="646" width="1" height="1" fill="#999"/>
<rect x="1020.7" y="646" width="1" height="1" fill="#999"/>
<rect x="1023.9" y="646" width="1" height="1" fill="#999"/>
<rect x="1027.1" y="646" width="1" height="1" fill="#999"/>
<rect x="1030.3" y="646" width="1" height="1" fill="#999"/>
<rect x="1033.5" y="646" width="1" height="1" fill="#999"/>
<text x="589.5" y="26" text-anchor="middle" font-size="12.5" textLength="127.8" lengthAdjust="spacingAndGlyphs">2021-05-06 0.0-24.0</text>
<text x="483.5" y="754.5" text-anchor="middle" font-size="12.5" textLength="102.5" lengthAdjust="spacingAndGlyphs">frequency (MHz)</text>
<text transform="translate(100.2,400) rotate(-90)" text-anchor="middle" font-size="12.5" textLength="64.7" lengthAdjust="spacingAndGlyphs">UT (hours)</text>
<g transform="translate(984.5,400.5) rotate(-90)" font-size="12.5"><text x="-48.67" y="0" textLength="18.6" lengthAdjust="spacingAndGlyphs">log</text><text x="-29.61" y="2.5" font-size="8.75" textLength="10.6" lengthAdjust="spacingAndGlyphs">10</text><text x="-18.48" y="0" textLength="66.7" lengthAdjust="spacingAndGlyphs" xml:space="preserve"> amplitude</text></g></svg></body></html>
